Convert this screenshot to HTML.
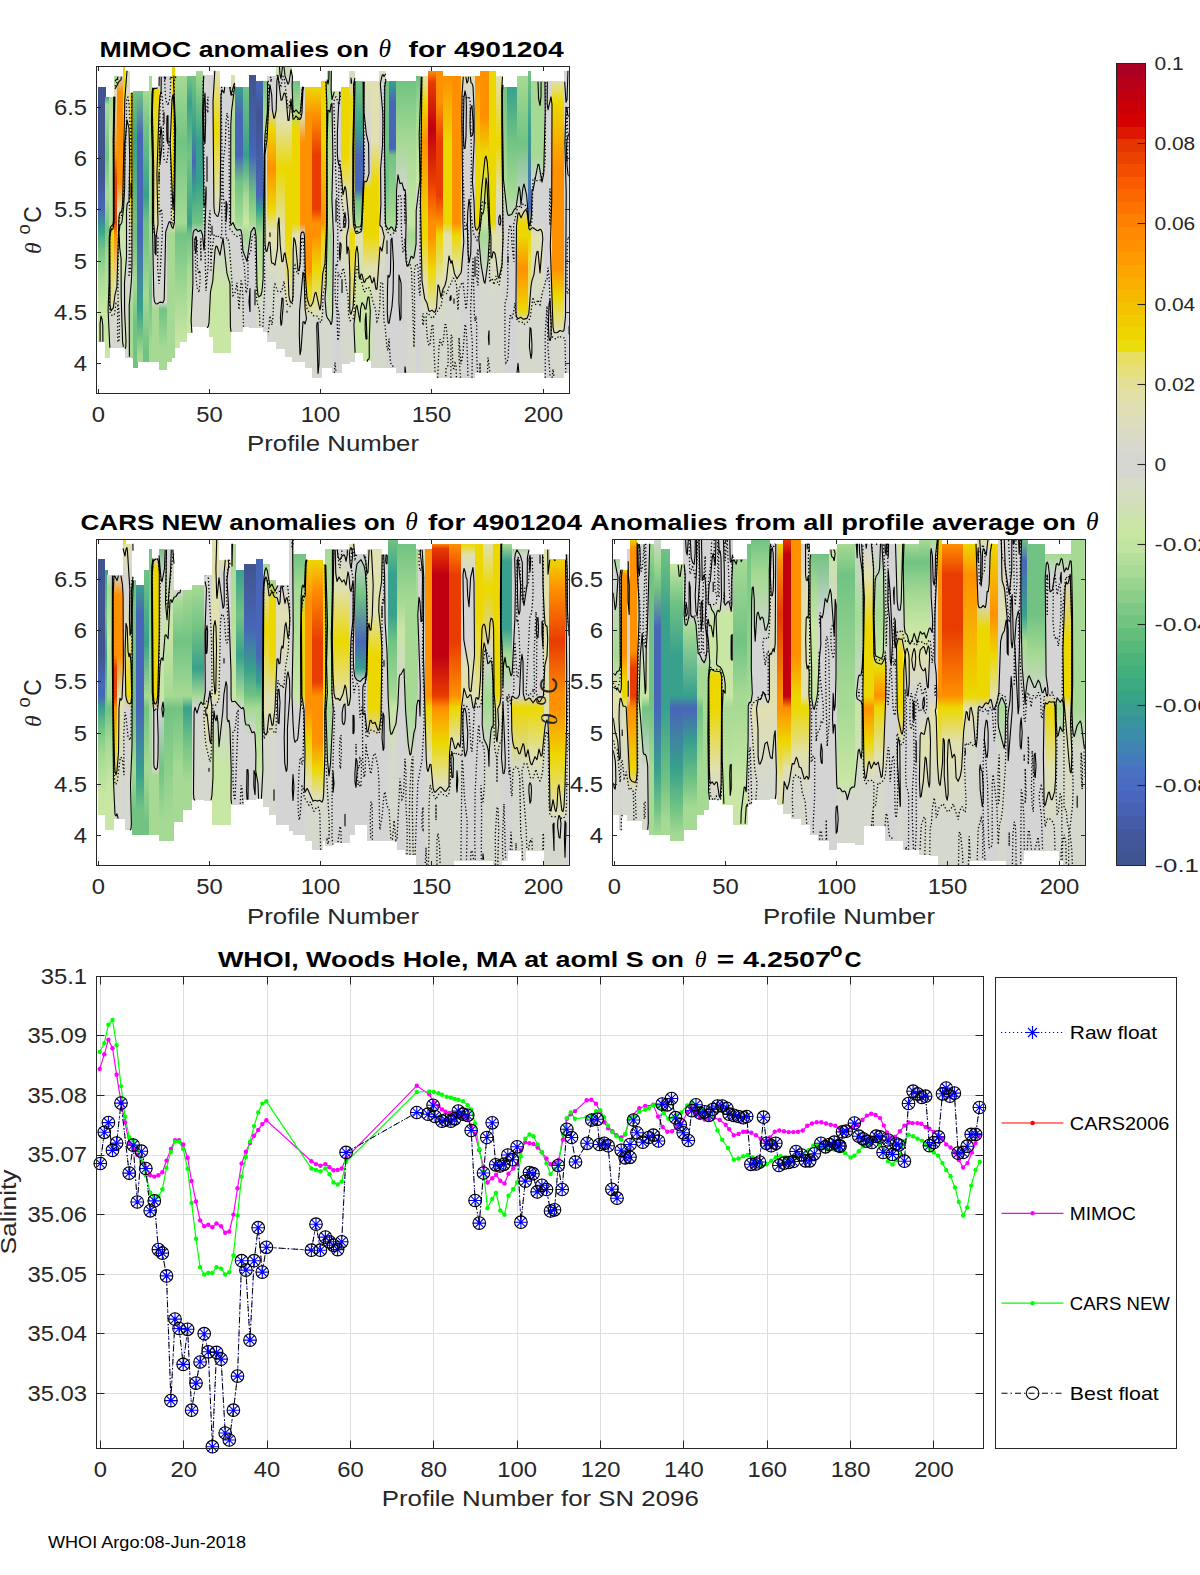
<!DOCTYPE html><html><head><meta charset="utf-8"><style>html,body{margin:0;padding:0;background:#fff;width:1200px;height:1575px;overflow:hidden}svg{display:block}</style></head><body>
<svg width="1200" height="1575" viewBox="0 0 1200 1575">
<rect x="0" y="0" width="1200" height="1575" fill="#fff"/>
<defs><clipPath id="clip0"><rect x="97.00" y="66.80" width="471.80" height="326.20"/></clipPath><linearGradient id="g1" x1="0" y1="0" x2="0" y2="1"><stop offset="0.000" stop-color="#40558f"/><stop offset="0.347" stop-color="#40558f"/><stop offset="0.477" stop-color="#4866b8"/><stop offset="0.557" stop-color="#38a08c"/><stop offset="0.635" stop-color="#72c383"/><stop offset="0.739" stop-color="#a6da94"/><stop offset="0.870" stop-color="#c8e6a4"/></linearGradient><linearGradient id="g2" x1="0" y1="0" x2="0" y2="1"><stop offset="0.000" stop-color="#38a08c"/><stop offset="0.031" stop-color="#a6da94"/><stop offset="0.225" stop-color="#72c383"/><stop offset="0.378" stop-color="#a6da94"/><stop offset="0.507" stop-color="#72c383"/><stop offset="0.609" stop-color="#a6da94"/><stop offset="0.814" stop-color="#c8e6a4"/></linearGradient><linearGradient id="g3" x1="0" y1="0" x2="0" y2="1"><stop offset="0.000" stop-color="#a6da94"/><stop offset="0.181" stop-color="#c8e6a4"/><stop offset="0.502" stop-color="#a6da94"/><stop offset="0.551" stop-color="#ecd800"/><stop offset="0.846" stop-color="#e0e0b0"/><stop offset="0.873" stop-color="#d5d8cd"/></linearGradient><linearGradient id="g4" x1="0" y1="0" x2="0" y2="1"><stop offset="0.000" stop-color="#a6da94"/><stop offset="0.061" stop-color="#e0e0b0"/><stop offset="0.292" stop-color="#ff9000"/><stop offset="0.380" stop-color="#e83c00"/><stop offset="0.540" stop-color="#e83c00"/><stop offset="0.585" stop-color="#ff9000"/><stop offset="0.760" stop-color="#e0e0b0"/><stop offset="0.858" stop-color="#d5d8cd"/></linearGradient><linearGradient id="g5" x1="0" y1="0" x2="0" y2="1"><stop offset="0.000" stop-color="#d4d4d4"/><stop offset="0.061" stop-color="#ff9000"/><stop offset="0.390" stop-color="#ff9000"/><stop offset="0.488" stop-color="#e0e0b0"/><stop offset="0.563" stop-color="#c8e6a4"/><stop offset="0.858" stop-color="#d5d8cd"/></linearGradient><linearGradient id="g6" x1="0" y1="0" x2="0" y2="1"><stop offset="0.000" stop-color="#ecd800"/><stop offset="0.175" stop-color="#ecd800"/><stop offset="0.270" stop-color="#e0e0b0"/><stop offset="0.579" stop-color="#c8e6a4"/><stop offset="0.863" stop-color="#c8e6a4"/></linearGradient><linearGradient id="g7" x1="0" y1="0" x2="0" y2="1"><stop offset="0.000" stop-color="#e0e0b0"/><stop offset="0.109" stop-color="#d4d4d4"/><stop offset="0.530" stop-color="#d4d4d4"/><stop offset="0.573" stop-color="#d4d4d4"/><stop offset="0.830" stop-color="#d5d8cd"/></linearGradient><linearGradient id="g8" x1="0" y1="0" x2="0" y2="1"><stop offset="0.000" stop-color="#ecd800"/><stop offset="0.387" stop-color="#ecd800"/><stop offset="0.513" stop-color="#e0e0b0"/><stop offset="0.665" stop-color="#d5d8cd"/><stop offset="0.816" stop-color="#a6da94"/></linearGradient><linearGradient id="g9" x1="0" y1="0" x2="0" y2="1"><stop offset="0.000" stop-color="#72c383"/><stop offset="0.183" stop-color="#38a08c"/><stop offset="0.475" stop-color="#72c383"/><stop offset="0.520" stop-color="#72c383"/><stop offset="0.691" stop-color="#a6da94"/><stop offset="0.836" stop-color="#72c383"/></linearGradient><linearGradient id="g10" x1="0" y1="0" x2="0" y2="1"><stop offset="0.000" stop-color="#72c383"/><stop offset="0.162" stop-color="#4866b8"/><stop offset="0.485" stop-color="#4866b8"/><stop offset="0.530" stop-color="#4866b8"/><stop offset="0.803" stop-color="#38a08c"/><stop offset="0.902" stop-color="#72c383"/><stop offset="0.975" stop-color="#a6da94"/></linearGradient><linearGradient id="g11" x1="0" y1="0" x2="0" y2="1"><stop offset="0.000" stop-color="#a6da94"/><stop offset="0.138" stop-color="#72c383"/><stop offset="0.384" stop-color="#38a08c"/><stop offset="0.485" stop-color="#72c383"/><stop offset="0.530" stop-color="#72c383"/><stop offset="0.754" stop-color="#a6da94"/><stop offset="0.951" stop-color="#72c383"/></linearGradient><linearGradient id="g12" x1="0" y1="0" x2="0" y2="1"><stop offset="0.000" stop-color="#a6da94"/><stop offset="0.533" stop-color="#a6da94"/><stop offset="0.767" stop-color="#72c383"/><stop offset="0.953" stop-color="#a6da94"/></linearGradient><linearGradient id="g13" x1="0" y1="0" x2="0" y2="1"><stop offset="0.000" stop-color="#d4d4d4"/><stop offset="0.010" stop-color="#ecd800"/><stop offset="0.492" stop-color="#e0e0b0"/><stop offset="0.537" stop-color="#d4d4d4"/><stop offset="0.782" stop-color="#d5d8cd"/><stop offset="0.806" stop-color="#a6da94"/><stop offset="0.952" stop-color="#a6da94"/></linearGradient><linearGradient id="g14" x1="0" y1="0" x2="0" y2="1"><stop offset="0.000" stop-color="#d4d4d4"/><stop offset="0.498" stop-color="#d4d4d4"/><stop offset="0.540" stop-color="#d4d4d4"/><stop offset="0.769" stop-color="#d5d8cd"/><stop offset="0.792" stop-color="#72c383"/><stop offset="0.928" stop-color="#a6da94"/></linearGradient><linearGradient id="g15" x1="0" y1="0" x2="0" y2="1"><stop offset="0.000" stop-color="#d4d4d4"/><stop offset="0.512" stop-color="#d4d4d4"/><stop offset="0.555" stop-color="#a6da94"/><stop offset="0.953" stop-color="#a6da94"/></linearGradient><linearGradient id="g16" x1="0" y1="0" x2="0" y2="1"><stop offset="0.000" stop-color="#ecd800"/><stop offset="0.397" stop-color="#ecd800"/><stop offset="0.536" stop-color="#e0e0b0"/><stop offset="0.578" stop-color="#a6da94"/><stop offset="0.968" stop-color="#a6da94"/></linearGradient><linearGradient id="g17" x1="0" y1="0" x2="0" y2="1"><stop offset="0.000" stop-color="#a6da94"/><stop offset="0.243" stop-color="#72c383"/><stop offset="0.540" stop-color="#a6da94"/><stop offset="0.585" stop-color="#72c383"/><stop offset="0.809" stop-color="#a6da94"/><stop offset="0.980" stop-color="#c8e6a4"/></linearGradient><linearGradient id="g18" x1="0" y1="0" x2="0" y2="1"><stop offset="0.000" stop-color="#a6da94"/><stop offset="0.248" stop-color="#72c383"/><stop offset="0.551" stop-color="#a6da94"/><stop offset="0.597" stop-color="#72c383"/><stop offset="0.825" stop-color="#a6da94"/><stop offset="1.000" stop-color="#c8e6a4"/></linearGradient><linearGradient id="g19" x1="0" y1="0" x2="0" y2="1"><stop offset="0.000" stop-color="#72c383"/><stop offset="0.101" stop-color="#38a08c"/><stop offset="0.309" stop-color="#72c383"/><stop offset="0.571" stop-color="#38a08c"/><stop offset="0.619" stop-color="#72c383"/><stop offset="0.751" stop-color="#a6da94"/><stop offset="0.958" stop-color="#c8e6a4"/></linearGradient><linearGradient id="g20" x1="0" y1="0" x2="0" y2="1"><stop offset="0.000" stop-color="#72c383"/><stop offset="0.210" stop-color="#38a08c"/><stop offset="0.343" stop-color="#4866b8"/><stop offset="0.449" stop-color="#38a08c"/><stop offset="0.584" stop-color="#72c383"/><stop offset="0.633" stop-color="#d4d4d4"/><stop offset="0.981" stop-color="#d5d8cd"/></linearGradient><linearGradient id="g21" x1="0" y1="0" x2="0" y2="1"><stop offset="0.000" stop-color="#a6da94"/><stop offset="0.122" stop-color="#72c383"/><stop offset="0.278" stop-color="#38a08c"/><stop offset="0.434" stop-color="#38a08c"/><stop offset="0.593" stop-color="#72c383"/><stop offset="0.641" stop-color="#d4d4d4"/><stop offset="0.982" stop-color="#d5d8cd"/></linearGradient><linearGradient id="g22" x1="0" y1="0" x2="0" y2="1"><stop offset="0.000" stop-color="#d4d4d4"/><stop offset="0.585" stop-color="#d4d4d4"/><stop offset="0.634" stop-color="#d4d4d4"/><stop offset="0.981" stop-color="#d5d8cd"/></linearGradient><linearGradient id="g23" x1="0" y1="0" x2="0" y2="1"><stop offset="0.000" stop-color="#d4d4d4"/><stop offset="0.563" stop-color="#d4d4d4"/><stop offset="0.610" stop-color="#d4d4d4"/><stop offset="0.791" stop-color="#d5d8cd"/><stop offset="0.817" stop-color="#c8e6a4"/><stop offset="0.995" stop-color="#c8e6a4"/></linearGradient><linearGradient id="g24" x1="0" y1="0" x2="0" y2="1"><stop offset="0.000" stop-color="#e0e0b0"/><stop offset="0.205" stop-color="#ecd800"/><stop offset="0.442" stop-color="#e0e0b0"/><stop offset="0.538" stop-color="#d4d4d4"/><stop offset="0.582" stop-color="#d4d4d4"/><stop offset="0.764" stop-color="#c8e6a4"/><stop offset="0.986" stop-color="#c8e6a4"/></linearGradient><linearGradient id="g25" x1="0" y1="0" x2="0" y2="1"><stop offset="0.000" stop-color="#d4d4d4"/><stop offset="0.511" stop-color="#d4d4d4"/><stop offset="0.557" stop-color="#d4d4d4"/><stop offset="0.785" stop-color="#c8e6a4"/><stop offset="0.985" stop-color="#c8e6a4"/></linearGradient><linearGradient id="g26" x1="0" y1="0" x2="0" y2="1"><stop offset="0.000" stop-color="#e0e0b0"/><stop offset="0.208" stop-color="#a6da94"/><stop offset="0.575" stop-color="#c8e6a4"/><stop offset="0.623" stop-color="#d4d4d4"/><stop offset="1.000" stop-color="#d5d8cd"/></linearGradient><linearGradient id="g27" x1="0" y1="0" x2="0" y2="1"><stop offset="0.000" stop-color="#38a08c"/><stop offset="0.117" stop-color="#4866b8"/><stop offset="0.280" stop-color="#4866b8"/><stop offset="0.389" stop-color="#72c383"/><stop offset="0.555" stop-color="#a6da94"/><stop offset="0.605" stop-color="#d4d4d4"/><stop offset="1.000" stop-color="#d5d8cd"/></linearGradient><linearGradient id="g28" x1="0" y1="0" x2="0" y2="1"><stop offset="0.000" stop-color="#72c383"/><stop offset="0.286" stop-color="#38a08c"/><stop offset="0.452" stop-color="#a6da94"/><stop offset="0.566" stop-color="#c8e6a4"/><stop offset="0.617" stop-color="#a6da94"/><stop offset="0.703" stop-color="#d4d4d4"/></linearGradient><linearGradient id="g29" x1="0" y1="0" x2="0" y2="1"><stop offset="0.000" stop-color="#40558f"/><stop offset="0.317" stop-color="#4866b8"/><stop offset="0.476" stop-color="#72c383"/><stop offset="0.584" stop-color="#a6da94"/><stop offset="0.633" stop-color="#d4d4d4"/></linearGradient><linearGradient id="g30" x1="0" y1="0" x2="0" y2="1"><stop offset="0.000" stop-color="#4866b8"/><stop offset="0.138" stop-color="#40558f"/><stop offset="0.463" stop-color="#4866b8"/><stop offset="0.517" stop-color="#38a08c"/><stop offset="0.575" stop-color="#72c383"/><stop offset="0.624" stop-color="#a6da94"/><stop offset="0.816" stop-color="#c8e6a4"/><stop offset="0.924" stop-color="#d5d8cd"/></linearGradient><linearGradient id="g31" x1="0" y1="0" x2="0" y2="1"><stop offset="0.000" stop-color="#72c383"/><stop offset="0.136" stop-color="#a6da94"/><stop offset="0.296" stop-color="#e0e0b0"/><stop offset="0.590" stop-color="#e0e0b0"/><stop offset="0.696" stop-color="#d4d4d4"/></linearGradient><linearGradient id="g32" x1="0" y1="0" x2="0" y2="1"><stop offset="0.000" stop-color="#d4d4d4"/><stop offset="0.123" stop-color="#d4d4d4"/><stop offset="0.198" stop-color="#ecd800"/><stop offset="0.348" stop-color="#ff9000"/><stop offset="0.498" stop-color="#ecd800"/><stop offset="0.574" stop-color="#e0e0b0"/><stop offset="0.625" stop-color="#e0e0b0"/><stop offset="0.775" stop-color="#d5d8cd"/></linearGradient><linearGradient id="g33" x1="0" y1="0" x2="0" y2="1"><stop offset="0.000" stop-color="#c8e6a4"/><stop offset="0.057" stop-color="#d4d4d4"/><stop offset="0.198" stop-color="#e0e0b0"/><stop offset="0.363" stop-color="#ecd800"/><stop offset="0.576" stop-color="#e0e0b0"/><stop offset="0.623" stop-color="#e0e0b0"/><stop offset="0.812" stop-color="#d5d8cd"/></linearGradient><linearGradient id="g34" x1="0" y1="0" x2="0" y2="1"><stop offset="0.000" stop-color="#c8e6a4"/><stop offset="0.055" stop-color="#d4d4d4"/><stop offset="0.192" stop-color="#e0e0b0"/><stop offset="0.353" stop-color="#ecd800"/><stop offset="0.539" stop-color="#ecd800"/><stop offset="0.581" stop-color="#ecd800"/><stop offset="0.789" stop-color="#e0e0b0"/><stop offset="0.835" stop-color="#d5d8cd"/></linearGradient><linearGradient id="g35" x1="0" y1="0" x2="0" y2="1"><stop offset="0.000" stop-color="#72c383"/><stop offset="0.097" stop-color="#a6da94"/><stop offset="0.168" stop-color="#ecd800"/><stop offset="0.504" stop-color="#ecd800"/><stop offset="0.547" stop-color="#e0e0b0"/><stop offset="0.715" stop-color="#d5d8cd"/></linearGradient><linearGradient id="g36" x1="0" y1="0" x2="0" y2="1"><stop offset="0.000" stop-color="#d4d4d4"/><stop offset="0.104" stop-color="#e0e0b0"/><stop offset="0.201" stop-color="#ff9000"/><stop offset="0.494" stop-color="#ff9000"/><stop offset="0.538" stop-color="#d4d4d4"/><stop offset="0.807" stop-color="#d5d8cd"/></linearGradient><linearGradient id="g37" x1="0" y1="0" x2="0" y2="1"><stop offset="0.000" stop-color="#ecd800"/><stop offset="0.102" stop-color="#ff9000"/><stop offset="0.339" stop-color="#ff9000"/><stop offset="0.485" stop-color="#ff9000"/><stop offset="0.528" stop-color="#ff9000"/><stop offset="0.649" stop-color="#ff9000"/><stop offset="0.720" stop-color="#ecd800"/><stop offset="0.815" stop-color="#d5d8cd"/></linearGradient><linearGradient id="g38" x1="0" y1="0" x2="0" y2="1"><stop offset="0.000" stop-color="#ecd800"/><stop offset="0.098" stop-color="#ff9000"/><stop offset="0.235" stop-color="#e83c00"/><stop offset="0.418" stop-color="#e83c00"/><stop offset="0.467" stop-color="#ff9000"/><stop offset="0.509" stop-color="#ff9000"/><stop offset="0.625" stop-color="#ecd800"/><stop offset="0.762" stop-color="#e0e0b0"/><stop offset="0.808" stop-color="#d5d8cd"/></linearGradient><linearGradient id="g39" x1="0" y1="0" x2="0" y2="1"><stop offset="0.000" stop-color="#ecd800"/><stop offset="0.212" stop-color="#ecd800"/><stop offset="0.495" stop-color="#ff9000"/><stop offset="0.537" stop-color="#ecd800"/><stop offset="0.749" stop-color="#d5d8cd"/></linearGradient><linearGradient id="g40" x1="0" y1="0" x2="0" y2="1"><stop offset="0.000" stop-color="#a6da94"/><stop offset="0.070" stop-color="#a6da94"/><stop offset="0.513" stop-color="#c8e6a4"/><stop offset="0.553" stop-color="#a6da94"/><stop offset="0.802" stop-color="#c8e6a4"/><stop offset="0.847" stop-color="#d5d8cd"/></linearGradient><linearGradient id="g41" x1="0" y1="0" x2="0" y2="1"><stop offset="0.000" stop-color="#c8e6a4"/><stop offset="0.038" stop-color="#d4d4d4"/><stop offset="0.467" stop-color="#d4d4d4"/><stop offset="0.510" stop-color="#d4d4d4"/></linearGradient><linearGradient id="g42" x1="0" y1="0" x2="0" y2="1"><stop offset="0.000" stop-color="#ecd800"/><stop offset="0.248" stop-color="#ecd800"/><stop offset="0.392" stop-color="#e0e0b0"/><stop offset="0.492" stop-color="#d4d4d4"/><stop offset="0.535" stop-color="#e0e0b0"/><stop offset="0.706" stop-color="#d5d8cd"/></linearGradient><linearGradient id="g43" x1="0" y1="0" x2="0" y2="1"><stop offset="0.000" stop-color="#e0e0b0"/><stop offset="0.039" stop-color="#d4d4d4"/><stop offset="0.107" stop-color="#ecd800"/><stop offset="0.522" stop-color="#e0e0b0"/><stop offset="0.563" stop-color="#ecd800"/><stop offset="0.817" stop-color="#e0e0b0"/><stop offset="0.863" stop-color="#d5d8cd"/></linearGradient><linearGradient id="g44" x1="0" y1="0" x2="0" y2="1"><stop offset="0.000" stop-color="#72c383"/><stop offset="0.174" stop-color="#38a08c"/><stop offset="0.272" stop-color="#4866b8"/><stop offset="0.395" stop-color="#4866b8"/><stop offset="0.444" stop-color="#72c383"/><stop offset="0.521" stop-color="#a6da94"/><stop offset="0.566" stop-color="#e0e0b0"/><stop offset="0.838" stop-color="#c8e6a4"/></linearGradient><linearGradient id="g45" x1="0" y1="0" x2="0" y2="1"><stop offset="0.000" stop-color="#e0e0b0"/><stop offset="0.217" stop-color="#d4d4d4"/><stop offset="0.336" stop-color="#d4d4d4"/><stop offset="0.384" stop-color="#ecd800"/><stop offset="0.506" stop-color="#ecd800"/><stop offset="0.549" stop-color="#ecd800"/><stop offset="0.671" stop-color="#e0e0b0"/><stop offset="0.814" stop-color="#c8e6a4"/></linearGradient><linearGradient id="g46" x1="0" y1="0" x2="0" y2="1"><stop offset="0.000" stop-color="#e0e0b0"/><stop offset="0.212" stop-color="#e0e0b0"/><stop offset="0.352" stop-color="#ecd800"/><stop offset="0.495" stop-color="#ecd800"/><stop offset="0.537" stop-color="#ecd800"/><stop offset="0.655" stop-color="#e0e0b0"/><stop offset="0.795" stop-color="#d5d8cd"/></linearGradient><linearGradient id="g47" x1="0" y1="0" x2="0" y2="1"><stop offset="0.000" stop-color="#e0e0b0"/><stop offset="0.038" stop-color="#d4d4d4"/><stop offset="0.513" stop-color="#d4d4d4"/><stop offset="0.553" stop-color="#e0e0b0"/><stop offset="0.713" stop-color="#d5d8cd"/></linearGradient><linearGradient id="g48" x1="0" y1="0" x2="0" y2="1"><stop offset="0.000" stop-color="#72c383"/><stop offset="0.352" stop-color="#72c383"/><stop offset="0.495" stop-color="#a6da94"/><stop offset="0.537" stop-color="#d4d4d4"/></linearGradient><linearGradient id="g49" x1="0" y1="0" x2="0" y2="1"><stop offset="0.000" stop-color="#38a08c"/><stop offset="0.072" stop-color="#4866b8"/><stop offset="0.235" stop-color="#4866b8"/><stop offset="0.258" stop-color="#72c383"/><stop offset="0.495" stop-color="#a6da94"/><stop offset="0.537" stop-color="#d4d4d4"/></linearGradient><linearGradient id="g50" x1="0" y1="0" x2="0" y2="1"><stop offset="0.000" stop-color="#72c383"/><stop offset="0.208" stop-color="#a6da94"/><stop offset="0.391" stop-color="#d4d4d4"/><stop offset="0.485" stop-color="#d4d4d4"/><stop offset="0.527" stop-color="#d4d4d4"/></linearGradient><linearGradient id="g51" x1="0" y1="0" x2="0" y2="1"><stop offset="0.000" stop-color="#72c383"/><stop offset="0.208" stop-color="#a6da94"/><stop offset="0.485" stop-color="#c8e6a4"/><stop offset="0.527" stop-color="#a6da94"/><stop offset="0.643" stop-color="#d5d8cd"/></linearGradient><linearGradient id="g52" x1="0" y1="0" x2="0" y2="1"><stop offset="0.000" stop-color="#72c383"/><stop offset="0.132" stop-color="#a6da94"/><stop offset="0.357" stop-color="#c8e6a4"/><stop offset="0.402" stop-color="#d4d4d4"/><stop offset="0.495" stop-color="#d4d4d4"/><stop offset="0.535" stop-color="#d4d4d4"/></linearGradient><linearGradient id="g53" x1="0" y1="0" x2="0" y2="1"><stop offset="0.000" stop-color="#e0e0b0"/><stop offset="0.088" stop-color="#ecd800"/><stop offset="0.222" stop-color="#ff9000"/><stop offset="0.495" stop-color="#ecd800"/><stop offset="0.535" stop-color="#ecd800"/><stop offset="0.695" stop-color="#e0e0b0"/><stop offset="0.807" stop-color="#d5d8cd"/></linearGradient><linearGradient id="g54" x1="0" y1="0" x2="0" y2="1"><stop offset="0.000" stop-color="#ff9000"/><stop offset="0.037" stop-color="#e83c00"/><stop offset="0.192" stop-color="#c00010"/><stop offset="0.368" stop-color="#e83c00"/><stop offset="0.504" stop-color="#ff9000"/><stop offset="0.544" stop-color="#ff9000"/><stop offset="0.656" stop-color="#ecd800"/><stop offset="0.788" stop-color="#e0e0b0"/><stop offset="0.810" stop-color="#d5d8cd"/></linearGradient><linearGradient id="g55" x1="0" y1="0" x2="0" y2="1"><stop offset="0.000" stop-color="#ff9000"/><stop offset="0.102" stop-color="#ff9000"/><stop offset="0.232" stop-color="#e83c00"/><stop offset="0.405" stop-color="#e83c00"/><stop offset="0.495" stop-color="#ff9000"/><stop offset="0.534" stop-color="#ecd800"/><stop offset="0.688" stop-color="#e0e0b0"/><stop offset="0.796" stop-color="#d5d8cd"/></linearGradient><linearGradient id="g56" x1="0" y1="0" x2="0" y2="1"><stop offset="0.000" stop-color="#ff9000"/><stop offset="0.218" stop-color="#ecd800"/><stop offset="0.486" stop-color="#ecd800"/><stop offset="0.526" stop-color="#e0e0b0"/><stop offset="0.638" stop-color="#e0e0b0"/><stop offset="0.727" stop-color="#d5d8cd"/></linearGradient><linearGradient id="g57" x1="0" y1="0" x2="0" y2="1"><stop offset="0.000" stop-color="#ff9000"/><stop offset="0.130" stop-color="#ff9000"/><stop offset="0.486" stop-color="#ff9000"/><stop offset="0.526" stop-color="#ecd800"/><stop offset="0.638" stop-color="#e0e0b0"/><stop offset="0.682" stop-color="#d5d8cd"/></linearGradient><linearGradient id="g58" x1="0" y1="0" x2="0" y2="1"><stop offset="0.000" stop-color="#e0e0b0"/><stop offset="0.064" stop-color="#d4d4d4"/><stop offset="0.486" stop-color="#d4d4d4"/><stop offset="0.526" stop-color="#d4d4d4"/></linearGradient><linearGradient id="g59" x1="0" y1="0" x2="0" y2="1"><stop offset="0.000" stop-color="#ff9000"/><stop offset="0.267" stop-color="#ecd800"/><stop offset="0.495" stop-color="#ecd800"/><stop offset="0.535" stop-color="#d4d4d4"/></linearGradient><linearGradient id="g60" x1="0" y1="0" x2="0" y2="1"><stop offset="0.000" stop-color="#ff9000"/><stop offset="0.148" stop-color="#ff9000"/><stop offset="0.280" stop-color="#ecd800"/><stop offset="0.504" stop-color="#c8e6a4"/><stop offset="0.544" stop-color="#a6da94"/><stop offset="0.678" stop-color="#d5d8cd"/></linearGradient><linearGradient id="g61" x1="0" y1="0" x2="0" y2="1"><stop offset="0.000" stop-color="#ecd800"/><stop offset="0.504" stop-color="#ecd800"/><stop offset="0.544" stop-color="#e0e0b0"/><stop offset="0.744" stop-color="#d5d8cd"/></linearGradient><linearGradient id="g62" x1="0" y1="0" x2="0" y2="1"><stop offset="0.000" stop-color="#e0e0b0"/><stop offset="0.222" stop-color="#ecd800"/><stop offset="0.402" stop-color="#e0e0b0"/><stop offset="0.495" stop-color="#d4d4d4"/><stop offset="0.535" stop-color="#e0e0b0"/><stop offset="0.740" stop-color="#d5d8cd"/></linearGradient><linearGradient id="g63" x1="0" y1="0" x2="0" y2="1"><stop offset="0.000" stop-color="#72c383"/><stop offset="0.333" stop-color="#a6da94"/><stop offset="0.476" stop-color="#d4d4d4"/><stop offset="0.518" stop-color="#d4d4d4"/></linearGradient><linearGradient id="g64" x1="0" y1="0" x2="0" y2="1"><stop offset="0.000" stop-color="#38a08c"/><stop offset="0.193" stop-color="#72c383"/><stop offset="0.380" stop-color="#a6da94"/><stop offset="0.476" stop-color="#d4d4d4"/><stop offset="0.518" stop-color="#d4d4d4"/></linearGradient><linearGradient id="g65" x1="0" y1="0" x2="0" y2="1"><stop offset="0.000" stop-color="#a6da94"/><stop offset="0.222" stop-color="#72c383"/><stop offset="0.447" stop-color="#d4d4d4"/><stop offset="0.495" stop-color="#ecd800"/><stop offset="0.535" stop-color="#ecd800"/><stop offset="0.650" stop-color="#ff9000"/><stop offset="0.785" stop-color="#ecd800"/><stop offset="0.829" stop-color="#d5d8cd"/></linearGradient><linearGradient id="g66" x1="0" y1="0" x2="0" y2="1"><stop offset="0.000" stop-color="#72c383"/><stop offset="0.192" stop-color="#38a08c"/><stop offset="0.456" stop-color="#4866b8"/><stop offset="0.504" stop-color="#a6da94"/><stop offset="0.544" stop-color="#ecd800"/><stop offset="0.788" stop-color="#e0e0b0"/><stop offset="0.832" stop-color="#d5d8cd"/></linearGradient><linearGradient id="g67" x1="0" y1="0" x2="0" y2="1"><stop offset="0.000" stop-color="#a6da94"/><stop offset="0.254" stop-color="#a6da94"/><stop offset="0.345" stop-color="#d4d4d4"/><stop offset="0.485" stop-color="#d4d4d4"/><stop offset="0.527" stop-color="#e0e0b0"/><stop offset="0.781" stop-color="#d5d8cd"/></linearGradient><linearGradient id="g68" x1="0" y1="0" x2="0" y2="1"><stop offset="0.000" stop-color="#d4d4d4"/><stop offset="0.477" stop-color="#d4d4d4"/><stop offset="0.517" stop-color="#d4d4d4"/></linearGradient><linearGradient id="g69" x1="0" y1="0" x2="0" y2="1"><stop offset="0.000" stop-color="#e0e0b0"/><stop offset="0.070" stop-color="#ecd800"/><stop offset="0.294" stop-color="#ff9000"/><stop offset="0.477" stop-color="#ff9000"/><stop offset="0.517" stop-color="#ff9000"/><stop offset="0.632" stop-color="#ff9000"/><stop offset="0.722" stop-color="#ecd800"/><stop offset="0.834" stop-color="#e0e0b0"/><stop offset="0.856" stop-color="#d5d8cd"/></linearGradient><linearGradient id="g70" x1="0" y1="0" x2="0" y2="1"><stop offset="0.000" stop-color="#d4d4d4"/><stop offset="0.504" stop-color="#d4d4d4"/><stop offset="0.544" stop-color="#d4d4d4"/></linearGradient><clipPath id="clip71"><rect x="97.00" y="539.70" width="471.80" height="325.30"/></clipPath><linearGradient id="g72" x1="0" y1="0" x2="0" y2="1"><stop offset="0.000" stop-color="#40558f"/><stop offset="0.375" stop-color="#40558f"/><stop offset="0.479" stop-color="#4866b8"/><stop offset="0.534" stop-color="#4866b8"/><stop offset="0.581" stop-color="#38a08c"/><stop offset="0.662" stop-color="#72c383"/><stop offset="0.766" stop-color="#a6da94"/><stop offset="0.922" stop-color="#c8e6a4"/></linearGradient><linearGradient id="g73" x1="0" y1="0" x2="0" y2="1"><stop offset="0.000" stop-color="#38a08c"/><stop offset="0.174" stop-color="#72c383"/><stop offset="0.328" stop-color="#38a08c"/><stop offset="0.485" stop-color="#72c383"/><stop offset="0.531" stop-color="#72c383"/><stop offset="0.662" stop-color="#a6da94"/><stop offset="0.867" stop-color="#c8e6a4"/></linearGradient><linearGradient id="g74" x1="0" y1="0" x2="0" y2="1"><stop offset="0.000" stop-color="#d4d4d4"/><stop offset="0.052" stop-color="#a6da94"/><stop offset="0.261" stop-color="#c8e6a4"/><stop offset="0.474" stop-color="#a6da94"/><stop offset="0.522" stop-color="#72c383"/><stop offset="0.655" stop-color="#a6da94"/><stop offset="0.812" stop-color="#c8e6a4"/></linearGradient><linearGradient id="g75" x1="0" y1="0" x2="0" y2="1"><stop offset="0.000" stop-color="#d4d4d4"/><stop offset="0.082" stop-color="#ff9000"/><stop offset="0.327" stop-color="#ff9000"/><stop offset="0.382" stop-color="#e83c00"/><stop offset="0.495" stop-color="#e83c00"/><stop offset="0.544" stop-color="#ff9000"/><stop offset="0.683" stop-color="#ecd800"/><stop offset="0.874" stop-color="#d5d8cd"/></linearGradient><linearGradient id="g76" x1="0" y1="0" x2="0" y2="1"><stop offset="0.000" stop-color="#d4d4d4"/><stop offset="0.082" stop-color="#ff9000"/><stop offset="0.327" stop-color="#ff9000"/><stop offset="0.495" stop-color="#e0e0b0"/><stop offset="0.544" stop-color="#e0e0b0"/><stop offset="0.847" stop-color="#d5d8cd"/></linearGradient><linearGradient id="g77" x1="0" y1="0" x2="0" y2="1"><stop offset="0.000" stop-color="#ecd800"/><stop offset="0.033" stop-color="#e0e0b0"/><stop offset="0.176" stop-color="#d4d4d4"/><stop offset="0.560" stop-color="#d4d4d4"/><stop offset="0.603" stop-color="#d4d4d4"/></linearGradient><linearGradient id="g78" x1="0" y1="0" x2="0" y2="1"><stop offset="0.000" stop-color="#e0e0b0"/><stop offset="0.156" stop-color="#d4d4d4"/><stop offset="0.296" stop-color="#e0e0b0"/><stop offset="0.532" stop-color="#ecd800"/><stop offset="0.574" stop-color="#d4d4d4"/><stop offset="0.786" stop-color="#d5d8cd"/></linearGradient><linearGradient id="g79" x1="0" y1="0" x2="0" y2="1"><stop offset="0.000" stop-color="#72c383"/><stop offset="0.453" stop-color="#72c383"/><stop offset="0.501" stop-color="#72c383"/><stop offset="0.739" stop-color="#a6da94"/><stop offset="0.895" stop-color="#72c383"/></linearGradient><linearGradient id="g80" x1="0" y1="0" x2="0" y2="1"><stop offset="0.000" stop-color="#38a08c"/><stop offset="0.120" stop-color="#4866b8"/><stop offset="0.443" stop-color="#4866b8"/><stop offset="0.491" stop-color="#4866b8"/><stop offset="0.760" stop-color="#38a08c"/><stop offset="0.893" stop-color="#72c383"/></linearGradient><linearGradient id="g81" x1="0" y1="0" x2="0" y2="1"><stop offset="0.000" stop-color="#72c383"/><stop offset="0.271" stop-color="#38a08c"/><stop offset="0.475" stop-color="#a6da94"/><stop offset="0.521" stop-color="#72c383"/><stop offset="0.749" stop-color="#a6da94"/><stop offset="0.950" stop-color="#72c383"/></linearGradient><linearGradient id="g82" x1="0" y1="0" x2="0" y2="1"><stop offset="0.000" stop-color="#72c383"/><stop offset="0.513" stop-color="#a6da94"/><stop offset="0.555" stop-color="#a6da94"/><stop offset="0.953" stop-color="#a6da94"/></linearGradient><linearGradient id="g83" x1="0" y1="0" x2="0" y2="1"><stop offset="0.000" stop-color="#d4d4d4"/><stop offset="0.036" stop-color="#ecd800"/><stop offset="0.497" stop-color="#ecd800"/><stop offset="0.540" stop-color="#d4d4d4"/><stop offset="0.759" stop-color="#d5d8cd"/><stop offset="0.783" stop-color="#a6da94"/></linearGradient><linearGradient id="g84" x1="0" y1="0" x2="0" y2="1"><stop offset="0.000" stop-color="#72c383"/><stop offset="0.089" stop-color="#d4d4d4"/><stop offset="0.504" stop-color="#c8e6a4"/><stop offset="0.545" stop-color="#d4d4d4"/><stop offset="0.753" stop-color="#72c383"/><stop offset="0.936" stop-color="#a6da94"/></linearGradient><linearGradient id="g85" x1="0" y1="0" x2="0" y2="1"><stop offset="0.000" stop-color="#d4d4d4"/><stop offset="0.272" stop-color="#c8e6a4"/><stop offset="0.504" stop-color="#a6da94"/><stop offset="0.545" stop-color="#72c383"/><stop offset="0.936" stop-color="#a6da94"/></linearGradient><linearGradient id="g86" x1="0" y1="0" x2="0" y2="1"><stop offset="0.000" stop-color="#d4d4d4"/><stop offset="0.052" stop-color="#a6da94"/><stop offset="0.224" stop-color="#72c383"/><stop offset="0.457" stop-color="#a6da94"/><stop offset="0.509" stop-color="#72c383"/><stop offset="0.770" stop-color="#a6da94"/></linearGradient><linearGradient id="g87" x1="0" y1="0" x2="0" y2="1"><stop offset="0.000" stop-color="#a6da94"/><stop offset="0.236" stop-color="#72c383"/><stop offset="0.482" stop-color="#a6da94"/><stop offset="0.537" stop-color="#38a08c"/><stop offset="0.691" stop-color="#72c383"/><stop offset="0.873" stop-color="#a6da94"/></linearGradient><linearGradient id="g88" x1="0" y1="0" x2="0" y2="1"><stop offset="0.000" stop-color="#a6da94"/><stop offset="0.202" stop-color="#72c383"/><stop offset="0.388" stop-color="#38a08c"/><stop offset="0.516" stop-color="#a6da94"/><stop offset="0.572" stop-color="#d4d4d4"/><stop offset="0.730" stop-color="#d5d8cd"/></linearGradient><linearGradient id="g89" x1="0" y1="0" x2="0" y2="1"><stop offset="0.000" stop-color="#d4d4d4"/><stop offset="0.536" stop-color="#d4d4d4"/><stop offset="0.589" stop-color="#e0e0b0"/><stop offset="0.858" stop-color="#d5d8cd"/></linearGradient><linearGradient id="g90" x1="0" y1="0" x2="0" y2="1"><stop offset="0.000" stop-color="#e0e0b0"/><stop offset="0.549" stop-color="#e0e0b0"/><stop offset="0.592" stop-color="#d4d4d4"/><stop offset="0.781" stop-color="#c8e6a4"/></linearGradient><linearGradient id="g91" x1="0" y1="0" x2="0" y2="1"><stop offset="0.000" stop-color="#e0e0b0"/><stop offset="0.058" stop-color="#d4d4d4"/><stop offset="0.514" stop-color="#d4d4d4"/><stop offset="0.560" stop-color="#d4d4d4"/><stop offset="0.789" stop-color="#c8e6a4"/></linearGradient><linearGradient id="g92" x1="0" y1="0" x2="0" y2="1"><stop offset="0.000" stop-color="#a6da94"/><stop offset="0.583" stop-color="#c8e6a4"/><stop offset="0.630" stop-color="#d4d4d4"/></linearGradient><linearGradient id="g93" x1="0" y1="0" x2="0" y2="1"><stop offset="0.000" stop-color="#38a08c"/><stop offset="0.193" stop-color="#72c383"/><stop offset="0.363" stop-color="#38a08c"/><stop offset="0.537" stop-color="#a6da94"/><stop offset="0.589" stop-color="#d4d4d4"/></linearGradient><linearGradient id="g94" x1="0" y1="0" x2="0" y2="1"><stop offset="0.000" stop-color="#40558f"/><stop offset="0.272" stop-color="#4866b8"/><stop offset="0.441" stop-color="#38a08c"/><stop offset="0.558" stop-color="#72c383"/><stop offset="0.610" stop-color="#a6da94"/><stop offset="0.726" stop-color="#d4d4d4"/></linearGradient><linearGradient id="g95" x1="0" y1="0" x2="0" y2="1"><stop offset="0.000" stop-color="#4866b8"/><stop offset="0.399" stop-color="#4866b8"/><stop offset="0.510" stop-color="#38a08c"/><stop offset="0.570" stop-color="#72c383"/><stop offset="0.620" stop-color="#a6da94"/><stop offset="0.872" stop-color="#c8e6a4"/><stop offset="0.928" stop-color="#d5d8cd"/></linearGradient><linearGradient id="g96" x1="0" y1="0" x2="0" y2="1"><stop offset="0.000" stop-color="#a6da94"/><stop offset="0.099" stop-color="#e0e0b0"/><stop offset="0.263" stop-color="#ecd800"/><stop offset="0.542" stop-color="#e0e0b0"/><stop offset="0.591" stop-color="#e0e0b0"/><stop offset="0.731" stop-color="#d5d8cd"/></linearGradient><linearGradient id="g97" x1="0" y1="0" x2="0" y2="1"><stop offset="0.000" stop-color="#a6da94"/><stop offset="0.091" stop-color="#ecd800"/><stop offset="0.318" stop-color="#ecd800"/><stop offset="0.492" stop-color="#e0e0b0"/><stop offset="0.543" stop-color="#e0e0b0"/><stop offset="0.688" stop-color="#d5d8cd"/></linearGradient><linearGradient id="g98" x1="0" y1="0" x2="0" y2="1"><stop offset="0.000" stop-color="#d4d4d4"/><stop offset="0.125" stop-color="#e0e0b0"/><stop offset="0.463" stop-color="#d4d4d4"/><stop offset="0.513" stop-color="#d4d4d4"/></linearGradient><linearGradient id="g99" x1="0" y1="0" x2="0" y2="1"><stop offset="0.000" stop-color="#d4d4d4"/><stop offset="0.537" stop-color="#d4d4d4"/><stop offset="0.578" stop-color="#d4d4d4"/></linearGradient><linearGradient id="g100" x1="0" y1="0" x2="0" y2="1"><stop offset="0.000" stop-color="#72c383"/><stop offset="0.121" stop-color="#a6da94"/><stop offset="0.504" stop-color="#c8e6a4"/><stop offset="0.547" stop-color="#d4d4d4"/></linearGradient><linearGradient id="g101" x1="0" y1="0" x2="0" y2="1"><stop offset="0.000" stop-color="#72c383"/><stop offset="0.121" stop-color="#a6da94"/><stop offset="0.216" stop-color="#ecd800"/><stop offset="0.504" stop-color="#ecd800"/><stop offset="0.547" stop-color="#d4d4d4"/></linearGradient><linearGradient id="g102" x1="0" y1="0" x2="0" y2="1"><stop offset="0.000" stop-color="#ecd800"/><stop offset="0.149" stop-color="#ff9000"/><stop offset="0.485" stop-color="#ff9000"/><stop offset="0.528" stop-color="#ff9000"/><stop offset="0.649" stop-color="#ecd800"/><stop offset="0.791" stop-color="#e0e0b0"/><stop offset="0.862" stop-color="#d5d8cd"/></linearGradient><linearGradient id="g103" x1="0" y1="0" x2="0" y2="1"><stop offset="0.000" stop-color="#ecd800"/><stop offset="0.099" stop-color="#ff9000"/><stop offset="0.282" stop-color="#e83c00"/><stop offset="0.420" stop-color="#e83c00"/><stop offset="0.469" stop-color="#ff9000"/><stop offset="0.511" stop-color="#ff9000"/><stop offset="0.628" stop-color="#ff9000"/><stop offset="0.720" stop-color="#ecd800"/><stop offset="0.812" stop-color="#e0e0b0"/><stop offset="0.858" stop-color="#d5d8cd"/></linearGradient><linearGradient id="g104" x1="0" y1="0" x2="0" y2="1"><stop offset="0.000" stop-color="#ecd800"/><stop offset="0.476" stop-color="#ecd800"/><stop offset="0.520" stop-color="#e0e0b0"/><stop offset="0.739" stop-color="#d5d8cd"/></linearGradient><linearGradient id="g105" x1="0" y1="0" x2="0" y2="1"><stop offset="0.000" stop-color="#a6da94"/><stop offset="0.495" stop-color="#c8e6a4"/><stop offset="0.535" stop-color="#a6da94"/><stop offset="0.785" stop-color="#d5d8cd"/></linearGradient><linearGradient id="g106" x1="0" y1="0" x2="0" y2="1"><stop offset="0.000" stop-color="#d4d4d4"/><stop offset="0.134" stop-color="#e0e0b0"/><stop offset="0.315" stop-color="#ecd800"/><stop offset="0.499" stop-color="#e0e0b0"/><stop offset="0.540" stop-color="#d4d4d4"/></linearGradient><linearGradient id="g107" x1="0" y1="0" x2="0" y2="1"><stop offset="0.000" stop-color="#e0e0b0"/><stop offset="0.037" stop-color="#d4d4d4"/><stop offset="0.522" stop-color="#d4d4d4"/><stop offset="0.563" stop-color="#d4d4d4"/></linearGradient><linearGradient id="g108" x1="0" y1="0" x2="0" y2="1"><stop offset="0.000" stop-color="#d4d4d4"/><stop offset="0.150" stop-color="#72c383"/><stop offset="0.322" stop-color="#4866b8"/><stop offset="0.421" stop-color="#38a08c"/><stop offset="0.470" stop-color="#d4d4d4"/><stop offset="0.523" stop-color="#d4d4d4"/><stop offset="0.567" stop-color="#d4d4d4"/></linearGradient><linearGradient id="g109" x1="0" y1="0" x2="0" y2="1"><stop offset="0.000" stop-color="#e0e0b0"/><stop offset="0.226" stop-color="#e0e0b0"/><stop offset="0.363" stop-color="#ecd800"/><stop offset="0.504" stop-color="#ecd800"/><stop offset="0.545" stop-color="#ecd800"/><stop offset="0.639" stop-color="#d4d4d4"/></linearGradient><linearGradient id="g110" x1="0" y1="0" x2="0" y2="1"><stop offset="0.000" stop-color="#d4d4d4"/><stop offset="0.495" stop-color="#d4d4d4"/><stop offset="0.537" stop-color="#d4d4d4"/></linearGradient><linearGradient id="g111" x1="0" y1="0" x2="0" y2="1"><stop offset="0.000" stop-color="#72c383"/><stop offset="0.119" stop-color="#38a08c"/><stop offset="0.252" stop-color="#38a08c"/><stop offset="0.340" stop-color="#72c383"/><stop offset="0.520" stop-color="#a6da94"/><stop offset="0.560" stop-color="#c8e6a4"/><stop offset="0.717" stop-color="#d5d8cd"/></linearGradient><linearGradient id="g112" x1="0" y1="0" x2="0" y2="1"><stop offset="0.000" stop-color="#72c383"/><stop offset="0.189" stop-color="#a6da94"/><stop offset="0.276" stop-color="#c8e6a4"/><stop offset="0.497" stop-color="#d4d4d4"/><stop offset="0.536" stop-color="#d4d4d4"/></linearGradient><linearGradient id="g113" x1="0" y1="0" x2="0" y2="1"><stop offset="0.000" stop-color="#72c383"/><stop offset="0.186" stop-color="#a6da94"/><stop offset="0.489" stop-color="#a6da94"/><stop offset="0.527" stop-color="#a6da94"/><stop offset="0.679" stop-color="#d5d8cd"/></linearGradient><linearGradient id="g114" x1="0" y1="0" x2="0" y2="1"><stop offset="0.000" stop-color="#a6da94"/><stop offset="0.464" stop-color="#a6da94"/><stop offset="0.503" stop-color="#d4d4d4"/></linearGradient><linearGradient id="g115" x1="0" y1="0" x2="0" y2="1"><stop offset="0.000" stop-color="#e0e0b0"/><stop offset="0.082" stop-color="#d4d4d4"/><stop offset="0.464" stop-color="#d4d4d4"/><stop offset="0.503" stop-color="#d4d4d4"/></linearGradient><linearGradient id="g116" x1="0" y1="0" x2="0" y2="1"><stop offset="0.000" stop-color="#ff9000"/><stop offset="0.209" stop-color="#ff9000"/><stop offset="0.464" stop-color="#ff9000"/><stop offset="0.503" stop-color="#ecd800"/><stop offset="0.652" stop-color="#e0e0b0"/><stop offset="0.737" stop-color="#d5d8cd"/></linearGradient><linearGradient id="g117" x1="0" y1="0" x2="0" y2="1"><stop offset="0.000" stop-color="#ff9000"/><stop offset="0.015" stop-color="#e83c00"/><stop offset="0.097" stop-color="#c00010"/><stop offset="0.346" stop-color="#c00010"/><stop offset="0.473" stop-color="#e83c00"/><stop offset="0.511" stop-color="#ff9000"/><stop offset="0.617" stop-color="#ecd800"/><stop offset="0.741" stop-color="#e0e0b0"/><stop offset="0.782" stop-color="#d5d8cd"/></linearGradient><linearGradient id="g118" x1="0" y1="0" x2="0" y2="1"><stop offset="0.000" stop-color="#ff9000"/><stop offset="0.097" stop-color="#e83c00"/><stop offset="0.305" stop-color="#e83c00"/><stop offset="0.473" stop-color="#ff9000"/><stop offset="0.511" stop-color="#ecd800"/><stop offset="0.617" stop-color="#e0e0b0"/><stop offset="0.658" stop-color="#d5d8cd"/></linearGradient><linearGradient id="g119" x1="0" y1="0" x2="0" y2="1"><stop offset="0.000" stop-color="#ff9000"/><stop offset="0.099" stop-color="#e83c00"/><stop offset="0.309" stop-color="#e83c00"/><stop offset="0.480" stop-color="#ff9000"/><stop offset="0.518" stop-color="#ecd800"/><stop offset="0.626" stop-color="#e0e0b0"/><stop offset="0.668" stop-color="#d5d8cd"/></linearGradient><linearGradient id="g120" x1="0" y1="0" x2="0" y2="1"><stop offset="0.000" stop-color="#ecd800"/><stop offset="0.036" stop-color="#e0e0b0"/><stop offset="0.099" stop-color="#d4d4d4"/><stop offset="0.309" stop-color="#d4d4d4"/><stop offset="0.393" stop-color="#e0e0b0"/><stop offset="0.480" stop-color="#e0e0b0"/><stop offset="0.518" stop-color="#d4d4d4"/></linearGradient><linearGradient id="g121" x1="0" y1="0" x2="0" y2="1"><stop offset="0.000" stop-color="#ecd800"/><stop offset="0.225" stop-color="#ecd800"/><stop offset="0.480" stop-color="#e0e0b0"/><stop offset="0.518" stop-color="#d4d4d4"/></linearGradient><linearGradient id="g122" x1="0" y1="0" x2="0" y2="1"><stop offset="0.000" stop-color="#e0e0b0"/><stop offset="0.141" stop-color="#ecd800"/><stop offset="0.351" stop-color="#d4d4d4"/><stop offset="0.480" stop-color="#a6da94"/><stop offset="0.518" stop-color="#a6da94"/><stop offset="0.647" stop-color="#d5d8cd"/></linearGradient><linearGradient id="g123" x1="0" y1="0" x2="0" y2="1"><stop offset="0.000" stop-color="#ecd800"/><stop offset="0.473" stop-color="#ecd800"/><stop offset="0.511" stop-color="#e0e0b0"/><stop offset="0.658" stop-color="#d5d8cd"/></linearGradient><linearGradient id="g124" x1="0" y1="0" x2="0" y2="1"><stop offset="0.000" stop-color="#a6da94"/><stop offset="0.057" stop-color="#38a08c"/><stop offset="0.267" stop-color="#38a08c"/><stop offset="0.351" stop-color="#a6da94"/><stop offset="0.480" stop-color="#d4d4d4"/><stop offset="0.518" stop-color="#d4d4d4"/></linearGradient><linearGradient id="g125" x1="0" y1="0" x2="0" y2="1"><stop offset="0.000" stop-color="#a6da94"/><stop offset="0.059" stop-color="#38a08c"/><stop offset="0.276" stop-color="#38a08c"/><stop offset="0.363" stop-color="#a6da94"/><stop offset="0.496" stop-color="#d4d4d4"/><stop offset="0.535" stop-color="#d4d4d4"/></linearGradient><linearGradient id="g126" x1="0" y1="0" x2="0" y2="1"><stop offset="0.000" stop-color="#a6da94"/><stop offset="0.020" stop-color="#d4d4d4"/><stop offset="0.487" stop-color="#d4d4d4"/><stop offset="0.527" stop-color="#ecd800"/><stop offset="0.728" stop-color="#d5d8cd"/></linearGradient><linearGradient id="g127" x1="0" y1="0" x2="0" y2="1"><stop offset="0.000" stop-color="#a6da94"/><stop offset="0.019" stop-color="#d4d4d4"/><stop offset="0.471" stop-color="#d4d4d4"/><stop offset="0.510" stop-color="#ecd800"/><stop offset="0.705" stop-color="#d5d8cd"/></linearGradient><linearGradient id="g128" x1="0" y1="0" x2="0" y2="1"><stop offset="0.000" stop-color="#a6da94"/><stop offset="0.020" stop-color="#d4d4d4"/><stop offset="0.487" stop-color="#d4d4d4"/><stop offset="0.527" stop-color="#ecd800"/><stop offset="0.728" stop-color="#d5d8cd"/></linearGradient><linearGradient id="g129" x1="0" y1="0" x2="0" y2="1"><stop offset="0.000" stop-color="#d4d4d4"/><stop offset="0.478" stop-color="#d4d4d4"/><stop offset="0.519" stop-color="#ecd800"/><stop offset="0.678" stop-color="#e0e0b0"/><stop offset="0.768" stop-color="#d5d8cd"/></linearGradient><linearGradient id="g130" x1="0" y1="0" x2="0" y2="1"><stop offset="0.000" stop-color="#e0e0b0"/><stop offset="0.464" stop-color="#e0e0b0"/><stop offset="0.503" stop-color="#e0e0b0"/><stop offset="0.610" stop-color="#d5d8cd"/></linearGradient><linearGradient id="g131" x1="0" y1="0" x2="0" y2="1"><stop offset="0.000" stop-color="#ecd800"/><stop offset="0.096" stop-color="#ff9000"/><stop offset="0.270" stop-color="#e83c00"/><stop offset="0.447" stop-color="#ff9000"/><stop offset="0.486" stop-color="#ff9000"/><stop offset="0.641" stop-color="#ecd800"/><stop offset="0.815" stop-color="#e0e0b0"/><stop offset="0.859" stop-color="#d5d8cd"/></linearGradient><linearGradient id="g132" x1="0" y1="0" x2="0" y2="1"><stop offset="0.000" stop-color="#d4d4d4"/><stop offset="0.455" stop-color="#d4d4d4"/><stop offset="0.494" stop-color="#d4d4d4"/></linearGradient><clipPath id="clip133"><rect x="613.20" y="539.70" width="471.70" height="325.30"/></clipPath><linearGradient id="g134" x1="0" y1="0" x2="0" y2="1"><stop offset="0.000" stop-color="#a6da94"/><stop offset="0.062" stop-color="#d4d4d4"/><stop offset="0.375" stop-color="#a6da94"/><stop offset="0.534" stop-color="#e0e0b0"/><stop offset="0.581" stop-color="#e0e0b0"/><stop offset="0.870" stop-color="#d5d8cd"/></linearGradient><linearGradient id="g135" x1="0" y1="0" x2="0" y2="1"><stop offset="0.000" stop-color="#d4d4d4"/><stop offset="0.328" stop-color="#c8e6a4"/><stop offset="0.485" stop-color="#e0e0b0"/><stop offset="0.531" stop-color="#d4d4d4"/></linearGradient><linearGradient id="g136" x1="0" y1="0" x2="0" y2="1"><stop offset="0.000" stop-color="#ecd800"/><stop offset="0.022" stop-color="#ff9000"/><stop offset="0.347" stop-color="#ff9000"/><stop offset="0.456" stop-color="#ecd800"/><stop offset="0.514" stop-color="#ecd800"/><stop offset="0.563" stop-color="#e0e0b0"/><stop offset="0.864" stop-color="#d5d8cd"/></linearGradient><linearGradient id="g137" x1="0" y1="0" x2="0" y2="1"><stop offset="0.000" stop-color="#d4d4d4"/><stop offset="0.541" stop-color="#d4d4d4"/><stop offset="0.585" stop-color="#ff9000"/><stop offset="0.882" stop-color="#d5d8cd"/></linearGradient><linearGradient id="g138" x1="0" y1="0" x2="0" y2="1"><stop offset="0.000" stop-color="#ecd800"/><stop offset="0.033" stop-color="#ff9000"/><stop offset="0.398" stop-color="#ff9000"/><stop offset="0.459" stop-color="#e83c00"/><stop offset="0.557" stop-color="#e83c00"/><stop offset="0.600" stop-color="#ff9000"/><stop offset="0.815" stop-color="#ecd800"/><stop offset="0.886" stop-color="#d5d8cd"/></linearGradient><linearGradient id="g139" x1="0" y1="0" x2="0" y2="1"><stop offset="0.000" stop-color="#d4d4d4"/><stop offset="0.306" stop-color="#d4d4d4"/><stop offset="0.550" stop-color="#c8e6a4"/><stop offset="0.593" stop-color="#c8e6a4"/><stop offset="0.812" stop-color="#d5d8cd"/></linearGradient><linearGradient id="g140" x1="0" y1="0" x2="0" y2="1"><stop offset="0.000" stop-color="#d4d4d4"/><stop offset="0.296" stop-color="#d4d4d4"/><stop offset="0.532" stop-color="#c8e6a4"/><stop offset="0.574" stop-color="#72c383"/><stop offset="0.786" stop-color="#d5d8cd"/></linearGradient><linearGradient id="g141" x1="0" y1="0" x2="0" y2="1"><stop offset="0.000" stop-color="#a6da94"/><stop offset="0.107" stop-color="#72c383"/><stop offset="0.522" stop-color="#72c383"/><stop offset="0.563" stop-color="#72c383"/><stop offset="0.771" stop-color="#a6da94"/></linearGradient><linearGradient id="g142" x1="0" y1="0" x2="0" y2="1"><stop offset="0.000" stop-color="#d4d4d4"/><stop offset="0.076" stop-color="#a6da94"/><stop offset="0.166" stop-color="#72c383"/><stop offset="0.301" stop-color="#4866b8"/><stop offset="0.530" stop-color="#4866b8"/><stop offset="0.570" stop-color="#4866b8"/><stop offset="0.775" stop-color="#38a08c"/><stop offset="0.910" stop-color="#72c383"/><stop offset="1.000" stop-color="#a6da94"/></linearGradient><linearGradient id="g143" x1="0" y1="0" x2="0" y2="1"><stop offset="0.000" stop-color="#72c383"/><stop offset="0.231" stop-color="#38a08c"/><stop offset="0.513" stop-color="#38a08c"/><stop offset="0.555" stop-color="#38a08c"/><stop offset="0.814" stop-color="#72c383"/><stop offset="0.953" stop-color="#a6da94"/></linearGradient><linearGradient id="g144" x1="0" y1="0" x2="0" y2="1"><stop offset="0.000" stop-color="#c8e6a4"/><stop offset="0.135" stop-color="#72c383"/><stop offset="0.328" stop-color="#38a08c"/><stop offset="0.476" stop-color="#38a08c"/><stop offset="0.520" stop-color="#4866b8"/><stop offset="0.739" stop-color="#38a08c"/><stop offset="0.884" stop-color="#72c383"/><stop offset="0.981" stop-color="#a6da94"/></linearGradient><linearGradient id="g145" x1="0" y1="0" x2="0" y2="1"><stop offset="0.000" stop-color="#d4d4d4"/><stop offset="0.261" stop-color="#d4d4d4"/><stop offset="0.307" stop-color="#a6da94"/><stop offset="0.539" stop-color="#38a08c"/><stop offset="0.581" stop-color="#4866b8"/><stop offset="0.698" stop-color="#38a08c"/><stop offset="0.835" stop-color="#72c383"/><stop offset="0.927" stop-color="#a6da94"/></linearGradient><linearGradient id="g146" x1="0" y1="0" x2="0" y2="1"><stop offset="0.000" stop-color="#d4d4d4"/><stop offset="0.227" stop-color="#d4d4d4"/><stop offset="0.420" stop-color="#d4d4d4"/><stop offset="0.468" stop-color="#a6da94"/><stop offset="0.568" stop-color="#a6da94"/><stop offset="0.612" stop-color="#72c383"/><stop offset="0.831" stop-color="#a6da94"/></linearGradient><linearGradient id="g147" x1="0" y1="0" x2="0" y2="1"><stop offset="0.000" stop-color="#d4d4d4"/><stop offset="0.428" stop-color="#d4d4d4"/><stop offset="0.477" stop-color="#a6da94"/><stop offset="0.579" stop-color="#a6da94"/><stop offset="0.624" stop-color="#a6da94"/></linearGradient><linearGradient id="g148" x1="0" y1="0" x2="0" y2="1"><stop offset="0.000" stop-color="#d4d4d4"/><stop offset="0.240" stop-color="#d4d4d4"/><stop offset="0.291" stop-color="#c8e6a4"/><stop offset="0.496" stop-color="#c8e6a4"/><stop offset="0.521" stop-color="#ecd800"/><stop offset="0.601" stop-color="#ecd800"/><stop offset="0.648" stop-color="#ecd800"/><stop offset="0.880" stop-color="#e0e0b0"/><stop offset="0.982" stop-color="#d5d8cd"/></linearGradient><linearGradient id="g149" x1="0" y1="0" x2="0" y2="1"><stop offset="0.000" stop-color="#d4d4d4"/><stop offset="0.236" stop-color="#d4d4d4"/><stop offset="0.286" stop-color="#c8e6a4"/><stop offset="0.591" stop-color="#c8e6a4"/><stop offset="0.636" stop-color="#a6da94"/><stop offset="0.965" stop-color="#c8e6a4"/></linearGradient><linearGradient id="g150" x1="0" y1="0" x2="0" y2="1"><stop offset="0.000" stop-color="#a6da94"/><stop offset="0.311" stop-color="#72c383"/><stop offset="0.515" stop-color="#a6da94"/><stop offset="0.561" stop-color="#a6da94"/><stop offset="0.839" stop-color="#c8e6a4"/></linearGradient><linearGradient id="g151" x1="0" y1="0" x2="0" y2="1"><stop offset="0.000" stop-color="#72c383"/><stop offset="0.583" stop-color="#a6da94"/><stop offset="0.630" stop-color="#d4d4d4"/></linearGradient><linearGradient id="g152" x1="0" y1="0" x2="0" y2="1"><stop offset="0.000" stop-color="#72c383"/><stop offset="0.138" stop-color="#a6da94"/><stop offset="0.393" stop-color="#d4d4d4"/><stop offset="0.601" stop-color="#d4d4d4"/><stop offset="0.648" stop-color="#e0e0b0"/><stop offset="0.931" stop-color="#d5d8cd"/></linearGradient><linearGradient id="g153" x1="0" y1="0" x2="0" y2="1"><stop offset="0.000" stop-color="#d4d4d4"/><stop offset="0.596" stop-color="#e0e0b0"/><stop offset="0.643" stop-color="#e0e0b0"/><stop offset="0.880" stop-color="#d5d8cd"/></linearGradient><linearGradient id="g154" x1="0" y1="0" x2="0" y2="1"><stop offset="0.000" stop-color="#ecd800"/><stop offset="0.069" stop-color="#ff9000"/><stop offset="0.273" stop-color="#e83c00"/><stop offset="0.583" stop-color="#ff9000"/><stop offset="0.630" stop-color="#ff9000"/><stop offset="0.760" stop-color="#ecd800"/><stop offset="0.913" stop-color="#e0e0b0"/></linearGradient><linearGradient id="g155" x1="0" y1="0" x2="0" y2="1"><stop offset="0.000" stop-color="#e83c00"/><stop offset="0.058" stop-color="#c00010"/><stop offset="0.571" stop-color="#c00010"/><stop offset="0.615" stop-color="#ff9000"/><stop offset="0.738" stop-color="#ecd800"/><stop offset="0.835" stop-color="#e0e0b0"/><stop offset="0.932" stop-color="#d5d8cd"/></linearGradient><linearGradient id="g156" x1="0" y1="0" x2="0" y2="1"><stop offset="0.000" stop-color="#ff9000"/><stop offset="0.176" stop-color="#ff9000"/><stop offset="0.414" stop-color="#ff9000"/><stop offset="0.560" stop-color="#ecd800"/><stop offset="0.603" stop-color="#ecd800"/><stop offset="0.772" stop-color="#e0e0b0"/><stop offset="0.867" stop-color="#d5d8cd"/></linearGradient><linearGradient id="g157" x1="0" y1="0" x2="0" y2="1"><stop offset="0.000" stop-color="#d4d4d4"/><stop offset="0.206" stop-color="#e0e0b0"/><stop offset="0.542" stop-color="#e0e0b0"/><stop offset="0.585" stop-color="#ecd800"/><stop offset="0.753" stop-color="#e0e0b0"/><stop offset="0.896" stop-color="#d5d8cd"/></linearGradient><linearGradient id="g158" x1="0" y1="0" x2="0" y2="1"><stop offset="0.000" stop-color="#72c383"/><stop offset="0.121" stop-color="#a6da94"/><stop offset="0.263" stop-color="#c8e6a4"/><stop offset="0.504" stop-color="#c8e6a4"/><stop offset="0.547" stop-color="#d4d4d4"/></linearGradient><linearGradient id="g159" x1="0" y1="0" x2="0" y2="1"><stop offset="0.000" stop-color="#72c383"/><stop offset="0.212" stop-color="#d4d4d4"/><stop offset="0.495" stop-color="#d4d4d4"/><stop offset="0.537" stop-color="#d4d4d4"/></linearGradient><linearGradient id="g160" x1="0" y1="0" x2="0" y2="1"><stop offset="0.000" stop-color="#c8e6a4"/><stop offset="0.264" stop-color="#d4d4d4"/><stop offset="0.488" stop-color="#d4d4d4"/><stop offset="0.528" stop-color="#d4d4d4"/></linearGradient><linearGradient id="g161" x1="0" y1="0" x2="0" y2="1"><stop offset="0.000" stop-color="#a6da94"/><stop offset="0.105" stop-color="#72c383"/><stop offset="0.508" stop-color="#a6da94"/><stop offset="0.548" stop-color="#a6da94"/><stop offset="0.795" stop-color="#c8e6a4"/><stop offset="0.840" stop-color="#d5d8cd"/></linearGradient><linearGradient id="g162" x1="0" y1="0" x2="0" y2="1"><stop offset="0.000" stop-color="#d4d4d4"/><stop offset="0.236" stop-color="#a6da94"/><stop offset="0.505" stop-color="#d4d4d4"/><stop offset="0.545" stop-color="#c8e6a4"/><stop offset="0.790" stop-color="#d5d8cd"/></linearGradient><linearGradient id="g163" x1="0" y1="0" x2="0" y2="1"><stop offset="0.000" stop-color="#d4d4d4"/><stop offset="0.111" stop-color="#e0e0b0"/><stop offset="0.300" stop-color="#ecd800"/><stop offset="0.539" stop-color="#ecd800"/><stop offset="0.582" stop-color="#ff9000"/><stop offset="0.702" stop-color="#ecd800"/><stop offset="0.797" stop-color="#e0e0b0"/><stop offset="0.844" stop-color="#d5d8cd"/></linearGradient><linearGradient id="g164" x1="0" y1="0" x2="0" y2="1"><stop offset="0.000" stop-color="#d4d4d4"/><stop offset="0.253" stop-color="#a6da94"/><stop offset="0.394" stop-color="#c8e6a4"/><stop offset="0.442" stop-color="#ecd800"/><stop offset="0.539" stop-color="#ff9000"/><stop offset="0.582" stop-color="#ecd800"/><stop offset="0.750" stop-color="#e0e0b0"/><stop offset="0.844" stop-color="#d5d8cd"/></linearGradient><linearGradient id="g165" x1="0" y1="0" x2="0" y2="1"><stop offset="0.000" stop-color="#d4d4d4"/><stop offset="0.513" stop-color="#d4d4d4"/><stop offset="0.553" stop-color="#d4d4d4"/></linearGradient><linearGradient id="g166" x1="0" y1="0" x2="0" y2="1"><stop offset="0.000" stop-color="#c8e6a4"/><stop offset="0.285" stop-color="#d4d4d4"/><stop offset="0.375" stop-color="#ecd800"/><stop offset="0.513" stop-color="#ecd800"/><stop offset="0.553" stop-color="#ecd800"/><stop offset="0.668" stop-color="#d5d8cd"/></linearGradient><linearGradient id="g167" x1="0" y1="0" x2="0" y2="1"><stop offset="0.000" stop-color="#a6da94"/><stop offset="0.059" stop-color="#72c383"/><stop offset="0.168" stop-color="#a6da94"/><stop offset="0.276" stop-color="#c8e6a4"/><stop offset="0.363" stop-color="#e0e0b0"/><stop offset="0.497" stop-color="#d4d4d4"/><stop offset="0.536" stop-color="#d4d4d4"/></linearGradient><linearGradient id="g168" x1="0" y1="0" x2="0" y2="1"><stop offset="0.000" stop-color="#a6da94"/><stop offset="0.072" stop-color="#72c383"/><stop offset="0.177" stop-color="#a6da94"/><stop offset="0.282" stop-color="#c8e6a4"/><stop offset="0.367" stop-color="#e0e0b0"/><stop offset="0.496" stop-color="#d4d4d4"/><stop offset="0.534" stop-color="#d4d4d4"/><stop offset="0.642" stop-color="#e0e0b0"/><stop offset="0.895" stop-color="#d5d8cd"/></linearGradient><linearGradient id="g169" x1="0" y1="0" x2="0" y2="1"><stop offset="0.000" stop-color="#a6da94"/><stop offset="0.050" stop-color="#d4d4d4"/><stop offset="0.495" stop-color="#d4d4d4"/><stop offset="0.533" stop-color="#e0e0b0"/><stop offset="0.851" stop-color="#d5d8cd"/></linearGradient><linearGradient id="g170" x1="0" y1="0" x2="0" y2="1"><stop offset="0.000" stop-color="#ecd800"/><stop offset="0.110" stop-color="#ff9000"/><stop offset="0.481" stop-color="#ff9000"/><stop offset="0.518" stop-color="#ecd800"/><stop offset="0.704" stop-color="#e0e0b0"/><stop offset="0.847" stop-color="#d5d8cd"/></linearGradient><linearGradient id="g171" x1="0" y1="0" x2="0" y2="1"><stop offset="0.000" stop-color="#ff9000"/><stop offset="0.097" stop-color="#e83c00"/><stop offset="0.263" stop-color="#e83c00"/><stop offset="0.473" stop-color="#ff9000"/><stop offset="0.511" stop-color="#ecd800"/><stop offset="0.617" stop-color="#e0e0b0"/><stop offset="0.845" stop-color="#d5d8cd"/></linearGradient><linearGradient id="g172" x1="0" y1="0" x2="0" y2="1"><stop offset="0.000" stop-color="#ecd800"/><stop offset="0.097" stop-color="#ff9000"/><stop offset="0.473" stop-color="#ecd800"/><stop offset="0.511" stop-color="#e0e0b0"/><stop offset="0.658" stop-color="#d5d8cd"/></linearGradient><linearGradient id="g173" x1="0" y1="0" x2="0" y2="1"><stop offset="0.000" stop-color="#ecd800"/><stop offset="0.099" stop-color="#ff9000"/><stop offset="0.480" stop-color="#ecd800"/><stop offset="0.518" stop-color="#e0e0b0"/><stop offset="0.668" stop-color="#d5d8cd"/></linearGradient><linearGradient id="g174" x1="0" y1="0" x2="0" y2="1"><stop offset="0.000" stop-color="#e0e0b0"/><stop offset="0.050" stop-color="#d4d4d4"/><stop offset="0.195" stop-color="#d4d4d4"/><stop offset="0.278" stop-color="#ecd800"/><stop offset="0.488" stop-color="#ecd800"/><stop offset="0.525" stop-color="#d4d4d4"/></linearGradient><linearGradient id="g175" x1="0" y1="0" x2="0" y2="1"><stop offset="0.000" stop-color="#ecd800"/><stop offset="0.225" stop-color="#ff9000"/><stop offset="0.351" stop-color="#ecd800"/><stop offset="0.480" stop-color="#e0e0b0"/><stop offset="0.518" stop-color="#d4d4d4"/></linearGradient><linearGradient id="g176" x1="0" y1="0" x2="0" y2="1"><stop offset="0.000" stop-color="#d4d4d4"/><stop offset="0.236" stop-color="#e0e0b0"/><stop offset="0.319" stop-color="#d4d4d4"/><stop offset="0.488" stop-color="#d4d4d4"/><stop offset="0.525" stop-color="#a6da94"/><stop offset="0.652" stop-color="#d5d8cd"/></linearGradient><linearGradient id="g177" x1="0" y1="0" x2="0" y2="1"><stop offset="0.000" stop-color="#d4d4d4"/><stop offset="0.481" stop-color="#d4d4d4"/><stop offset="0.518" stop-color="#d4d4d4"/></linearGradient><linearGradient id="g178" x1="0" y1="0" x2="0" y2="1"><stop offset="0.000" stop-color="#72c383"/><stop offset="0.070" stop-color="#4866b8"/><stop offset="0.236" stop-color="#38a08c"/><stop offset="0.319" stop-color="#a6da94"/><stop offset="0.488" stop-color="#d4d4d4"/><stop offset="0.525" stop-color="#d4d4d4"/></linearGradient><linearGradient id="g179" x1="0" y1="0" x2="0" y2="1"><stop offset="0.000" stop-color="#72c383"/><stop offset="0.073" stop-color="#4866b8"/><stop offset="0.244" stop-color="#38a08c"/><stop offset="0.329" stop-color="#a6da94"/><stop offset="0.504" stop-color="#d4d4d4"/><stop offset="0.542" stop-color="#d4d4d4"/></linearGradient><linearGradient id="g180" x1="0" y1="0" x2="0" y2="1"><stop offset="0.000" stop-color="#72c383"/><stop offset="0.232" stop-color="#72c383"/><stop offset="0.363" stop-color="#a6da94"/><stop offset="0.496" stop-color="#d4d4d4"/><stop offset="0.535" stop-color="#d4d4d4"/></linearGradient><linearGradient id="g181" x1="0" y1="0" x2="0" y2="1"><stop offset="0.000" stop-color="#a6da94"/><stop offset="0.070" stop-color="#d4d4d4"/><stop offset="0.478" stop-color="#d4d4d4"/><stop offset="0.519" stop-color="#ecd800"/><stop offset="0.723" stop-color="#e0e0b0"/><stop offset="0.926" stop-color="#d5d8cd"/></linearGradient><linearGradient id="g182" x1="0" y1="0" x2="0" y2="1"><stop offset="0.000" stop-color="#a6da94"/><stop offset="0.070" stop-color="#d4d4d4"/><stop offset="0.478" stop-color="#d4d4d4"/><stop offset="0.519" stop-color="#a6da94"/><stop offset="0.633" stop-color="#d5d8cd"/></linearGradient><linearGradient id="g183" x1="0" y1="0" x2="0" y2="1"><stop offset="0.000" stop-color="#a6da94"/><stop offset="0.067" stop-color="#d4d4d4"/><stop offset="0.462" stop-color="#d4d4d4"/><stop offset="0.502" stop-color="#a6da94"/><stop offset="0.613" stop-color="#d5d8cd"/></linearGradient><linearGradient id="g184" x1="0" y1="0" x2="0" y2="1"><stop offset="0.000" stop-color="#a6da94"/><stop offset="0.066" stop-color="#d4d4d4"/><stop offset="0.281" stop-color="#ecd800"/><stop offset="0.455" stop-color="#ecd800"/><stop offset="0.494" stop-color="#e0e0b0"/><stop offset="0.882" stop-color="#d5d8cd"/></linearGradient><linearGradient id="g185" x1="0" y1="0" x2="0" y2="1"><stop offset="0.000" stop-color="#a6da94"/><stop offset="0.481" stop-color="#a6da94"/><stop offset="0.518" stop-color="#a6da94"/><stop offset="0.642" stop-color="#d5d8cd"/></linearGradient></defs>
<g clip-path="url(#clip0)"><g shape-rendering="crispEdges"><rect x="98.00" y="86.67" width="7.63" height="255.67" fill="url(#g1)"/><rect x="105.33" y="96.67" width="4.30" height="261.00" fill="url(#g2)"/><rect x="109.33" y="96.67" width="4.97" height="251.00" fill="url(#g3)"/><rect x="114.00" y="76.00" width="3.63" height="271.67" fill="url(#g4)"/><rect x="117.33" y="76.00" width="5.63" height="271.67" fill="url(#g5)"/><rect x="122.67" y="66.00" width="2.30" height="281.67" fill="url(#g6)"/><rect x="124.67" y="70.67" width="5.63" height="287.00" fill="url(#g7)"/><rect x="130.00" y="92.67" width="2.97" height="265.00" fill="url(#g8)"/><rect x="132.67" y="91.33" width="4.97" height="276.33" fill="url(#g9)"/><rect x="137.33" y="91.33" width="6.30" height="271.00" fill="url(#g10)"/><rect x="143.33" y="91.33" width="6.30" height="271.00" fill="url(#g11)"/><rect x="149.33" y="76.00" width="2.97" height="286.33" fill="url(#g12)"/><rect x="152.00" y="87.33" width="6.97" height="275.00" fill="url(#g13)"/><rect x="158.67" y="76.00" width="8.30" height="294.33" fill="url(#g14)"/><rect x="166.67" y="76.00" width="5.63" height="286.33" fill="url(#g15)"/><rect x="172.00" y="66.00" width="2.97" height="292.33" fill="url(#g16)"/><rect x="174.67" y="76.00" width="5.63" height="271.67" fill="url(#g17)"/><rect x="180.00" y="76.00" width="6.97" height="266.33" fill="url(#g18)"/><rect x="186.67" y="76.00" width="5.63" height="257.00" fill="url(#g19)"/><rect x="192.00" y="76.00" width="4.30" height="251.00" fill="url(#g20)"/><rect x="196.00" y="70.67" width="6.97" height="256.33" fill="url(#g21)"/><rect x="202.67" y="75.33" width="6.97" height="251.67" fill="url(#g22)"/><rect x="209.33" y="75.33" width="4.30" height="261.67" fill="url(#g23)"/><rect x="213.33" y="70.67" width="6.97" height="282.33" fill="url(#g24)"/><rect x="220.00" y="86.67" width="10.97" height="266.33" fill="url(#g25)"/><rect x="230.67" y="75.33" width="4.30" height="256.33" fill="url(#g26)"/><rect x="234.67" y="86.67" width="8.30" height="245.00" fill="url(#g27)"/><rect x="242.67" y="86.67" width="6.97" height="240.33" fill="url(#g28)"/><rect x="249.33" y="75.33" width="6.97" height="252.33" fill="url(#g29)"/><rect x="256.00" y="81.33" width="7.63" height="246.33" fill="url(#g30)"/><rect x="263.33" y="81.33" width="4.30" height="250.33" fill="url(#g31)"/><rect x="267.33" y="76.00" width="8.97" height="266.33" fill="url(#g32)"/><rect x="276.00" y="66.00" width="9.63" height="283.00" fill="url(#g33)"/><rect x="285.33" y="66.00" width="6.97" height="291.00" fill="url(#g34)"/><rect x="292.00" y="81.33" width="8.30" height="281.00" fill="url(#g35)"/><rect x="300.00" y="86.67" width="5.63" height="275.67" fill="url(#g36)"/><rect x="305.33" y="86.67" width="6.97" height="281.00" fill="url(#g37)"/><rect x="312.00" y="86.67" width="9.63" height="291.67" fill="url(#g38)"/><rect x="321.33" y="81.33" width="5.63" height="286.33" fill="url(#g39)"/><rect x="326.67" y="70.67" width="5.63" height="297.00" fill="url(#g40)"/><rect x="332.00" y="91.33" width="9.63" height="281.67" fill="url(#g41)"/><rect x="341.33" y="86.67" width="8.30" height="277.00" fill="url(#g42)"/><rect x="349.33" y="70.67" width="5.63" height="291.67" fill="url(#g43)"/><rect x="354.67" y="81.33" width="8.30" height="271.67" fill="url(#g44)"/><rect x="362.67" y="81.33" width="8.30" height="279.67" fill="url(#g45)"/><rect x="370.67" y="81.33" width="8.30" height="286.33" fill="url(#g46)"/><rect x="378.67" y="70.67" width="6.97" height="297.00" fill="url(#g47)"/><rect x="385.33" y="81.33" width="4.30" height="286.33" fill="url(#g48)"/><rect x="389.33" y="81.33" width="6.97" height="286.33" fill="url(#g49)"/><rect x="396.00" y="81.33" width="10.97" height="291.67" fill="url(#g50)"/><rect x="406.67" y="81.33" width="9.63" height="291.67" fill="url(#g51)"/><rect x="416.00" y="76.00" width="5.63" height="297.00" fill="url(#g52)"/><rect x="421.33" y="76.00" width="6.97" height="297.00" fill="url(#g53)"/><rect x="428.00" y="70.67" width="8.30" height="302.33" fill="url(#g54)"/><rect x="436.00" y="70.67" width="6.97" height="307.67" fill="url(#g55)"/><rect x="442.67" y="76.00" width="9.63" height="302.33" fill="url(#g56)"/><rect x="452.00" y="76.00" width="9.63" height="302.33" fill="url(#g57)"/><rect x="461.33" y="76.00" width="13.63" height="302.33" fill="url(#g58)"/><rect x="474.67" y="76.00" width="5.63" height="297.00" fill="url(#g59)"/><rect x="480.00" y="70.67" width="9.63" height="302.33" fill="url(#g60)"/><rect x="489.33" y="70.67" width="6.97" height="302.33" fill="url(#g61)"/><rect x="496.00" y="76.00" width="6.97" height="297.00" fill="url(#g62)"/><rect x="502.67" y="86.67" width="4.30" height="286.33" fill="url(#g63)"/><rect x="506.67" y="86.67" width="10.97" height="286.33" fill="url(#g64)"/><rect x="517.33" y="76.00" width="10.97" height="297.00" fill="url(#g65)"/><rect x="528.00" y="70.67" width="2.97" height="302.33" fill="url(#g66)"/><rect x="530.67" y="81.33" width="13.63" height="291.67" fill="url(#g67)"/><rect x="544.00" y="81.33" width="8.30" height="297.00" fill="url(#g68)"/><rect x="552.00" y="81.33" width="12.30" height="297.00" fill="url(#g69)"/><rect x="564.00" y="70.67" width="6.97" height="302.33" fill="url(#g70)"/></g><path d="M127.0 70.8l-2.2 29 -2.1 102 -0.7 7.7 -1 3.1 -1 -0.3 -1 4 -2.1 70.5 -1.9 8 -1.7 13 -2.3 3.1 -1 -6.1 -0.2 -66 0.8 -7 0.4 -1.5 2 -1.4 1 -6.7 0 -81.4 0.9 -44M115.0 89.0l4 -7.6 2 -1.5 0.3 -3.1M161.2 76.8l-0.1 15 -1.1 3.8 -0.9 14.2 -2.2 65 1.1 49 -1.9 13 -0.1 18.1 -1 -1.8 -0.2 -16.3 -1.2 -15 0.1 -53 -1.3 -56 0.6 -22 1 -2.4 2 0.1 1.5 -0.7M159.0 86.2l0.2 -9.4M172.2 76.8l-0.2 0.9 -1 0 -0.4 -0.9M224.8 86.8l-0.8 6.2 -2 -3.1 -1 5.5 -0.7 100.4 -0.9 15 -1.4 5.6 -1 -0.1 -2.5 -3.5 -0.6 -7 -0.9 -104 1.8 -31M234.5 82.8l-3.5 12.1 -1.3 -8.1M385.7 73.8l-1.7 2.7 -1 -2 -1 1.4 -1.7 7.9 2.4 28 0.2 12 -0.4 22 -1.9 23 0.3 36 -1 19 0.1 1.7 2 1.9 2.3 9.4 -2.3 14.3 -2 -4.1 -3 42.1 -1 0.2 -2 -11.7 -1 4 -1 1.3 -2 -7.2 -2 2.4 -2 0.9 -1 2.7 -1 0.8 -2 -8.1 -1 -0.4 -1 5 -0.8 -1.2 -1.1 -24 -1.1 -7.6 -1.2 5.6 -2.7 55 -2.1 7.5 -1 -2 -0.3 -4.5 0.2 -30 -0.9 -27.2 -1 -3.8 -1 7 -0.4 -11 0.1 -7 1.9 -9 0.2 -6 -2.8 -31.2 -1 -3.1 -2 8.1 -2 -23.3 -1 -5.6 -1 -0.7 -1 -3.8 -0.7 -7.4 0.1 -22 1.2 -26 1.2 -10 -0.3 -4M354.9 77.8l-1.4 7 0.4 17 -1.1 46 -0.1 61 0.8 16 1.5 6.1 1 2.3 1 0.4 4 -1.9 0.8 -2.9 2.2 -46.3 1 -1.2 1 0.6 1 -1.2 2 -7 -0.4 -29.9 -2.3 -10 -2.3 -21.9 0.2 -30.1M463.3 76.8l-1.3 18.3 -0.2 24.7 1.2 104.5 0.8 17.5 -2.3 28 -0.5 3 -4 6 -2.5 -5 -2.5 -13.2 -1 2.7 -2 -7.3 -2.4 22.8 -1.6 6.6 -2 3.7 -2 8.2 -2 -10.8 -1 -1.6 -1.5 22.9 -1.5 4.3 -1 0 -2 -2 -2 1.3 -1.1 -0.6 -1.9 -7.7 -2.3 -4.3 -2.7 -18 -1.5 -78 1.4 -126M468.5 76.8l-0.5 4.1 -1 2.2 -1.2 -6.3M502.5 76.8l-0.8 13 0.1 36 1.2 111 -1 27.9 -3 13.4 -1 -1.5 -2 -17.9 -1 -5.1 -1 -1.5 -1 -0.3 -1 6.1 -1 -0.3 -0.1 -20.8 -1.1 -14 -1.6 -48 -1 -13 -1.2 -5.8 -1 2.2 -3.4 31.6 -2.1 34 -0.5 3.1 -2 3.3 -1 -0.6 -1.2 -3.8 -0.8 -24.6 -1.6 -19.4 1.8 -42 -0.2 -32 -1 -21.3 -1 -3.1 -1 -0.8 -0.7 -5.8M569.0 116.7l-1.2 -1.9 -0.8 -6.1 -1 -1.6 -1.1 35.7 1.3 50 -0.7 124 -1.5 13.4 -1 1.3 -3 -1 -3 2.3 -2 0 -1 -0.6 -1 -5.4 -2.7 -81 1.4 -44 0.3 -97.4 -1 -7.6 -3 13 -0.8 -6 0.1 -22M564.7 81.8l1.3 20.4 1 -2.4 1 -29M320.0 310.1l-4 -17.7 -1 0.6 -2.2 9.8 -1.8 3.2 -1 0.3 -1 -1.6 -2 -6.7 -1.7 -24.2 -0.8 -37 -0.5 -3.8 -1 -1.2 -1.6 1 -0.8 3 -0.5 28 -1.1 6.5 -1 0.4 -2 -24.3 -1 -6.2 -1.1 -2.4 -0.7 12 -0.2 45 -0.6 6 -0.4 1.4 -1 0.4 -1 -1.7 -1.1 -5.1 -0.9 -25.5 -3 -17.4 -1 1.5 -1 6.9 -1 0.5 -0.2 -1 -1.6 -16 -1.2 -27.1 -1 6.6 -0.5 24.5 -2.5 16.3 -2 -1.9 -1 0.1 -0.7 -2.5 -1.3 -18.4 -1 -0.4 -2 9.3 -1 0.1 -1 -7.4 -0.1 -89.2 2.1 -15.3 2.7 -53.7 0.3 -0.9 1.7 9.9 0.6 15 1.7 8.7 1 -1.9 1.2 -6.8 0.7 -29 1.1 -5.3 3 24.7 1 -0.3 2 -6.8 1 0.5 1 3.3 2 23.6 1 0 2 -21.4 2 20.1 1 -0.2 2 -3 3 3.1 1 0.4 1 -1.7 1 -5 0.9 -22 0.8 -4M326.0 81.8l0.8 20 -0.2 122 -1.6 39.6 -2.3 10.4 -1.8 31 -0.9 5.3M351.2 83.8l0.4 -2 -0.6 -3.8 0.2 5.8M205.0 143.8l-1 -5.4 -0.3 -19.6 0.3 -16.4 1 -9.3 0.7 26.7 -0.7 24M173.0 210.1l-2.8 -66.3 1.8 -44.6 1 -4.6 1.2 17.2 0.5 24 -0.5 54 -1.2 20.3M164.0 123.9l0 -11.3 0 11.3M131.0 197.9l0 -14.8 0 14.8M226.0 222.1l0 -20.8 1 2.9 0 3.6 -1 14.3M524.0 319.1l-1 0 -2 -1.8 -3 1.4 -1.5 -1.9 -0.6 -4 0.6 -87 1.5 -12.5 1 -0.5 2 5 3 -6.2 2 -2.2 1 2.6 2 16.8 1 1.1 2 -2.1 1 0 4 2.7 1 0.2 2 -1.5 1 0.5 1.3 3.1 0.5 6 -2.8 34.1 -2 -21.7 -1 0.6 -1 4.7 -2 17.8 -2 6.1 -1 5.8 -2.2 27.6 -1.8 4.6 -3 0.7M500.2 224.8l0.7 -4 -0.9 -5.8 -1 2.1 -0.3 4.7 0.3 2.5 1 0.9 0.2 -0.4M212.0 235.3l0 -9.2 0 9.2M270.0 235.8l0 -3 0 3.7 0 -0.7M196.0 253.7l-1 -4.8 -0.2 -6.1 0.2 -3.9 1 -2.4 0.6 4.3 -0.6 12.9M389.0 323.6l-1 -1.2 -0.7 -10.6 0.2 -25 0.5 -11.5 1 2 1 -2.2 0.5 -4.3 0.5 -31 1 -1.9 1.5 25.9 -0.4 28 -1.1 14.7 -3 17.1M387.0 253.9l0 -13.1 0 13.1M340.0 260.4l-0.6 -8.6 0.6 -9.2 1 1.5 0.1 2.7 -1.1 13.6M400.0 320.6l-1.1 -18.8 0.1 -26.7 2 7.5 0.2 4.2 -0.2 31.3 -1 2.5M250.0 311.9l-1 -10.1 1 -13.2 0 23.3M255.0 305.2l0 -15.5 0 15.5M569.0 334.5l0 -8.7M404.9 372.8l0.1 -6 0.7 6M132.0 92.8l0 172 -0.6 16 -2.2 25 0.2 51M109.8 347.8l-1.7 -38 1 -28 0.1 -43 0.8 -10 1 -2.5 2 -1.9 0.4 -4.6 -0.2 -80 0.6 -43M115.0 81.4l1 -1.7 1 -0.3 1.1 -2.6M174.0 75.6l-0.4 7.2 2 46 -1.2 94 -1.4 5.6 -1 -1.2 -2 -5.8 -1 0.5 -3.3 9.9 -1.5 68 -1.2 2.8 -3 -0.5 -3 1.9 -1.1 -0.2 -1.4 -2 -0.7 -6 -1.4 -74 0 -63 -1 -38 0.7 -28 0.7 -5M231.0 331.8l-0.6 -5 -0.4 -43 -3 -10.1 -4 -35.9 -3 17.3 -3 -8.9 -1 -0.2 -1 4.4 -2.2 30.4 -2.3 11 -1.5 31 -0.9 4 -1.1 0.9M191.9 332.8l-0.8 -12 1.8 -38 -0.2 -45 0.5 -5 0.8 -2.4 1 -0.7 1 -0.5 2 2.2 1 0.1 1 -1.3 1 0.4 1.5 4.2 1.5 15.4 0.4 -4.4 1.8 -53 -0.2 -5.9 -0.6 15.9 -1.4 3.2 -1.4 -93.2 1.1 -37M234.8 85.8l-3.2 25 -0.8 14 -0.2 98 0.4 2.5 2 -2.8 2.1 5.3 1.9 2.3 3 -0.6 1 0.9 0.9 4.4 1 16 4.1 10.6 4 -29.5 3 -4.5 1 1.7 1.1 7.7 0.9 49 1 9.5 1 1.6 2 -1.9 1 -3.8 1.1 -12.4 1 -123 0.9 -20.4 2.4 -23.6 0.2 -30M279.5 66.8l0.5 7.8 1 4.1 1.5 -11.9M284.0 66.8l1 9.2 3 8.2 1 -1.7 2 -12.9 1.5 7.2 -0.4 9 0.9 23.8 1 2.6 2 -2.4 3 3.6 1 -0.4 0.6 -3.2 1.9 -23M327.0 79.7l1 4.4 0.8 -4.3 0.2 -9M331.3 70.8l-0.2 19 0.9 9.7 2.3 -7.7M385.9 79.8l-1.2 7 -0.2 54 0.9 82 0.6 3.1 2 3.1 1 0.3 2 -2.4 1 0.3 2 3.5 1 0.4 1.4 -7.3 0.1 -33 1.5 -16 2 8.8 2 -0.7 2 7.4 1 -0.8 0.6 4.3 0.6 25 -0.7 30 0.5 11.8 1 5.6 1 -0.2 1 -2.4 2 -7.2 1 0.2 1 1.7 1 -1.1 2.1 -13.4 0.1 -33 3.8 -31 -0.8 -45 2.1 -58M502.9 85.8l-0.5 6 0.2 33 0.8 54 3.6 32.9 1 3.4 1 0.5 3 -1.6 2 -4.1 2 -1.9 3 -21.2 1 4.2 1 14 1.9 -17.2 1.1 -3.8 2.6 10.8 2.1 26 0.3 2.5 1 1.5 1.5 -10 0.5 -25.3 1 0.8 5 -26.1 1 0.6 3 17.4 1.7 -8.4 1.5 -62 -0.3 -30M540.0 105.7l-1.4 -6.9 -0.6 -17M541.1 81.8l-0.1 14.8 -1 9.1M165.2 78.8l0.5 -2M164.8 76.8l0.2 2.6 0.2 -0.6M360.1 226.8l0.9 -0.9 0.5 -4.1 2.3 -49 -0.7 -91M355.0 81.8l-1.1 61 -0.2 46 0.8 29 0.5 6.5 1 2.9 4.1 -0.4M465.0 148.8l1 -12.7 0.4 -28.3 -0.3 -12 -1.1 -4.9 -1.1 6.9 -0.6 32 0.5 16 0.2 1.7 1 1.3M331.0 324.8l1 -3.1 0.6 -8.9 0.9 -76 -1.6 -38 1 -40 -0.9 -55.5 -1 1.3 -1 7.6 -1 -1.6 -1 -0.2 -0.9 34.4 0.2 77 -1.2 63 -1.1 14 1.3 16 1 3 2.8 4 0.9 3M472.1 135.8l0.9 -3.4 0.1 -9.6 -1.1 -17.2 -1 1.6 -0.6 3.6 -0.4 13 0.5 10 0.5 2.2 1.1 -0.2M168.0 142.8l0 -27.3 -1 0.7 -0.3 12.6 0.3 11.7 1 3 0 -0.7M125.1 348.8l0.7 -2 0.2 -6 -1.4 -29 -0.1 -29 2 -26 0 -45 0.5 -7.1 1 -2.4 1 -0.3 0.8 -39.2 -0.8 -34.3 -2 -8.6 -2 23.7 -0.3 44.2 -1.1 20 -1.6 14 -1 2.3 -1 0.6 -0.9 8.1 0.6 15 1.4 11 0.1 39 1.4 44 0.8 5M125.0 348.8l0.1 0M160.0 163.8l2 -19 0 -9 -1 -9.2 -1.1 14.2 0.1 23.7 0 -0.7M569.0 133.1l-2 6.4 -0.5 10.3 0.6 16 0.9 8.6 1 1.8M207.0 181.8l0 -25 0 25M159.0 182.8l0 -11 0 11M485.1 282.8l2.9 -21.3 1.4 -24.7 -2.4 -52.8 -1 -6 -2 31.2 -1 4.8 -1 -1.2 -3.2 26 2.2 25.4 3 17.6 1 1.5 0.1 -0.5M336.1 220.8l-0.1 -21.3 0 22.2 0.1 -0.9M469.3 261.8l1.4 -8 0.4 -15 -1.1 -33.8 -1 -5.8 -1.3 13.6 -0.3 15 0.6 24.6 1 10.3 0.3 -0.9M345.2 226.8l0.8 -6 -1 -8.2 -1.5 9.2 0.5 4.3 1 1.3 0.2 -0.6M508.0 261.8l0 -5.6 0 6.4 0 -0.8M475.0 276.8l0 -19.7 0 19.7M300.2 353.8l0.8 -3.8 2 -28.3 1 0 1 2.2 1.5 -5.1 -1.4 -10 -1.1 -34.3 -1 -2.3 -3.4 38.6 -0.3 24 0.7 19.8 0.2 -0.8M342.1 291.8l-0.1 -12.2 0 13 0.1 -0.8M451.1 299.8l-0.1 -4.2 -1 1.6 0 3.2 1.1 -0.6M367.0 361.7l1 -2.4 1 -0.1 0.3 -2.4 -0.1 -15 1.1 -31 -1.3 -13.7 -1 -0.1 -0.5 1.8 -1.5 10.1 -1 0.2 -1 -3.8 -2 -2.7 -1.4 6.2 -0.6 13.2 -3 -16.6 -1 1.5 -2.1 17.9 1.2 28M281.6 324.8l1.6 -19 -0.2 -7.4 -1 -0.5 -1.6 19.9 0.6 7.5 0.6 -0.5M454.0 303.8l0 -5.1 0 5.1M550.1 340.8l1 -4 0.1 -13 -1.2 -24.2 -1 4.7 -0.6 20.5 0.6 13.2 1.1 2.8M287.0 311.8l0 -0.8 0 1.2 0 -0.4M367.0 339.3l-1 -0.3 -0.8 -9.2 0 -10 0.8 -6.7 1 26.2M100.1 341.8l0 -18 0.9 -7.7 1 2.8 0.8 6.9 0.1 16M318.0 373.8l1 -10.1 0.2 -12.9 -1.2 -28.7 -1 1 -0.3 2.7 1.3 48M531.0 358.8l0.9 -6 0 -9 -0.9 -14.7 -1 -1.5 -0.6 19.2 1.6 12M489.1 343.8l-0.1 -13.1 -0.6 7.1 0.6 6.8 0.1 -0.8M518.9 372.8l-0.9 -9.5 -1 9.5" fill="none" stroke="#000" stroke-width="1.10" stroke-linejoin="round"/><path d="M131.8 92.8l-0.5 48 0.7 59 -1 61.4 -1 12.2 -0.8 1.4 -0.2 2.2 0.7 -55.2 -0.5 -43 1.2 -42 -1.4 -33.5 -1 -6.1 -1 0.2 -0.5 5.4 -0.1 24 -3.1 73 -1.3 14.2 -1 2.9 -1 0.1 -1 2.6 -0.6 10.2 -0.5 59 0.3 17 0.8 4.6 0.5 15.4 -0.5 16.2 -1 -0.8 -0.4 -5.4 0.1 -31 -1.7 -1.3 -1.5 10.3 -1.5 2.1 -2 -1.1 -0.8 -2 -0.7 -7 0.3 -70 1.2 -6.6 2 -1.3 0.9 -7.1 -0.4 -80 0.8 -44M115.0 86.4l2 -4 1.1 -5.6M176.1 76.8l-1.2 1 -0.6 4 -0.3 128.5 -1 14.4 -1 -1.3 -0.6 -4.6 -0.4 -49.1 -1 -31.3 -1 2.8 -2 20.9 -1 -0.1 -2 -2.5 -0.3 -3.7 -0.7 -48 -1 -12.7 -1 -3.8 -1 14.8 -1.1 95.7 0.1 7.5 1 5.4 1 -5.7 1 2.6 0.4 20.2 -2.4 43.8 -1 8.1 -1.4 -15.9 0.4 -31 -1 -1 -1 1.5 -1 -0.6 -1 -3.9 -1 -11 -0.7 -124 0.9 -10M234.7 83.8l-2.7 12.6 -1 -2.7 -0.8 -6.9M221.7 86.8l-0.5 8 0.7 53 -0.1 85 -0.8 4.8 -1 -1.5 -1 -0.3 -2 1.9 -2 -3.3 -1 0.8 -2.7 21.6 -0.3 15 -1 -61.5 -1.4 14.5 -0.2 38 -2.4 28 -2.1 -89 -0.1 -84 -0.8 -36 0.7 -6M243.5 326.8l-0.5 -28 -1 -15.5 -1 -2.7 -2 29.1 -2 -27 -2 10.6 -2 2.3 -3.8 -51.8 -1.2 -4 -1 0.1 -1.1 -5.1 -0.8 -25 -1.8 -13 -0.3 -20 0.6 -19 1.8 -14 0.6 -20.7 1 -10.1 1 5.1 1 18 0.6 91.7 0.6 2 2.8 2.5 2 3.3 2 0.8 2 -1.4 1 0.5 0.8 2.3 0.9 16 2.6 11 1.7 28.3 1 -2.3 1 -9.7 -0.1 -23.3 2.9 -7 1.2 -13.6 2 -2.8 1 0.8 1.4 59.6 0.6 7.4 2.4 8.6 0.5 16M262.9 326.8l1.9 -41 -0.9 -51 0.6 -80 0.5 -11.6 1.8 -10.4 1.9 -25 -0.1 -23 -0.6 -5.4M270.6 76.8l0.4 5.2 0.3 -5.2M277.0 74.9l3 9.7 1 1.3 2 -9.5 1 0.9 4 30.4 1 0 1 -5.6 1 1.2 2 13 3 0.4 2 2.8 1 0.4 1 -1.6 0.8 -4.5 1.1 -23 1 -4M325.9 81.8l0.7 27 0.4 114 -1.6 57 -0.4 6.6 -2 8 -0.4 18.4 -1.1 8 -0.5 1.8 -1 -0.7 -2 -5 -1 -0.8 -3 -0.1 -3 -4.1 -2 -0.2 -1 -1 -2 -4.9 -1.3 -19 -0.7 -34 -1 -15.4 -1 0.3 -0.2 1.1 -1.5 25 -1.3 8.2 -1 2.2 -1 -1.2 -2 -7.8 -1 2.4 -0.8 29.2 -1 7 -2.2 2.6 -3 -2.4 -0.4 -1.2 -2.6 -21.7 -2 9.5 -1 1 -3 0.2 -3 -7.6 -1 3.6 -1 28.6 -1 8.5 -2 -9.1 -2 18.8M393.0 366.8l-1 -2.8 -1 -0.5 -0.7 -2.7 -1.3 -22.3 -1 12.4 -1 -3 -2 -22.5 -1 -3.6 -1.3 -38 -0.7 -1.8 -1 0.8 -0.5 2 -0.8 22 -1.6 12 -1.1 2.5 -1.6 -12.5 -2.4 -6.6 -3 -13.2 -1 -1.2 -2 -0.7 -2 4.2 -1 0.7 -3 -13.3 -2 -3.3 -2 -9.3 -1 4.5 -2 44.1 -1 4.1 -3 2 -1.5 -7 -0.5 -19.3 -1 -2.5 -3 -22.1 -1 -1.8 -2 8.3 -1 1 -2 -5.2 -0.6 34.6 1.6 9.4 0.2 9.6 -0.2 9.1 -1 5.7 -0.2 -0.8 -0.9 -29 -1.4 -10 -0.5 -13 1 -24 1 1.2 0.8 -5.2 -0.1 -43 -2 -45 -1.8 -67 0.4 -5 0.7 -2.2 1 -0.7 3 7.9 1.4 -8 -0.3 -5M385.7 78.8l-1.2 7 -0.5 36 1.1 102 0.9 5 3 5.6 2 0.5 4.7 -3.1 1.7 -8 0.6 -25.8 1 -3.4 2 1.9 0.2 1.3 0.2 33 1.6 21.1 1 0.2 1 -13.7 1.8 24.4 1.2 2.3 2 -1.2 1.5 5.9 2.5 77.6 0.6 -17.6 -0.2 -58 0.6 -5.3 2 -2.7 1 4 1 23.5 1 4.2 0.2 -5.7 0 -92 0.8 -17 0.7 -104M502.9 84.8l-0.8 7 0.9 149 -1 27 -2.9 17 -1.1 -0.7 -2 -8.3 -2 8.9 -2 -6.4 -1 0.9 -1 2.9 -0.5 -2.3 0.3 -45 -1.5 -28 -0.3 -3.2 -1 -0.6 -1 0.5 -3 -2 -1 2.4 -1.8 24.9 -3.2 11.4 -3.8 -7.4 -2.5 -23 0.8 -51 -1.4 -58 -1.1 -4.6 -2 3.1 -2 -4 -1 -0.8 -1 0.2 0 76 1.8 55.1 0.2 4.7 1 -0.8 1 -7 1 7.1 0.3 11 0 33 -1.3 28.8 -1 6.8 -3 -26.9 -1 -0.1 -2.9 6.4 -1.1 21.3 -1.5 -25.3 -1.5 -4.6 -1 -1.7 -1 -0.3 -2 5.7 -1 0.6 -1 2.2 -2 6.4 -1 0.9 -2 -2.1 -1 2.1 -2 12.8 -2 1.8 -6 9.5 -1 0.2 -4 -5.1 -1 -0.3 -0.8 3.9 0.1 7 1.2 16 1.5 5.9 1 -1.1 2 -20.3 1 1.4 2.1 47.1M565.7 372.8l-0.7 -34 -0.9 -1 -2.1 0 -3 -2 -2 2.5 -1 0.6 -2 -0.3 -1.7 -1.8 -0.9 -3 -2.4 -58.2 -1 -7.9 -1 11.2 -1 -0.1 -1.6 8 -1.4 3 -3 14.8 -2 -4.9 -2 4.4 -1 0.8 -2 -7.7 -2.8 20.6 -2.2 4.2 -2 0.7 -2 1.9 -2.3 -2.8 -3.7 -0.2 -0.6 -0.8 -1.2 -4 -1.2 -13.9 -2 12.4 -1 2.6 -1 -2.3 -1 0 -1.9 42.2 -0.7 3 -1.4 2.1 -1 -7.7 -0.1 -48.4 0.1 -3.2 2 -7.5 0.8 -11.3 0.1 -37 1.1 -19 1 -3.9 1.2 2.9 0.8 16.3 2 17.7 -0.4 -37 4.4 -19.3 1 -0.3 2 3.3 2 -4.4 1 -0.5 2 2.5 1 2.4 2 16.4 1 2.2 1.3 -2.3 0.6 -4 1.1 -41 1 -2 1 0.6 1 2.2 4 -0.1 4.5 -11.7 0.8 -12 0.3 -75M168.3 103.8l1.4 -5 0.6 -8 0.4 -9 -0.9 -5M164.4 76.8l1.2 21 1.4 6.6 1 0 0.3 -0.6M357.2 231.8l3.8 -3 1.3 -8 2.1 -58 -0.9 -81M354.8 80.8l-0.7 5 -0.7 105 0.9 33 1.2 6 0.5 1.3 1.2 0.7M208.0 111.8l0 -15.1 -1 8.5 0 7.4 1 -0.8M567.1 160.8l1 -19 -1.1 -33.9 -1 29.9 1 23.5 0.1 -0.5M341.4 230.8l2.6 -4.7 0.7 -5.3 -2.9 -20 -1.8 -41.1 -1 0 -0.4 40.1 1.1 25 0.7 5 0.6 1.5 0.4 -0.5M550.0 224.8l0.9 -24 -0.9 -12.2 -0.5 20.2 0.5 16M405.0 223.7l-0.7 -25.9 0.7 -4 0 29.9M569.0 238.1l-1 -1.4 -0.8 14.1 -0.2 43.1 1 -0.9 1 -5.2M199.0 292.1l-2 -4.8 -1 -10.8 -1.3 -35.7 0.3 -3.1 1 -0.6 1.2 2.7 0.2 25 0.6 6.6 1 2.2 1 -3.2 0 11.8 -1 9.9M201.0 260.6l-0.5 -17.8 0.5 -4.4 0 22.2M478.0 285.4l-0.9 -3.6 -0.2 -13 0.2 -15 0.9 -5.1 0.7 20.1 -0.7 16.6M472.0 377.8l0.4 -34 -1.5 -20 -0.3 -16 2.4 -49.4 1.4 58.4 0.6 4.1 1 -4.7 0.6 6.6 0.1 33 0.9 17M545.3 377.8l-0.1 -44 1.8 -27.7 1 40.5 2.2 31.2M423.1 324.8l0.9 -7 -1 -4.5 -0.7 4.5 0.7 7.4 0.1 -0.4M437.7 377.8l1.3 -30.9 0.9 -7.1 0.1 -0.7 2 6.4 1.1 -2.7 1.9 -18.2 1 0 1.9 19.2 0.3 13 -0.2 8.7 -2 2.5 -0.3 9.8M460.5 377.8l-1.6 -23 0.1 -17.2 2 26.6 1.9 -9.4 2.1 -30.5 1 2.6 1 16.8 1 34.1M450.9 377.8l-0.1 -37 0.2 -5.2 1 -0.9 0.8 32.1 0.2 1.4 1 0.6 1 -6 1 0.8 0.4 14.2M487.5 372.8l0.5 -15.3 2 15.9M334.4 372.8l0.6 -10.4 1.1 10.4M479.9 372.8l0.1 -10 0.2 10M552.1 377.8l0.9 -8.6 1.1 8.6" fill="none" stroke="#000" stroke-width="1.30" stroke-dasharray="1.3 2.2"/></g><g clip-path="url(#clip71)"><g shape-rendering="crispEdges"><rect x="98.00" y="559.00" width="6.97" height="256.33" fill="url(#g72)"/><rect x="104.67" y="569.67" width="2.97" height="260.33" fill="url(#g73)"/><rect x="107.33" y="575.00" width="6.30" height="255.00" fill="url(#g74)"/><rect x="113.33" y="575.00" width="4.30" height="244.33" fill="url(#g75)"/><rect x="117.33" y="575.00" width="5.63" height="244.33" fill="url(#g76)"/><rect x="122.67" y="539.00" width="2.97" height="280.33" fill="url(#g77)"/><rect x="125.33" y="543.67" width="6.97" height="286.33" fill="url(#g78)"/><rect x="132.00" y="580.33" width="4.30" height="255.00" fill="url(#g79)"/><rect x="136.00" y="585.00" width="8.30" height="250.33" fill="url(#g80)"/><rect x="144.00" y="569.67" width="5.63" height="265.67" fill="url(#g81)"/><rect x="149.33" y="549.00" width="2.97" height="286.33" fill="url(#g82)"/><rect x="152.00" y="558.33" width="6.97" height="277.00" fill="url(#g83)"/><rect x="158.67" y="549.00" width="5.63" height="291.67" fill="url(#g84)"/><rect x="164.00" y="549.00" width="9.63" height="291.67" fill="url(#g85)"/><rect x="173.33" y="589.67" width="9.63" height="232.33" fill="url(#g86)"/><rect x="182.67" y="589.67" width="9.63" height="220.33" fill="url(#g87)"/><rect x="192.00" y="585.00" width="12.30" height="215.00" fill="url(#g88)"/><rect x="204.00" y="575.00" width="8.30" height="225.67" fill="url(#g89)"/><rect x="212.00" y="539.00" width="6.97" height="285.67" fill="url(#g90)"/><rect x="218.67" y="559.67" width="12.30" height="265.00" fill="url(#g91)"/><rect x="230.67" y="543.67" width="5.63" height="261.00" fill="url(#g92)"/><rect x="236.00" y="569.67" width="8.30" height="235.00" fill="url(#g93)"/><rect x="244.00" y="564.33" width="12.30" height="235.67" fill="url(#g94)"/><rect x="256.00" y="559.00" width="6.97" height="240.33" fill="url(#g95)"/><rect x="262.67" y="564.33" width="6.97" height="243.00" fill="url(#g96)"/><rect x="269.33" y="580.33" width="6.97" height="235.00" fill="url(#g97)"/><rect x="276.00" y="585.00" width="13.63" height="239.67" fill="url(#g98)"/><rect x="289.33" y="539.00" width="4.30" height="292.33" fill="url(#g99)"/><rect x="293.33" y="554.33" width="8.30" height="281.00" fill="url(#g100)"/><rect x="301.33" y="554.33" width="4.30" height="281.00" fill="url(#g101)"/><rect x="305.33" y="559.67" width="6.97" height="281.00" fill="url(#g102)"/><rect x="312.00" y="559.67" width="10.97" height="290.33" fill="url(#g103)"/><rect x="322.67" y="564.33" width="2.97" height="276.33" fill="url(#g104)"/><rect x="325.33" y="549.00" width="6.97" height="297.00" fill="url(#g105)"/><rect x="332.00" y="549.00" width="17.63" height="294.33" fill="url(#g106)"/><rect x="349.33" y="543.67" width="5.63" height="291.67" fill="url(#g107)"/><rect x="354.67" y="554.33" width="12.30" height="271.00" fill="url(#g108)"/><rect x="366.67" y="549.00" width="14.97" height="291.67" fill="url(#g109)"/><rect x="381.33" y="554.33" width="6.97" height="286.33" fill="url(#g110)"/><rect x="388.00" y="539.00" width="9.63" height="301.67" fill="url(#g111)"/><rect x="397.33" y="543.67" width="8.30" height="306.33" fill="url(#g112)"/><rect x="405.33" y="543.67" width="10.97" height="311.67" fill="url(#g113)"/><rect x="416.00" y="549.00" width="2.30" height="316.33" fill="url(#g114)"/><rect x="418.00" y="549.00" width="7.63" height="316.33" fill="url(#g115)"/><rect x="425.33" y="549.00" width="6.97" height="316.33" fill="url(#g116)"/><rect x="432.00" y="543.67" width="17.63" height="321.67" fill="url(#g117)"/><rect x="449.33" y="543.67" width="4.97" height="321.67" fill="url(#g118)"/><rect x="454.00" y="543.67" width="7.63" height="317.00" fill="url(#g119)"/><rect x="461.33" y="543.67" width="13.63" height="317.00" fill="url(#g120)"/><rect x="474.67" y="543.67" width="8.30" height="317.00" fill="url(#g121)"/><rect x="482.67" y="543.67" width="10.97" height="317.00" fill="url(#g122)"/><rect x="493.33" y="543.67" width="8.30" height="321.67" fill="url(#g123)"/><rect x="501.33" y="543.67" width="6.97" height="317.00" fill="url(#g124)"/><rect x="508.00" y="543.67" width="4.30" height="307.00" fill="url(#g125)"/><rect x="512.00" y="549.00" width="9.63" height="301.67" fill="url(#g126)"/><rect x="521.33" y="549.00" width="4.30" height="311.67" fill="url(#g127)"/><rect x="525.33" y="549.00" width="2.97" height="301.67" fill="url(#g128)"/><rect x="528.00" y="554.33" width="16.30" height="296.33" fill="url(#g129)"/><rect x="544.00" y="549.00" width="5.63" height="316.33" fill="url(#g130)"/><rect x="549.33" y="559.00" width="16.30" height="306.33" fill="url(#g131)"/><rect x="565.33" y="554.33" width="4.57" height="311.00" fill="url(#g132)"/></g><path d="M132.9 543.7l0.1 7M132.9 577.7l-1.5 14 -0.4 40.6 -1 3 -0.6 -16.6 0.4 -30 -2.3 -37 -0.5 -4.1 -1 1.5 -1 6.9 -2 -7.6M120.9 575.7l1.6 9 0.6 11 0.3 72 -1.4 30.8 -1 1.7 -1 -2 -1 9.5 -0.5 45 -1.5 17.9 -1 4.3 -1 -3.6 -0.5 -9.6 -1.3 -66 0 -101 0.8 -18.7 1 0.3 2 4.3 1.5 -4.9M171.3 549.7l-0.7 20 -3.6 50.1 -1.5 -17.1 1 -53M225.3 559.7l-1.3 14 0.3 28 -0.3 4.6 -1 2 -4 -30.6 -2 20.8 -0.3 -2.8 -0.8 -27 0.8 -29M335.2 549.7l0.6 24 1.2 7.8 2 -4.5 3 5 2 -2.2 2 5.3 2 -13.2 1 4.6 1 12.3 1 2.8 2 -10.4 0.3 2.5 -0.3 35.4 -2 20 -0.6 16.6 0.1 41 -1.1 7 -0.4 1.3 -1 0.5 -2 -17.5 -1 -2.9 -2 8.8 -3 6.6 -2 -2.1 -2 0.6 -1 -1.3 -1 -4.6 -1.1 -20.4 -0.6 -35 1.6 -88M369.1 549.7l-1.1 22.7 -1 1 -1.2 -11.7 -2.1 -7M355.4 554.7l-0.4 1.1 -1.4 -12.1M382.2 554.7l-0.6 27 -2.5 17 -0.4 12 2.4 23 0.8 15 -0.9 68.2 -2 13.3 -1 0 -3 -7.9 -2 1.1 -1 -0.5 -1 -2.7 -1 0.4 -2 11.2 -1 0.2 -2 -18.7 -1 0 -1 1.3 -0.3 -22.9 0.3 -5.5 1 -2.2 1 -0.4 1.8 -8.9 1.2 -46.6 1 -4.7 1 6.5 1 0.2 1.3 -15.4 0.9 -30 -1.8 -35M500.9 543.7l-0.5 55 0.6 97 -1 8.1 -2.2 4.9 0.9 16 -1.7 17.1 -1 -5 -0.4 -26.1 -1.5 -18 -0.5 -64 -0.6 -7.1 -1 -2.8 -1 -0.7 -1 4.5 -1 15.7 -1 5.6 -3 -18.1 -1 -1.8 -1 1.2 -1 3.7 -1.6 50.8 -1.4 18.2 -1 1.5 -1 -1.9 -1 0.3 -2 10.7 -1 -1.2 -2 -12.2 -1 -0.4 -2 2.6 -1 0.3 -3 -9.3 -2.5 19.4 -0.8 33 -0.7 6.4 -2 -4.2 -2 5.4 -1 0.3 -3 -10.7 -1 0.3 -1.5 15.5 -0.5 32.5 -3 4.8 -1 0.4 -4 -4.2 -1 -0.1 -5 5.2 -1 -0.9 -1 -4 -2 -22.6 -1 -0.5 -2 7.2 -1 -2.8 -0.7 -9 -2.9 -105 0.3 -78 -1.5 -27M565.5 559.7l1.2 111 -0.2 58 -1.5 57.7 -1 20.3 -1 4.9 -1 -0.9 -0.5 -3 -2.5 -22.9 -1 3.1 -1 18.4 -1 5.3 -1 -1.9 -2 -10 -2 11.5 -1 -2.2 -1 -66.3 -1 -18.7 -1 -4.1 -1 1.8 -1 5.2 -3 28.8 -1 0.4 -2 -7 -2 10.5 -2 -2.9 -3 8 -1 -0.5 -1 -3.1 -2 -11.4 -2 7.1 -0.6 -1.1 -1.4 -10.5 -1 -1.6 -3 10 -1 0.2 -2 -6.3 -2 1.2 -1 -1.7 -1.3 -5.3 -0.9 -11 -0.4 -32 0.6 -2.4 1 0 2 1.8 2 0.2 1 -0.7 1.4 -2.9 1.6 -32.8 1 -7.7 1 7.4 0.3 32.1 1.7 6.3 1 0.1 3 -2.2 1 0.5 3 4.4 3 -4 1 -0.4 2 3.5 1 -0.4 3.4 -5.8 1.4 -30 2.2 -9.3 0.7 -17.7 -0.7 -12.7 -1 0.1 -1 -2.8 -0.8 -11.6 -1.2 -26.8 -0.4 -30.2M547.7 549.7l0.3 24.6 1.8 -14.6M553.8 559.7l1.2 1 0.2 -1M322.0 802.3l-2 -2 -3 0.8 -2 -0.9 -2 1.1 -5 -11.4 -1 -1.5 -2 3.9 -0.7 -4.6 0.7 -35 -1 -43 -2.1 -14 -0.5 -81 0.8 -16 0.8 -3.2 1 1.2 1 -0.5 0.2 -1.5 0.9 -30 0.9 -5M325.0 564.7l1 64 -0.5 66 -0.8 17 0.2 42 -1.3 41 -0.6 5.3 -1 2.3M530.0 572.2l-1 -12.5 1 -4.3 0.6 5.3 -0.6 11.5M155.0 704.3l-1 -2.6 -0.8 -9 -0.9 -117 0.7 -13.3 1 -2.1 2.5 -1.6M157.3 558.7l1.3 3 0.7 11 -0.1 66 -1.5 57 -0.7 5.2 -1 2.8 -1 0.6M519.0 614.7l-1 -5.8 -0.4 -11.2 -0.4 -37 0.8 -2.1 2.6 26.1 -0.6 26.1 -1 3.9M471.0 691.7l3.5 -36 -0.5 -73.5 -1 -14.7 -2.4 10.2 -1.6 29.1 -1.3 -11.1 -0.7 -16.6 -1 -1.6 -0.8 -5.8 -1.2 -3.3 -1 6.3 0.8 65 4.7 27 0.5 20.7 1 3.9 1 0.4M266.0 734.8l-1 -0.6 -1 -2.7 -0.7 -20.8 0.4 -114 0.3 -10.8 1 -7.1 1 -1.9 1.2 3.8 1.8 15 1 -0.1 2 -4.5 2 5.1 1 1.1 2.1 0.4 1.9 6.8 1 -2.1 1 -16.7M282.1 585.7l2.9 17.6 1.1 -4.6 0.9 -1.2 2 9.6 0.8 11.6 -0.7 15 -1.1 4.5 -2 -15.6 -1 3.1 -1.9 22 -0.1 0.5 -1 -2.2 -1 4.2 -1 13 -1 0.6 -1 -5.1 -1 0.6 -2 49.4 -2 16.6 -1 0 -2 -11.4 -1 1.1 -2 18 -1 1.8M215.0 694.4l-1.1 -13.7 -0.6 -41 0.4 -13 1.3 -6.1 1 6.4 0.5 20.7 -0.7 43 -0.8 3.7M130.0 704.0l-2 -1.1 -1 -1.8 -1.2 -5.4 -0.7 -45 0.9 -27.4 1.2 4.4 0.8 23.6 1 5.4 1 -3.5 1 10.2 0.7 32.3 -0.7 7.1 -1 1.2M206.0 653.9l0 -23.2 1 -5.1 0.6 5.1 -0.2 14 -0.4 8 -1 1.2M224.0 663.4l0 -4.8 0 4.8M211.0 743.7l-1 -2.3 -3 -27.4 -1 1.7 -0.3 -4 0.3 -3.9 1 0.8 1 -4.3 2 -13.3 1.8 15.7 -0.8 37M507.0 701.1l0 -4.7 0 4.7M353.0 734.1l0 -18.9 1 0.5 0.2 9 -0.2 7.8 -1 1.6M333.0 792.8l0 -21.6 1 12.5 -1 9.1M345.0 826.2l0 -11.9 0 11.9M133.3 580.7l-1 27 -0.3 138 -1.5 39 0.9 39 -0.4 5 -1 1.6M118.2 818.7l-1.2 -4.9 -1 2.2 -1 -1.3 -1.5 -33 -1.3 -134 0.2 -72M180.6 589.7l-0.6 2.9 -2 0.5 -2 3.3 -2 0.9 -2 5.2 -1 -2.9 -1 1 -1.9 38.1 -2.1 -3.9 -1 0.5 -2 25.2 -1 -2.6 -1 1.3 -1 6.6 -1.5 34.9 -1.1 11 0.8 26 -0.2 19.8 -0.7 10.2 -1.3 1.9 -1.7 -1.9 -0.5 -3 0 -52 -1.5 -20 -0.8 -109 0.3 -17 1.2 -8M159.0 555.4l2 23.3 1 3.1 2.5 -13.1 0.6 -19M172.8 549.7l1.2 14M231.6 803.7l-0.6 -5 0.2 -29 -1.2 -40.8 -1 -8.6 -1 1.4 -1 -3.5 0 -32.2 -1 -4.5 -2.1 13.2 -1.1 17 -3.8 35.1 -1 -23.7 -0.9 -7.4 -0.1 -0.5 -1 5.6 -1 -2.5 -1 -7.6 -0.8 13 -0.2 53.7 -1.1 18.3 -0.9 4.5M195.0 800.5l-1.1 -1.8 -0.4 -5 0.6 -82 0.9 -4.4 2 5.8 2.5 -8.4 1.5 -2.7 2 2.6 0.6 -0.9 1.7 -12 -0.4 -58 1.6 -45 -1.5 -7.3M228.1 559.7l0.7 4 -1.8 16 2 35 2 57 0.1 27 0.9 3.1 3 -0.5 6 6.9 1 0.5 1 -1.3 1 2.6 1 11.3 1 3.5 3 0.3 3 7.7 2 -1.1 1 2.4 0.9 19.6 -0.2 17 2.3 12.9 0.6 15.1M261.4 798.7l1.5 -29 -0.6 -47 0.9 -131 0.8 -15.2 1 -6.6 1 -2.1 1.3 2.9 2.7 15.9 2 -2.4 3 7.1 2.8 -5.6M232.5 543.7l-0.5 22.3 -0.1 -22.3M292.6 539.7l0.6 90 -1.2 66 1 26.8 1 15.5 1 4.3 1 -1.5 1 -0.1 1 -3.6 2.8 -33.4 -0.3 -64 0.6 -42 0.9 -11 1 -1.8 1 2.9 0.6 -3.1 0.8 -21 0.7 -4M325.8 564.7l1.7 59 -0.9 40 0.8 29 -1.5 19 1.6 49 1.5 15.2 1.5 -12.2 2.7 -54 -1.2 -16 -0.7 -59 1.1 -46 0 -39M337.3 549.7l0.7 7.3 1 1.8 1 1 2 -3.5 2 -1.5 1 1.7 1 4.8 1.3 -6.6 0.1 -5M383.7 554.7l0.9 21 0.5 47 1.9 29 1.2 47 1.8 31.1 1 4.6 1 -0.6 4 -10.2 1.9 -18.9 1.2 -27 0.9 -3.1 1 -0.4 3 -5.4 1.6 41.9 2.7 34 1.7 10.3 1 -1 3 -21.6 1.5 -4.7 1.2 -22 1.3 -5.5 1 0.4 0.5 2.1 0.5 13.2 0.3 -30.2 -2.5 -71 1.2 -17.5 1 5.1 1 19.2 1 -0.1 0.5 -43.7 -0.5 -10.5 -1.8 -14.5 0.5 -3M501.6 543.7l-0.5 83 1.7 35 0.2 25.5 0.5 -21.5 1.5 -8.3 1.3 8.3 0.7 1.5 1 -0.8 1 0.7 2 8.7 1 -1.4 0.3 -2.7 2.6 -53 0.5 -34 -0.7 -26 0.7 -5 1.6 -4M517.0 549.7l3.4 6 1.9 7 0.6 37 1.1 5.8 3.1 -20.8 0.3 -27 1.6 -8M566.5 554.7l0.7 15 0.2 39 1.6 27.2M351.1 568.7l1.6 -13 -0.7 -6.7 -1 -1.5 -1.1 2.2 -0.5 4 0.6 9.7 1.1 5.3M387.0 564.3l-1 -1.4 -0.3 -2.2 0.3 -5.6 1 0.2 0.3 1.4 -0.3 7.6M540.1 562.7l-0.1 -7.6 0 8.2 0.1 -0.6M361.1 680.7l1.9 -2.3 2 -1 1.3 -5.7 0.8 -52 -0.5 -28 -1.3 -20 -1.3 -6 -3 -6 -4 4.2 -1.5 9.8 -2.3 74 0.4 20 1.1 9 2.3 3.4 3 1.4 1.1 -0.8M382.0 617.7l0 -10.5 0 10.5M538.1 636.7l0.4 -9 -0.5 -10.2 -1 1.3 -0.8 10.9 0.8 7.6 1 0.1 0.1 -0.7M543.0 647.7l0 -23.1 -1 -3.3 0 12.9 1 13.5M489.0 765.7l0.3 -16 1.7 -19.1 1 -3.9 1 0.4 0.3 -4.4 -0.3 -39.1 -1 -19.4 -1 -3.4 -1 0.2 -1 2.1 -1.2 0.6 -2.8 -18.1 -1 -2.7 -1 7.8 -0.8 74 1.6 14 3.3 7 1.2 5 0.7 15.6 0 -0.6M384.0 666.7l0 -6.1 0 6.1M286.2 771.7l0.8 -2.1 0.4 -6.9 0 -34 2.4 -33 -0.3 -16 -1.5 -7.8 -1 3.7 -1.6 18.1 -1.2 44 0.5 25 1.5 9M279.1 722.7l0.9 -20 -1 -13.5 -1 0.1 -0.5 12.4 0.5 21.4 1 0.5 0.1 -0.9M533.0 690.7l0 -1.4 0 2.1 0 -0.7M163.0 717.3l-1.2 -8.6 1.2 -6.7 0.9 7.7 -0.9 7.6M504.3 772.7l0.8 -5 0.2 -8 -2.3 -57.2 -1.5 55.2 1.5 15.5 1 0.4 0.3 -0.9M344.0 724.7l1 -3.6 0.4 -7.4 -0.4 -9.8 -1 0.7 -1 3.1 -0.9 6 0.2 8 0.7 2.3 1 0.7M465.7 755.7l1.5 -6 0.6 -17 -1.6 -19 -1.2 -5.4 -1 0.5 -1 4.7 -0.1 16.2 1.3 21 0.8 5.6 0.7 -0.6M383.2 750.7l0.8 -2.5 0.1 -23.5 -0.1 -8.9 -1 -3 -1 24.9 1.2 13M453.1 776.7l0.3 -18 -1.4 -6.3 -1 3.7 0 6.5 1 15 1 -0.1 0.1 -0.8M356.0 787.7l1.3 -20 -0.3 -6.8 -1 -2.6 -1.1 15.4 0.1 8.2 1 5.8M209.0 771.7l0 -3.4 0 3.4M248.0 798.7l0.3 -23 -0.3 -6 -1 -0.1 -0.4 22.1 0.4 7.4 1 0.1 0 -0.5M255.1 793.7l0.3 -19 -1.4 -4.1 -0.2 15.1 1.2 8.9 0.1 -0.9M457.1 791.7l0.7 -12 -0.8 -9 -0.5 15 0.5 6.5 0.1 -0.5M293.1 799.7l0.8 -13 -0.9 -12.2 -0.7 14.2 0.7 11.8 0.1 -0.8M530.2 802.7l0.8 -2.1 0.5 -10.9 -0.4 -5 -1.1 -2 -1 2.5 -0.1 6.5 1.1 11.6 0.2 -0.6M274.0 800.7l0 -10.8 0 10.8M560.1 837.7l0.9 -14 -1 -6.8 -1 -1.3 -1.2 5.1 -0.2 6 1.4 10.6 1 0.9 0.1 -0.5M565.0 856.7l1 -30 -0.1 -4 -0.9 -1.6 -0.6 16.6 0.6 19.6 0 -0.6M554.0 849.7l0 -26.6 -1 1.2 0 2.4 1 23.7 0 -0.7M483.6 859.7l-0.6 -5.8 -0.2 5.8" fill="none" stroke="#000" stroke-width="1.10" stroke-linejoin="round"/><path d="M133.0 576.7l-1.4 5 -0.3 5 1 106 -1.1 18 -0.2 24.3 -1 5.3 -2 -3.9 -2 -20 -1 -4.3 -1.2 21.6 0.2 41.4 -1.5 -14.4 -1.5 -3.7 -1 2.7 -2.6 21 -1.4 4 -1 -1.5 -0.7 -6.5 -0.7 -22 -0.9 -84 0.1 -95M173.8 553.7l-0.8 1.1 -3.1 27.9 -1.9 24 -1 -1.5 -0.9 -16.5 0.3 -39M228.9 559.7l1 2 0.1 2.7 -1 3.7 -1 0.2 -0.3 1.4 -1.2 10 0.2 20 1.6 27 -0.3 15 -1 1.2 -1 -1.6 -1.7 -22.6 -0.3 -1.9 -2 -2.9 -1 2.6 -0.5 6.2 -1.6 75 -0.6 3 -2.3 4.1 -1 0.8 -1 -1 -1 0.4 -1.9 51.7 -1.1 5.2 -4 -16.2 -1.4 -14 -0.7 -18 1.1 -10.1 1 -2.3 1 -0.1 2 -3.6 1 -1.1 1.4 0.2 0.7 -2 -0.6 -56 -3.2 -63M206.0 575.7l-0.3 0M287.6 585.7l2 19 0.1 19 -1.6 28 -2.4 14 -1.7 20.2 -1 2.6 -1 -4 -2 1.8 -2 -6.1 -1 10.5 -1 41.1 -1 1.6 -4 -5.9 -5 6.9 -2 4.3 -1.1 -25 0.4 -86 0.4 -39 0.3 -6.1 1 -4 1 0.3 2 3.2 2.3 7.6 4.7 4 3 -1.5 1 0.2 2.7 -6.7M283.1 585.7l0.9 1.6 0.6 -1.6M293.1 539.7l-0.1 6.6 -1 2.2 -0.1 -8.8M341.1 842.7l-0.1 -13.8 -1 -2.7 -2.1 16.5M332.9 844.7l-0.9 -7 0.1 -51 2.6 -74 -1.7 -8.6 -1 -13.4 0.6 -112 0.9 -29M337.3 549.7l1.7 15.5 1 2.9 2 -18.4M383.2 554.7l-0.5 7 1.5 36 -0.2 6 -1 -5.8 -1.1 9.8 0.5 65 -1.2 52 -1 6 -1.2 2.3 -1 0.7 -3 -2.6 -2 0.2 -2 -1.2 -1 0.9 -2 5.2 -2 0.9 -1.5 -31.4 0.5 -20 1.9 -17 0.4 -54 -0.9 -44 -1.2 -16M356.5 554.7l-1.5 4.3 -2 -11 -1 0.5 -1.1 10.2 0.8 12 1.3 6.9 0.4 19.1 -0.4 29.7 -1.2 22.3 0.3 24 1.9 20.3 1.8 -8.3 1.2 -1.3 1 0.8 0.8 2.5 1.2 31 2 -11 0.4 3 0.3 50 1.3 17.6 1.1 -3.6 0.9 -29.7 1 9.9 1 1.7 2 15.3 1 3 2 -16.3 1 -3.9 1 -0.3 3 13.5 1 15.8 0.6 44 0.4 1.2 2 -10.6 2 -22.6 1 -3 2 13.9 2.1 4.1 1.8 30M392.5 839.7l1.5 -19.4 2 20.2 1 -1.3 3 -60.7 2 21.1 1 -1.4 0.7 -6.5 1.3 -33 1 14.2 -0.1 30.8 1.3 26 -0.2 25M410.0 854.7l-0.7 -36 0.4 -24 1.3 -24.2 1 -11.1 1 -3 -0.7 52.3 0.9 46M415.1 854.7l2.7 -72 4.2 -22.8 2 -34.2 0 -31.6 -1.6 -35.4 1.1 -82 -0.5 -7.2 -1 -2.1 -2 3.5 -1 -8.2 0.2 -13M501.5 543.7l-0.4 86 1.9 70 -1.3 39 -0.7 3.9 -1 0.3 -1 3.6 -1.9 11.2 -0.1 24.9 -0.1 -23.9 -1.9 -8.6 -0.6 -7.4 -1.4 -64.5 -1 -18.1 -1 -2.8 -3 -1.7 -2 -6.5 -1 1.3 -1.6 11.3 -1.4 34.5 -1 8.3 -2 3.6 -1 -0.1 -2 -4.3 -1.6 5 -2.4 42.9 -1 -3.6 -2 -37.7 -1 -3 -3 -2.1 -1 0.1 -1 1.7 -0.3 3.7 -0.1 35 -0.6 10.7 -1 -1 -1 0.7 -2 -2.9 -1 -0.4 -2 2.1 -2 -3 -1 -0.4 -1 1.3 -0.8 31.9 -1.2 8.6 -2 2.7 -3 -0.8 -3 -3.2 -1 0.4 -2.4 3.3 -1.6 3.9 -3.7 -6.9 -1.3 -5.9 -1 -1.7 -1.2 26.6 0.3 25 -0.7 28M522.5 859.7l-0.5 -19.8 -1 -2.6 -0.3 -5.6 -0.9 -54 -1.3 -8 -1.5 -3.2 -3 1.3 -1 2.9 -1 25.6 -1 -5.6 -1 -23.4 -1 7.3 -1.1 -76.9 1.1 -3.5 2 11.1 0.5 -4.6 2.3 -9 0.2 -34.8 1 -14.6 2 35.1 1 -0.6 1.5 -12.1 0.3 -13 -0.8 -19.4 -1 -13.1 -1 3.1 -0.2 -2.6 0.3 -59 0.9 -3.3 1 0.5 0.3 1.8 2.7 38.4 1 4.1 2 -15.4 2 -0.8 1.6 -4.3 1.4 -24.4 2 0.6 0.3 2.8 0.8 23 -0.3 15 -0.8 9.8 -1 5.9 -1 0.9 -3.9 77.4 0.6 2 1.3 1.2 2 -2.8 3 3.3 1.5 -3.7 -0.5 -37.2 2 -43.8 1 15 -0.7 65 0.7 3.4 2 2.3 4 -0.3 0.6 -1.4 0.5 -5 -0.9 -39 0.1 -92 -0.5 -5M566.4 554.7l0.7 51 0.9 18.4 1 2.6M320.6 849.7l-0.7 -35 -0.6 -5 -1.3 -2.8 -1 -0.1 -3 4.4 -1 -1 -2 -8.2 -1 0.4 -1 2.7 -1 -0.9 -1 -2.7 -2.8 -3.8 -1.2 -10.9 -1 -0.6 -1.9 30.5 -1.1 3.5 -0.7 -9.5 -0.2 -17 0.9 -23 1 -11.1 1 -2.1 1 7.3 1 -3.9 0.7 -31.2 0 -18 -2.1 -7 -0.3 -6 0.1 -85 0.6 -9 2 -6.5 1 -6.5 0.6 -27 0.9 -5M325.3 564.7l0.6 126 -0.7 38 1 38 3.1 58 -0.3 14.5 -1 5 -1 -4.6 -1 2.7M155.0 710.8l-1 -1.4 -1 -6.1 -0.5 -11.6 -0.1 -121 0.6 -8.7 1.5 -3.3M157.5 558.7l1.2 5 1.6 16 -1.7 116 -0.6 8.8 -3 6.3M569.0 680.8l-1.1 13.9 -1.4 111 -0.8 9 -0.7 2 -3 2.1 -3 -2.7 -4 0.7 -4 -0.4 -1.3 -2.7 -0.9 -17 -0.5 -54 -0.3 -6.9 -1 -4.3 -1 1.6 -1 6 -2.3 31.6 -1.7 8.3 -1 1.8 -2 -3.7 -2 -7.8 -3 8.7 -1 0.7 -1.6 -1 -3.4 -13.7 -2 -1 -1 0.9 -2.2 7.8 4.3 56 0.8 22M528.6 849.7l1.4 -9.9 1 1.4 1 -2.8 0.3 11.3M235.0 799.2l-1 -1.2 -1 -16.5 -0.1 -47.8 0.1 -3 2 -0.4 0.1 -0.6 1.9 -18 1 -1 0.3 7 -3.3 81.5M475.3 859.7l-0.6 -21 0.4 -45 2.9 -62.9 1 -6 1 16.7 2 0.3 2.1 7.9 0.5 7 -0.1 28 -1.5 17.5 -1.4 -4.5 -0.6 -12.5 -0.1 1.5 0.7 25 -0.3 48M569.0 750.2l0 -17.3M340.5 767.7l1 -16 -0.5 -16.6 -1 3.3 -0.6 13.3 0.6 16.9 0.5 -0.9M356.1 754.7l-0.1 -10.6 0.1 10.6M361.0 785.7l0.5 -20 -0.5 -6.4 -1 -1.3 -1 10.3 -1 -1 -0.4 1.4 0 9 0.4 8.2 1 -4.3 1 5 1 -0.9M460.9 859.7l1.1 -100.1 1 6.3 1.2 28.8 3 27 -0.7 38M240.3 803.7l0.7 -18.2 1 2.1 0.9 16.1M372.4 839.7l-0.1 -27 -0.3 -7.8 -1 -3.5 -0.8 14.3 0.5 24M436.0 820.1l0 -15.8 0 15.8M503.3 859.7l-0.8 -5 0 -18 1.5 -32.8 1.6 55.8M423.1 829.7l-0.1 -22.7 -1 7.6 -0.1 8.1 0.1 5.6 1 1.9 0.1 -0.5M495.5 864.7l-0.2 -30 1.7 -27.5 1 0 0.7 22.5 -0.9 35M510.3 849.7l0.7 -17.9 1.1 17.9M436.9 864.7l0.1 -26 1 -5.2 1.5 12.2 0.6 19M542.9 849.7l0.1 -16.6 0.7 2.6 -0.3 14M516.0 849.7l0 -6.7 0.2 6.7M426.8 864.7l-0.8 -17.2 -0.8 17.2M470.7 859.7l0.3 -9.1 1 0.1 1.6 9" fill="none" stroke="#000" stroke-width="1.30" stroke-dasharray="1.3 2.2"/></g><g clip-path="url(#clip133)"><g shape-rendering="crispEdges"><rect x="612.40" y="559.00" width="7.23" height="256.33" fill="url(#g134)"/><rect x="619.33" y="569.67" width="2.97" height="260.33" fill="url(#g135)"/><rect x="622.00" y="569.67" width="5.63" height="245.67" fill="url(#g136)"/><rect x="627.33" y="549.00" width="2.97" height="271.67" fill="url(#g137)"/><rect x="630.00" y="539.00" width="6.97" height="281.67" fill="url(#g138)"/><rect x="636.67" y="543.67" width="5.63" height="277.00" fill="url(#g139)"/><rect x="642.00" y="543.67" width="6.97" height="286.33" fill="url(#g140)"/><rect x="648.67" y="543.67" width="5.63" height="291.67" fill="url(#g141)"/><rect x="654.00" y="539.00" width="6.97" height="296.33" fill="url(#g142)"/><rect x="660.67" y="549.00" width="9.63" height="286.33" fill="url(#g143)"/><rect x="670.00" y="564.33" width="13.63" height="276.33" fill="url(#g144)"/><rect x="683.33" y="539.00" width="13.63" height="291.00" fill="url(#g145)"/><rect x="696.67" y="539.00" width="6.97" height="276.33" fill="url(#g146)"/><rect x="703.33" y="539.00" width="5.63" height="271.00" fill="url(#g147)"/><rect x="708.67" y="539.00" width="13.63" height="261.00" fill="url(#g148)"/><rect x="722.00" y="539.00" width="10.97" height="265.67" fill="url(#g149)"/><rect x="732.67" y="559.00" width="14.97" height="265.67" fill="url(#g150)"/><rect x="747.33" y="543.67" width="4.30" height="261.00" fill="url(#g151)"/><rect x="751.33" y="539.00" width="18.97" height="261.00" fill="url(#g152)"/><rect x="770.00" y="543.67" width="6.97" height="255.67" fill="url(#g153)"/><rect x="776.67" y="543.67" width="6.97" height="261.00" fill="url(#g154)"/><rect x="783.33" y="539.00" width="8.30" height="275.00" fill="url(#g155)"/><rect x="791.33" y="539.00" width="9.63" height="280.33" fill="url(#g156)"/><rect x="800.67" y="543.67" width="9.63" height="281.00" fill="url(#g157)"/><rect x="810.00" y="554.33" width="8.30" height="281.00" fill="url(#g158)"/><rect x="818.00" y="554.33" width="10.97" height="286.33" fill="url(#g159)"/><rect x="828.67" y="549.00" width="8.30" height="301.00" fill="url(#g160)"/><rect x="836.67" y="543.67" width="18.97" height="299.67" fill="url(#g161)"/><rect x="855.33" y="543.67" width="8.30" height="301.67" fill="url(#g162)"/><rect x="863.33" y="543.67" width="10.97" height="282.33" fill="url(#g163)"/><rect x="874.00" y="543.67" width="10.97" height="282.33" fill="url(#g164)"/><rect x="884.67" y="543.67" width="13.63" height="297.00" fill="url(#g165)"/><rect x="898.00" y="543.67" width="5.63" height="297.00" fill="url(#g166)"/><rect x="903.33" y="543.67" width="16.30" height="306.33" fill="url(#g167)"/><rect x="919.33" y="539.00" width="10.97" height="316.33" fill="url(#g168)"/><rect x="930.00" y="539.00" width="8.30" height="317.00" fill="url(#g169)"/><rect x="938.00" y="539.00" width="4.30" height="326.33" fill="url(#g170)"/><rect x="942.00" y="543.67" width="21.63" height="321.67" fill="url(#g171)"/><rect x="963.33" y="543.67" width="6.97" height="321.67" fill="url(#g172)"/><rect x="970.00" y="543.67" width="6.97" height="317.00" fill="url(#g173)"/><rect x="976.67" y="539.00" width="13.63" height="321.67" fill="url(#g174)"/><rect x="990.00" y="543.67" width="8.30" height="317.00" fill="url(#g175)"/><rect x="998.00" y="539.00" width="8.30" height="321.67" fill="url(#g176)"/><rect x="1006.00" y="539.00" width="15.63" height="326.33" fill="url(#g177)"/><rect x="1021.33" y="539.00" width="2.97" height="321.67" fill="url(#g178)"/><rect x="1024.00" y="539.00" width="3.63" height="311.67" fill="url(#g179)"/><rect x="1027.33" y="543.67" width="17.63" height="307.00" fill="url(#g180)"/><rect x="1044.67" y="554.33" width="10.97" height="296.33" fill="url(#g181)"/><rect x="1055.33" y="554.33" width="4.30" height="296.33" fill="url(#g182)"/><rect x="1059.33" y="554.33" width="4.30" height="306.33" fill="url(#g183)"/><rect x="1063.33" y="554.33" width="8.30" height="311.00" fill="url(#g184)"/><rect x="1071.33" y="539.00" width="14.97" height="326.33" fill="url(#g185)"/></g><path d="M637.1 542.7l0.1 24.9 1.7 34.1 0.2 17 -1.3 32 -0.8 58 0.2 62 -0.7 9 -1.3 2.9 -3 -1 -2 -2.4 -0.6 -2.5 -3.4 -69.4 -1 -1 -2 0 -2 -7.5 -1 -0.4 -0.9 7.3 -0.3 13 1.3 34 -0.1 5.5 -1 1.7 -1.5 -19.2 -2.5 -8.7 -2 -14.1M688.3 539.7l-1.1 15.2 -1 -3.2 -0.6 -12M698.9 539.7l1.1 36 -2.8 40.3 -1.2 -4.3 -0.8 -16 1.3 -27 0.1 -29M732.7 554.7l-1.5 7.8 -1 -1.8 -0.4 -21M805.5 543.7l0.1 31 0.6 5.3 1 0.6 1 -4.6 0.5 9.7 -0.4 31 -0.1 1.6 -1 -1.7 -1 1.5 -0.5 20.6 0.5 23.3 1 6.8 1 -3.3 1 6.6 -0.3 21.6 1.1 16 -0.8 67.4 -1 2.2 -1 -2.7 -1 -0.2 -1 2 -1 0.5 -3 -10.9 -2 -1 -2 -8.2 -1 -1.5 -2 6.6 -2 -0.3 -3 18.9 -2 6.8 -3 -7.7 -1.3 22.1M775.2 799.1l0.8 -5.4 0.4 -22 -1.2 -41 -1 4.6 -2 23.1 -1 -0.3 -1 -1.6 -3 -14.6 -2.2 1.8 -2.8 15.1 -2 5.2 -1 0 -1.1 -7.3 -0.1 -28 -1.5 -20 1.7 -9.3 2 0.1 1 -1.2 2 -6.1 1 1 3 8.6 1 0.9 1.3 -4 -0.2 -43 0.9 -2.4 1 1.1 2 -5.8 1 3.3 1 -8.2 0.6 -100M810.0 550.7l-0.8 0.5 0 -7.5M871.4 543.7l2.1 24 -0.3 45 0.7 43 0.8 4 1.5 2.7 5 1.8 1 -0.8 3 -6.2 0.7 8.5 -0.2 32 -2.5 67.4 -1 11.1 -1 1.2 -3 -15.4 -2 2.7 -1 -0.4 -1 -2.3 -3 6.4 -2 -7 -1 2.4 -2 13.8 -1 1.2 -1.2 -11.1 -1.1 -76 1.5 -94 -2.8 -54M865.9 543.7l0.3 4.4 0.6 -4.4M886.5 543.7l-0.3 11.3 -1 -4.2 -0.2 -7.1M888.6 543.7l-0.4 13.6 -0.3 -13.6M1001.3 539.7l0.6 37 0.3 4.3 2 6.4 0.6 4.3 3.4 37.9 0 25.5 -1 -2.4 -0.3 -30 -0.7 -2.6 -1.8 10.6 -2.2 3.9 -1.6 7.1 -1.7 50 -1.7 9.4 -3 8.7 -1 -0.9 -2 -9 -1 -0.3 -2 4.3 -2 -1.1 -1 0.6 -3 4.6 -3 -1.8 -0.9 1.5 -1.1 30.4 -1 8.9 -1 -5 -2 -24.8 -2 -9.9 -1.1 1.4 -0.9 11.8 -1 -1.7 -1 -6.4 -1 -0.9 -2.5 19.2 -2.1 38 -1.2 7 -2.2 5.5 -2.1 -3.5 -1 -21 -0.9 -2.4 -2 3.5 -3 -18.8 -1 2 -0.8 19.7 0.8 33 -1 6.5 -1 -3.2 -2 -21.3 0.3 -31 -0.3 -4.4 -1 -1.9 -0.7 24.3 -2.3 22.8 -1 -1.8 -0.6 -4 -1.1 -16 -1.3 -46.5 -0.9 -6.5 0.9 -3.1 0.6 -12.9 -0.6 -21.1 -1.4 -11.9 0.2 -49 3.2 -73M976.0 543.7l1.9 57 0.3 4.3 1 2.8 2 -0.2 2 -2.1 2 2.1 0.9 -3.9 1.1 -12.3 1 0.4 1 -8.1 1 -31 1.6 -9M987.9 539.7l-1.7 15.7 -2 -6.2 -1 -0.4 -0.7 3.9 -0.5 25 -0.8 8.2 -0.6 -8.2 0.3 -21 -1.2 -17M1014.2 539.7l0 3.8 -1 0.5 0 -4.3M1020.0 539.7l-0.8 14.4 -0.6 -14.4M613.2 687.2l2 1.2 2 -0.2 3 4.5 1 -3.8 0.2 -6.2 0 -105 0.8 -8M627.8 569.7l0.2 32 1.2 12.8 0.1 -29.8 -0.9 -10 -0.2 -13.4M772.2 596.2l-1 -1.8 -0.9 -19.7 0.9 -24.7 1 -2.4 1 5.9 0.4 21.2 -0.4 16 -1 5.5M891.2 665.8l-1 -6.1 -0.4 -38 -2 -20 0.4 -31.7 1.9 21.7 2.4 51 -1.3 23.1M1061.2 583.5l-1 -4.8 1 -6.5 0 11.3M1071.2 773.2l-1 -1.7 -1.3 -11.8 -5.3 -64 -0.7 -46 2.3 -63.1 1 -4.8 1 2.1 1 -0.8 2 -8.9 1.5 48.5 0 68 -1.2 32 1.4 31 -0.7 19.5M1047.2 579.7l0 -4.8 0 4.8M713.2 592.0l0 -9.7 0 9.7M894.2 604.5l-0.7 -12.8 0.7 -4.7 0 17.5M1012.2 648.1l-1 -6.3 -0.5 -23.1 0.5 -18 1 -6.2 1.1 43.2 -1.1 10.4M686.2 616.4l-0.8 -4.7 0.8 -9.1 1.1 8.1 -0.1 3.3 -1 2.4M1018.2 714.3l-3.6 -71.6 1.6 -22.9 2 -8.4 1 2.3 0.6 22 -1.1 35 0.3 35 -0.8 8.6M895.2 648.2l-1 -10.5 1 -17.8 0.8 20.8 -0.8 7.5M902.2 734.4l-1 -2 -3 -13.9 -0.9 -8.8 -0.8 -64 1.7 -7.3 2 0.9 2 -0.3 2.8 15.7 -1.2 16 -0.1 49 -0.5 10.1 -1 4.6M928.2 688.3l-1 -2.1 -1.8 -17.5 -0.2 -0.6 -1 2.3 -1 0.4 -1.5 -2.1 -1.5 -4 -0.9 -8 0.9 -6.5 3 -3.7 1 0.7 2 6.9 2 -8.2 1 1.8 0.4 9 -1.4 31.6M908.2 696.4l-1 -2.2 -2 -38.5 0.8 -6 1.2 -1.4 1.6 6.4 0.4 5 0 24 -1 12.7M914.2 670.8l-1.4 -3.1 -1 -8 0.8 -6 1.6 -5.2 1 3.2 0.5 6 -0.5 8.3 -1 4.8M720.2 798.1l-1 -1.9 -2 -13.8 -1 -0.5 -2 2.8 -2 -2.8 -2 2 -0.4 -5.2 -0.6 -13 -0.4 -85 0.4 -7 1 -3.6 1 -1.1 3 2 6 0.7 1.5 5 -0.6 107 -0.9 14.4M1008.2 761.0l-0.5 -40.3 0.5 -8.4 1.8 -11.6 1.2 -24.1 1.1 14.1 0 18 -4.1 52.3M628.2 696.7l0 -15.6 0 15.6M1045.2 805.6l-0.9 -0.9 -0.2 -3 -0.7 -45 0.6 -46 1.2 -8 2 1.3 2 -2.5 2 0.8 2 -0.5 1 0.4 0.8 4.5 0.9 41 -0.3 31 -1 13 -2.4 8 -1 -0.1 -2 -7.6 -1 1 -3 12.6M920.2 797.5l-0.8 -17.8 0.8 -44.6 1 -2.6 2 1.6 1 0.2 0.3 -0.6 2.7 -14.6 1 -1.6 1.5 7.2 0.8 16 -0.7 42 -0.6 4.4 -1 -5.1 -2 -23.5 -1 -1.4 -1.9 24.6 -2.1 14.5 -1 1.3M1021.2 749.3l-1 -3.5 -0.3 -10.1 0.4 -11 0.9 -7 1 15 -1 16.6M622.2 735.9l0 -5.9 0 5.9M1035.2 778.0l-1 -5 -0.2 -9.3 0.2 -9 1 -1.6 0.8 12.6 -0.8 12.3M649.7 543.7l-2.3 85 -1.2 20.8 -0.3 40.2 -0.7 4.1 -3 -60.6 -1.9 22.5 -1.3 43 4.2 53.8 1 2 1 -0.1 1 1.6 1.5 9.7 0.6 57 -0.6 7M701.5 539.7l0.7 40.8 2 -5.9 1.1 6.1 0.8 15 -1 28 1.7 14 0.1 13 -1.1 8 -1.6 4.1 -2.3 -3.1 -1.7 -4.3 -1 -1.5 -1 -0.1 -2.2 -29.1 -1.8 -6.7 -1 -1.3 -1 0.5 -0.5 -0.5 -0.9 -2 -0.6 -27.7 -1 -5.2 -0.2 33.9 -1.8 8.4 -1 1.3 -1.1 -0.7 -1 -10 1.1 -39 -1 -11.2M681.8 564.7l-1.6 11.8 -1 -0.5 -1.1 -11.3M690.3 539.7l0.9 18 1.4 5 1.6 1.6 0.9 -10.6 0.2 -14M709.6 799.7l-1 -8 -0.7 -58 0.4 -56 1.5 -15 -1.4 -22 -1.2 -8 0 -9 1 -4.5 1 6.7 1 -0.7 1 0.9 2 10.8 1.6 -21.2 -0.9 -3 -2.2 -3 -1.5 -5.2 -2 -0.2 0 -4.6 1 -16.3 1 -1.9 2 -23.9 1 -4.2 2 11.8 0.2 -1.5 0.5 -24M718.6 539.7l0.6 13 1 -1.7 0.8 6.7 0.5 40 -1.3 12.5 -1 1.6 -1 -1.6 -1 0.9 -1.2 5.6 1.2 31 -0.7 16 0.7 1.9 3 1.5 1.8 2.6 2.2 7.2 1 7.1 0 9.3 -2 -3.3 -1.1 22.7 0.1 46.5 1.7 44.5M742.2 559.7l-1 1.9 -0.4 -1.9M737.2 559.7l-1 4.4 -2 -4.1 -1 0.1 -0.5 2.6 -0.9 18 0.1 23 -0.7 7.6 -2 -8.9 -1 -1.1 -3 3.8 -1 -2.4 0.1 -31 -0.8 -32M728.2 539.7l0 0M747.9 806.7l-0.7 -2.6 -1 2.5 -1.1 17.1M740.9 823.7l0.3 -11.7 3 -24.9 1 0.2 1 4.5 0.1 -2.1 1.8 -49 0.1 -34.7 1 -3.6 1 0.3 1 -1.3 1.1 -7.7 -1 -25 0.3 -67 0.6 -13.5 1 -1.3 1.1 12.8 0.1 27 0.8 14.4 1.5 -24.4 0.5 -3.3 1 -1.2 2 7.6 1 -2.3 1 -0.4 1 1.4 2 11.7 1 0 2.5 -8.5 0.6 -11 0 -41 0.8 -22 0.7 -4M807.1 543.7l0.1 5 0.2 -5M810.6 554.7l-0.6 5 0 52 1.6 56 0.1 31 1.5 9.2 1 1.5 2.6 -10.7 0.9 -7 1.5 -30.9 1.6 -16.1 -0.2 -27 0.6 -1.7 1 1.8 1 -4.1 2 -15.2 2 3.8 3 -13.2 1 4.8 3 42.1 1 -36.6 1 6 -0.2 71.3 -0.8 29.1 -1 4.6 -1 -17.1 -0.7 25.4 0.7 14.5 1 -8.7 1 0.5 1.5 58.7 0.5 4.3 1 0.8 1 -0.9 1 0.6 2 3.1 1 0.2 1 -0.9 1 0.5 1.5 4.3 0.5 4.1 3 -10.8 2 -2 2 0.2 0.5 -1.5 3.5 -34.8 1 -1.7 2 9.2 1 -10.2 0 -42.7 -1 -4 -4 -2.6 -0.8 -4.2 1.8 -16.6 1 -3.1 1 0.6 1 -1.4 1 -7 1 -21.5 0 -53.6 -1 -20.9 -2.5 -17.5 -0.4 -10M857.4 543.7l-0.2 14.1 -1 -14.1M880.5 543.7l-0.9 25 -1 4 -2.4 3.5 -1 3.9 -1.2 35.6 1.2 38.6 1 1.9 5 2.3 1.3 -1.8 0.8 -4 0.8 -38 -0.6 -44 -1.6 -27M895.5 543.7l1.7 57.5 1 8.4 1 0.6 1 0 1 -8.5 1.5 -58M904.0 543.7l-0.8 23 1.1 60 0.9 6.2 2 2.2 2 7.9 1 0.9 2 -3.6 2 -6.9 3 9.4 3 -11.2 2 2.6 2 -1.4 2 5.4 3 -9.8 1 -0.3 2 4.3 0.5 -11.7 -1.5 -23 -0.6 -44 0.6 -5.2 1.2 7.2 0.8 25.6 1 4 1 -9.6 0.3 -20 1.8 -16M1004.3 539.7l0.9 28.1 4 26.8 2.5 -23.9 0.1 -31M1021.6 539.7l-0.7 23 0 44 1.2 59 3.1 38.7 0.3 -8.7 1.6 -13 1.1 -5.6 1 -1.3 5 11.7 1 -0.1 3 -7.3 1.6 2.6 2.4 10.1 1 -0.4 2 -4.9 1 6.6 1 1.9 0.7 -2.3 0 -5 -1.8 -13 -0.9 -97 1 -14.5 1 -2.1 1 2.4 1.2 9.2 0.2 15 0.6 3.1 2 -1.6 0.4 -1.5 3.6 -24.1 1 -1.2 1 1.6 1 0 2 -6.6 1 1 2 12.6 2 -4.2 1 1.8 1 -0.3 2 -8.6 1 0.8 0.4 6.2 0.9 44 0.2 71 -0.7 28 0.6 17 0.6 6.4 1 2.4 3 -11 3 -4.5 1 2.4 3 24 1 -0.9M639.4 574.7l0.8 -15 -0.3 -12 -0.7 -3.4 -1 0.7 -0.3 4.7 0.3 16.6 1 9.3 0.2 -0.9M834.2 561.0l-1 -3.5 -1 -0.3 -1 -2.7 -0.2 -4.8M833.5 549.7l1 1 0.6 3 -0.9 7.3M613.2 673.3l2 1.9 2 -3.6 2 -0.9 1 -4.7 -0.5 -88.3 1.1 -8M614.5 559.7l3.5 18 -1.8 27.7 -1 4.2 -2 -16.9M978.2 561.7l0 -14 -0.5 6 0.5 8.5 0 -0.5M701.3 629.7l1.3 -10 -0.4 -19 -1 1.9 -0.3 7.1 0.3 20.6 0.1 -0.6M732.2 660.5l-1 -1.3 -0.1 -10.5 0.1 -13.1 1 -1.1 0 26M923.6 708.7l0.9 -4 -0.3 -7.6 -1 2.2 -0.5 4.4 0.5 5.5 0.4 -0.5M1004.3 747.7l0.9 -8 0.5 -31 -0.5 -4.2 -3 -6.7 -1 0.1 -3 8.6 -0.2 15.2 0.6 6 5.6 20.6 0.1 -0.6M1058.2 735.7l2 -9 2 4.3 1 0.4 0.5 -21.7 -0.5 -6.7 -1 -3.7 -2 3 -3 -4.5 -1.1 4.9 0.1 18 1 15.3 1 -0.3M914.2 719.7l0 -15.5 -1 -2.8 -0.1 15.3 1.1 3.7 0 -0.7M987.2 757.7l0.9 -10 0.1 -15 -1 -11.6 -1 -0.9 -1.5 9.5 -0.4 10 1.7 15 1.2 3M900.4 805.7l-0.6 -59 -0.6 -6.7 -1 -1.4 -0.8 7.1 0.1 17 2.7 43.7 0.2 -0.7M916.2 761.7l0 -20.3 0 20.8 0 -0.5M822.2 762.7l0 -12.5 -1 -6.3 -0.8 10.8 0.8 7.8 1 1 0 -0.8M965.3 753.7l-0.1 -4.1 0 4.8 0.1 -0.7M613.2 782.9l1 5.1 1 1 0.7 -8.3 -0.3 -14 -0.4 -6.3 -2 -10.1M730.2 795.8l-0.5 -22.1 0.5 -8.8 1 -0.5 0 24.1 -1 7.3M982.3 806.7l0.9 -5.2 0 -15.1 -1 -15.2 -1 -1.1 -1 -5.4 -0.6 5 0.6 19.9 2.1 17.1M1077.2 807.7l0 -11.6 0 11.6M836.5 832.7l0.7 -1.2 1 -12.8 -1 -12.9 -1 1.3 -0.5 8.6 0.5 17.6 0.3 -0.6" fill="none" stroke="#000" stroke-width="1.10" stroke-linejoin="round"/><path d="M645.6 543.7l1.1 60 -0.4 26 -1.1 16.4 -1 -2.1 -1.2 -17.3 1.9 -54 -0.7 -28.4 -1.7 22.4 -1.3 4.8 -2 -26.5 -1 -0.1 -0.4 3.8 0.4 35.2 1.5 17.8 0.7 24 -2.2 28.9 -0.9 57.1 0.5 60 -0.9 12 -1.6 10 0.9 26.4M633.9 819.7l-0.5 -28 -2.2 -3.2 -2 1.5 -3 -18.3 -1 5.1 -1 1.6 -2 -18.4 -1 2.5 -1 19.8 -3 -32.6 -2 -0.7 -2 -9.8M699.2 539.7l0 53.9 2.7 54.1 -0.3 4 -1.4 2.3 -1 -3.4 -0.4 -24.9 -1.1 -8 -1.5 -1.5 -3 -0.7 -4 1.9 -2 2.5 -1 -0.7 -1 -3.4 -0.3 -42.1 -0.7 -9.7M689.1 539.7l0.6 32 0.5 2.4 2 -7.3 1 0.5 2 11.6 1.8 -15.2 0.5 -24M714.2 539.7l0.5 42 0.5 7.8 1.8 8.2 -0.7 5 -1.1 2.1 -4 -0.6 -2 0.5 -0.9 -5 0.1 -18 2.4 -17 0.9 -25M718.4 539.7l0.8 57.7 -1 -1.9 -0.3 -2.8 -0.3 -53M727.1 539.7l-1.9 21.2 -0.8 -21.2M733.1 556.7l-1.1 7 -0.8 39.7 -1 -1.5 -0.5 -4.2 -2.5 -58M755.9 799.7l1.1 -17 -2.3 -14 -4 -58 1.5 -6.9 1 -1.3 2 -0.2 3 -4.9 2 1.8 3 -8.4 1 3.9 1 0.4 1 -1.4 2 0.7 0 -42.8 -1 0.6 -2 13.1 -2.6 -21.6 1.6 -6.2 4 1.4 1 -6 1.2 -26.2 0.1 -57 0.7 -4.1 2 0.9 1 -0.3 0.4 -2.5M808.0 543.7l0.8 5 -0.5 10 1.3 46 0.2 89 1.9 19 -0.5 49.5 1 -1.4 1 -4.6 1.3 0.5 0.3 3 -0.2 38 -1.3 25 0 12M905.8 849.7l0.4 -3.1 0.4 3.1M908.5 849.7l0.2 -52 -0.5 -6 -1.9 -5 -0.7 -14 0.9 -57 -0.3 -19 -1 -7.4 -0.6 43.4 -1.4 10.9 -2 0.9 -4 -11.1 -0.4 3.3 1 54 -0.6 18.1 -1 9.1 -1.1 -6.2 -0.9 -51.8 -1 -4.5 -1.2 6.3 -1.8 20.3 -1 -30.8 -1 -4 -3 29.5 -2 3.9 -3 2.7 -2 -0.7 -0.4 1.1 -1.8 19 -0.8 3.6 -1 1.1 -0.6 -0.7 0.4 -20 -0.5 -5 -1.3 -1.6 -2 1 -2 -0.5 -2 2.9 -2 -3.9 -0.6 -2.9 -1.5 -83 1.4 -57 -0.6 -93M871.9 543.7l1.7 26 0.9 85 0.7 3.5 1 1.3 5 1.1 3.5 -4.9 0.5 -3.1 0.4 1.1 1.6 48.5 1 2.5 2 -37 1 1 1.8 38 1.2 8.1 1 0.5 1 -17.6 -0.2 -29 -0.8 -9.8 -1 6.9 -1 -2.4 -0.6 -11.7 0.3 -19 1.3 -15.5 1 5 1 18.6 0.4 -6.1 1 -3 0.6 -0.8 2 0.5 1 -1.2 1 0.1 2 9.4 1 1.4 1 -1.1 1 0.3 2 3.2 1 0.1 2 -2.6 3 4 1 0.3 3 -4.2 2 0.9 2 -0.2 2 2.9 1 0.2 3 -5.1 1 1 0.5 2.9 1.5 19.3 1.2 -10.3 3.2 -94 1.2 -19M877.0 543.7l-0.8 1.1 -0.1 -1.1M887.3 543.7l1.5 52 -2 30 -0.6 20.5 -0.6 -64.5 -2.3 -38M1001.0 539.7l1.2 17.8 2 2.9 1.7 9.3 2.1 44 1.2 8.6 1 -11.6 0.3 -28 -2 -43M1013.6 539.7l0.6 48.4 1 17.2 1.9 -23.6 -1.2 -42M1020.4 539.7l-0.2 48.2 -1.3 28.8 -0.1 20 2.5 46 2 16 0.9 22.5 1 0.1 1.7 -24.6 1.3 -4.2 1.4 4.2 1.6 10.4 1.2 -10.4 0.8 -1.1 1 0.1 2 2.6 2 -5.6 1 0 1.4 5 0.6 18 1 2.9 2 -21.6 1 -2.1 2 0.6 2 -0.8 1 0.7 2 -3 2.5 7.3 0.7 6 1.6 40 -0.9 48 1.1 20.5 1 -0.6 2 -19.5 1 0.2 0.5 7.4 0.3 38 -1.2 20M613.2 682.8l4 7.7 2.5 -8.8 0.9 -11 0.4 -93 0.6 -8M980.3 584.7l1.9 -10 2 -3.3 0.6 -3.7 0.2 -12 -1.8 -11 -2 3.9 -2 1 -0.7 5.1 0.7 26.5 1 4 0.1 -0.5M706.2 655.4l-1 0.2 -0.6 -0.9 -1.1 -4 -0.8 -41 0.3 -20 2.2 -33.7 0.9 52.7 2 40 -0.3 4 -1.6 2.7M1047.2 615.0l-0.6 -35.3 0.6 -5.3 0.6 6.3 -0.6 34.3M1058.2 646.0l-1 -7.5 -1 -1.9 -1 1.4 -1 -2.4 -1.2 -14.9 0.4 -36 0.7 -8 1.1 -1.1 2 19.2 2 -11.1 1 3 0.9 12 -0.3 19 -1.6 23.3 -1 5M1068.6 864.7l0.2 -35 -1.6 -8.1 -1 -12.5 -1 0.4 -1 -1.1 -0.2 -3.7 -0.1 -94 -1.7 -19 0.6 -83 2.4 -28 1 -3.9 1 1.6 1 -0.3 1 -3 1 1.2 0.1 1.4 1.6 53 -0.4 84 1.6 72 -0.5 18 -2.9 26 2 18 0.7 16M724.2 602.7l-0.5 -4 0.5 -6.4 0.6 5.4 -0.6 5M820.2 626.6l-1 -6.9 1 -7.2 0 14.1M833.2 657.5l-1.6 -6.8 -0.7 -8 0.2 -14 1.1 -2.9 1.4 1.9 0.7 5 -0.1 20.8 -1 4M827.2 745.9l-1.7 -70.2 0.5 -35 0.2 -2.8 1 -1.6 1.6 15.4 0.7 52 -0.3 18.6 -2 23.6M1014.2 684.7l1.1 -16 -0.1 -23.2 -1 11.2 0 28.6 0 -0.6M816.2 740.9l-0.3 -28.2 2.7 -17 0.6 -44.7 0.6 22.7 3.4 31.3 0.1 13.7 -0.1 2.4 -1 2.3 -1 -1.4 -2 9 -1 0.4 -1.3 4.3 -0.7 5.2M718.2 800.2l-2 -4.1 -2 3.9 -1 0 -2 -2.7 -1 -3 -0.9 -12.6 -0.8 -103 0.4 -7 1.3 -4.3 1 0.1 2 2.2 3 -0.4 4 0.7 1.3 1.7 0.5 3 -0.3 106 -0.5 16 -1 3.7M915.3 849.7l1.1 -22 -0.8 -113 0.6 -14.7 1 -0.2 2 11.6 1 0.1 2 -3.9 1 0.2 2 5.7 1 -1.9 0.7 -6.9 -0.3 -10 -1.4 -7.3 -2 7 -1 -0.1 -2 -10.8 -1 -0.7 -1 1.9 -2 10.3 -1 -0.1 -1.8 19.8 0.8 49 -1.7 24 -0.3 28 1.3 34M935.2 695.7l0.6 -4 -0.6 -6.7 -0.5 6.7 0.5 4M859.2 696.5l-0.9 -2.8 0.9 -4.6 0 7.4M911.3 728.7l1.6 -7 0.2 -6 -0.5 -17 -1.4 -5.6 -1 6.6 -0.3 16 0.3 9.2 1.1 3.8M984.9 859.7l-1.7 -38 0 -60 1 -23.6 3.4 46.6 1 55 0.6 7.9 1 0.5 1 -0.2 1 -5.7 0 -58.5 1 -9.2 3.7 32.2 1.3 37.8 1.4 -20.8 1.6 -4.7 1.2 -8.3 2.9 -42 1.4 -62 -1.5 -9.8 -1 -1.6 -3 0.1 -2 -2.3 -3.6 16.6 -0.3 23 -1.1 8.4 -1.8 -29.4 -0.7 -3 -1.5 -1.3 -1.5 3.3 -0.5 3.5 -2 -5.7 -3 3 -3 -1.6 -2 2.8 -1.5 25 -2.5 8.3 -1 0 -3 -4.1 -2 3.1 -1 0.4 -1 -2.3 -1 0.5 -0.7 21.1 1.6 39 -0.9 8.1 -1 0.1 -2 -5.1 -1 0.2 -2 5.9 -1 6.7 -5 -15.8 -2 4.9 -3 3.3 -1 -0.6 -4 -7.6 -4 3.5 -1.4 4.4 -0.6 5.5 -1 0 -0.7 -11.5 -1.3 -7.9 -1.7 9.9 -1.3 18.4 -1 1.2 -0.5 27.4M1028.3 763.7l0.6 -13 -0.7 -14.5 0 28.1 0.1 -0.6M1085.2 777.2l-1.2 -23.5 1.2 -11.9M750.2 804.1l-1 -1.1 -0.6 -3.3 -0.2 -16 0.8 -33.1 1 -3.2 1.6 54.3 -0.6 1.7 -1 0.7M1033.3 811.7l0.6 -27 -1.7 -34.1 -0.8 37.1 0.8 18.5 1.1 5.5M1082.2 789.1l-1.3 -19.4 0.3 -17.3 1.2 13.3 -0.2 23.4M998.2 804.0l-0.2 -30.3 1.2 -19.1 0.5 32.1 -0.5 15.1 -1 2.2M1024.2 760.7l0 -6.5 0 6.5M1025.2 802.7l1 -9 -1 -25.3 0 34.3M806.7 823.7l-1.5 -22.3 -3 -9.4 -2 -15.1 -1 -0.6 -1 0.9 -3 -2.2 -1 0.9 -1 3.7 -0.5 6.1 -0.4 13 0.7 20M1055.0 849.7l-0.7 -23 -1.1 -4.4 -4 -4.1 -1 -0.2 -1 1.3 -2 7.4 -3 -38.2 -1 -2.8 -1.7 7 -0.3 5.9 2.2 17.1 1.2 34M1024.3 849.7l-0.4 -33 -1.7 -25.1 -1 -2 -0.5 75.1M644.2 818.7l-0.1 -15 0.1 -1.2 1 -0.8 0 14 -1 3M871.5 825.7l1.7 -18.1 0.2 18.1M885.1 825.7l1.1 -12.5 1 2.6 2 19.3 1 2.5 3 1 0.2 1.1M621.2 830.2l0.2 -11.5 0.9 -4M924.8 854.7l0.8 -31 -0.4 -5.3 -1 -1.6 -3 8.5 -1.2 24.4M977.2 859.7l1 -30.8 3 -10.8 1.6 6.6 -0.1 35M826.1 839.7l0.1 -20.1 0.5 20.1M1016.1 864.7l-0.3 -31 -0.6 -8.5 -1 -3.4 -1.3 12.9 -0.5 30M1031.5 849.7l-2.3 -19.7 -1.1 1.7 -0.8 18M819.7 839.7l0.5 -8.9 1 0.3 1.3 8.6M958.5 864.7l0.5 -29 0.2 -2.6 1 -1.2 2.3 20.8 0.5 12M1009.2 845.7l0 -13.6 0 13.6M1062.3 859.7l0.3 -17 1.6 -7.9 1.7 8.9 0.4 21M968.4 864.7l0.8 -28.4 1 23.4M1039.3 849.7l-1.1 -12.7 -3.4 12.7" fill="none" stroke="#000" stroke-width="1.30" stroke-dasharray="1.3 2.2"/></g><rect x="96.50" y="66.50" width="473.00" height="327.00" fill="none" stroke="#262626" stroke-width="1"/><path d="M98.50 393.50v-4.5M98.50 66.50v4.5" stroke="#262626" stroke-width="1"/><text x="98.50" y="421.90" font-family="Liberation Sans" font-size="21.50" font-weight="normal" font-style="normal" text-anchor="middle" fill="#262626" textLength="13.23" lengthAdjust="spacingAndGlyphs">0</text><path d="M209.50 393.50v-4.5M209.50 66.50v4.5" stroke="#262626" stroke-width="1"/><text x="209.50" y="421.90" font-family="Liberation Sans" font-size="21.50" font-weight="normal" font-style="normal" text-anchor="middle" fill="#262626" textLength="26.46" lengthAdjust="spacingAndGlyphs">50</text><path d="M320.50 393.50v-4.5M320.50 66.50v4.5" stroke="#262626" stroke-width="1"/><text x="320.50" y="421.90" font-family="Liberation Sans" font-size="21.50" font-weight="normal" font-style="normal" text-anchor="middle" fill="#262626" textLength="39.69" lengthAdjust="spacingAndGlyphs">100</text><path d="M431.50 393.50v-4.5M431.50 66.50v4.5" stroke="#262626" stroke-width="1"/><text x="431.50" y="421.90" font-family="Liberation Sans" font-size="21.50" font-weight="normal" font-style="normal" text-anchor="middle" fill="#262626" textLength="39.69" lengthAdjust="spacingAndGlyphs">150</text><path d="M543.50 393.50v-4.5M543.50 66.50v4.5" stroke="#262626" stroke-width="1"/><text x="543.50" y="421.90" font-family="Liberation Sans" font-size="21.50" font-weight="normal" font-style="normal" text-anchor="middle" fill="#262626" textLength="39.69" lengthAdjust="spacingAndGlyphs">200</text><path d="M96.50 363.50h4.5M569.50 363.50h-4.5" stroke="#262626" stroke-width="1"/><text x="87.00" y="370.90" font-family="Liberation Sans" font-size="21.50" font-weight="normal" font-style="normal" text-anchor="end" fill="#262626" textLength="13.23" lengthAdjust="spacingAndGlyphs">4</text><path d="M96.50 312.50h4.5M569.50 312.50h-4.5" stroke="#262626" stroke-width="1"/><text x="87.00" y="319.90" font-family="Liberation Sans" font-size="21.50" font-weight="normal" font-style="normal" text-anchor="end" fill="#262626" textLength="33.07" lengthAdjust="spacingAndGlyphs">4.5</text><path d="M96.50 261.50h4.5M569.50 261.50h-4.5" stroke="#262626" stroke-width="1"/><text x="87.00" y="268.90" font-family="Liberation Sans" font-size="21.50" font-weight="normal" font-style="normal" text-anchor="end" fill="#262626" textLength="13.23" lengthAdjust="spacingAndGlyphs">5</text><path d="M96.50 209.50h4.5M569.50 209.50h-4.5" stroke="#262626" stroke-width="1"/><text x="87.00" y="216.90" font-family="Liberation Sans" font-size="21.50" font-weight="normal" font-style="normal" text-anchor="end" fill="#262626" textLength="33.07" lengthAdjust="spacingAndGlyphs">5.5</text><path d="M96.50 158.50h4.5M569.50 158.50h-4.5" stroke="#262626" stroke-width="1"/><text x="87.00" y="165.90" font-family="Liberation Sans" font-size="21.50" font-weight="normal" font-style="normal" text-anchor="end" fill="#262626" textLength="13.23" lengthAdjust="spacingAndGlyphs">6</text><path d="M96.50 107.50h4.5M569.50 107.50h-4.5" stroke="#262626" stroke-width="1"/><text x="87.00" y="114.90" font-family="Liberation Sans" font-size="21.50" font-weight="normal" font-style="normal" text-anchor="end" fill="#262626" textLength="33.07" lengthAdjust="spacingAndGlyphs">6.5</text><rect x="96.50" y="539.50" width="473.00" height="326.00" fill="none" stroke="#262626" stroke-width="1"/><path d="M98.50 865.50v-4.5M98.50 539.50v4.5" stroke="#262626" stroke-width="1"/><text x="98.50" y="893.90" font-family="Liberation Sans" font-size="21.50" font-weight="normal" font-style="normal" text-anchor="middle" fill="#262626" textLength="13.23" lengthAdjust="spacingAndGlyphs">0</text><path d="M209.50 865.50v-4.5M209.50 539.50v4.5" stroke="#262626" stroke-width="1"/><text x="209.50" y="893.90" font-family="Liberation Sans" font-size="21.50" font-weight="normal" font-style="normal" text-anchor="middle" fill="#262626" textLength="26.46" lengthAdjust="spacingAndGlyphs">50</text><path d="M320.50 865.50v-4.5M320.50 539.50v4.5" stroke="#262626" stroke-width="1"/><text x="320.50" y="893.90" font-family="Liberation Sans" font-size="21.50" font-weight="normal" font-style="normal" text-anchor="middle" fill="#262626" textLength="39.69" lengthAdjust="spacingAndGlyphs">100</text><path d="M431.50 865.50v-4.5M431.50 539.50v4.5" stroke="#262626" stroke-width="1"/><text x="431.50" y="893.90" font-family="Liberation Sans" font-size="21.50" font-weight="normal" font-style="normal" text-anchor="middle" fill="#262626" textLength="39.69" lengthAdjust="spacingAndGlyphs">150</text><path d="M543.50 865.50v-4.5M543.50 539.50v4.5" stroke="#262626" stroke-width="1"/><text x="543.50" y="893.90" font-family="Liberation Sans" font-size="21.50" font-weight="normal" font-style="normal" text-anchor="middle" fill="#262626" textLength="39.69" lengthAdjust="spacingAndGlyphs">200</text><path d="M96.50 835.50h4.5M569.50 835.50h-4.5" stroke="#262626" stroke-width="1"/><text x="87.00" y="842.90" font-family="Liberation Sans" font-size="21.50" font-weight="normal" font-style="normal" text-anchor="end" fill="#262626" textLength="13.23" lengthAdjust="spacingAndGlyphs">4</text><path d="M96.50 784.50h4.5M569.50 784.50h-4.5" stroke="#262626" stroke-width="1"/><text x="87.00" y="791.90" font-family="Liberation Sans" font-size="21.50" font-weight="normal" font-style="normal" text-anchor="end" fill="#262626" textLength="33.07" lengthAdjust="spacingAndGlyphs">4.5</text><path d="M96.50 733.50h4.5M569.50 733.50h-4.5" stroke="#262626" stroke-width="1"/><text x="87.00" y="740.90" font-family="Liberation Sans" font-size="21.50" font-weight="normal" font-style="normal" text-anchor="end" fill="#262626" textLength="13.23" lengthAdjust="spacingAndGlyphs">5</text><path d="M96.50 681.50h4.5M569.50 681.50h-4.5" stroke="#262626" stroke-width="1"/><text x="87.00" y="688.90" font-family="Liberation Sans" font-size="21.50" font-weight="normal" font-style="normal" text-anchor="end" fill="#262626" textLength="33.07" lengthAdjust="spacingAndGlyphs">5.5</text><path d="M96.50 630.50h4.5M569.50 630.50h-4.5" stroke="#262626" stroke-width="1"/><text x="87.00" y="637.90" font-family="Liberation Sans" font-size="21.50" font-weight="normal" font-style="normal" text-anchor="end" fill="#262626" textLength="13.23" lengthAdjust="spacingAndGlyphs">6</text><path d="M96.50 579.50h4.5M569.50 579.50h-4.5" stroke="#262626" stroke-width="1"/><text x="87.00" y="586.90" font-family="Liberation Sans" font-size="21.50" font-weight="normal" font-style="normal" text-anchor="end" fill="#262626" textLength="33.07" lengthAdjust="spacingAndGlyphs">6.5</text><rect x="612.50" y="539.50" width="473.00" height="326.00" fill="none" stroke="#262626" stroke-width="1"/><path d="M614.50 865.50v-4.5M614.50 539.50v4.5" stroke="#262626" stroke-width="1"/><text x="614.50" y="893.90" font-family="Liberation Sans" font-size="21.50" font-weight="normal" font-style="normal" text-anchor="middle" fill="#262626" textLength="13.23" lengthAdjust="spacingAndGlyphs">0</text><path d="M725.50 865.50v-4.5M725.50 539.50v4.5" stroke="#262626" stroke-width="1"/><text x="725.50" y="893.90" font-family="Liberation Sans" font-size="21.50" font-weight="normal" font-style="normal" text-anchor="middle" fill="#262626" textLength="26.46" lengthAdjust="spacingAndGlyphs">50</text><path d="M836.50 865.50v-4.5M836.50 539.50v4.5" stroke="#262626" stroke-width="1"/><text x="836.50" y="893.90" font-family="Liberation Sans" font-size="21.50" font-weight="normal" font-style="normal" text-anchor="middle" fill="#262626" textLength="39.69" lengthAdjust="spacingAndGlyphs">100</text><path d="M947.50 865.50v-4.5M947.50 539.50v4.5" stroke="#262626" stroke-width="1"/><text x="947.50" y="893.90" font-family="Liberation Sans" font-size="21.50" font-weight="normal" font-style="normal" text-anchor="middle" fill="#262626" textLength="39.69" lengthAdjust="spacingAndGlyphs">150</text><path d="M1059.50 865.50v-4.5M1059.50 539.50v4.5" stroke="#262626" stroke-width="1"/><text x="1059.50" y="893.90" font-family="Liberation Sans" font-size="21.50" font-weight="normal" font-style="normal" text-anchor="middle" fill="#262626" textLength="39.69" lengthAdjust="spacingAndGlyphs">200</text><path d="M612.50 835.50h4.5M1085.50 835.50h-4.5" stroke="#262626" stroke-width="1"/><text x="603.00" y="842.90" font-family="Liberation Sans" font-size="21.50" font-weight="normal" font-style="normal" text-anchor="end" fill="#262626" textLength="13.23" lengthAdjust="spacingAndGlyphs">4</text><path d="M612.50 784.50h4.5M1085.50 784.50h-4.5" stroke="#262626" stroke-width="1"/><text x="603.00" y="791.90" font-family="Liberation Sans" font-size="21.50" font-weight="normal" font-style="normal" text-anchor="end" fill="#262626" textLength="33.07" lengthAdjust="spacingAndGlyphs">4.5</text><path d="M612.50 733.50h4.5M1085.50 733.50h-4.5" stroke="#262626" stroke-width="1"/><text x="603.00" y="740.90" font-family="Liberation Sans" font-size="21.50" font-weight="normal" font-style="normal" text-anchor="end" fill="#262626" textLength="13.23" lengthAdjust="spacingAndGlyphs">5</text><path d="M612.50 681.50h4.5M1085.50 681.50h-4.5" stroke="#262626" stroke-width="1"/><text x="603.00" y="688.90" font-family="Liberation Sans" font-size="21.50" font-weight="normal" font-style="normal" text-anchor="end" fill="#262626" textLength="33.07" lengthAdjust="spacingAndGlyphs">5.5</text><path d="M612.50 630.50h4.5M1085.50 630.50h-4.5" stroke="#262626" stroke-width="1"/><text x="603.00" y="637.90" font-family="Liberation Sans" font-size="21.50" font-weight="normal" font-style="normal" text-anchor="end" fill="#262626" textLength="13.23" lengthAdjust="spacingAndGlyphs">6</text><path d="M612.50 579.50h4.5M1085.50 579.50h-4.5" stroke="#262626" stroke-width="1"/><text x="603.00" y="586.90" font-family="Liberation Sans" font-size="21.50" font-weight="normal" font-style="normal" text-anchor="end" fill="#262626" textLength="33.07" lengthAdjust="spacingAndGlyphs">6.5</text><g shape-rendering="crispEdges"><rect x="1116.50" y="852.97" width="29.00" height="13.13" fill="#3f5592"/><rect x="1116.50" y="840.44" width="29.00" height="13.13" fill="#415697"/><rect x="1116.50" y="827.91" width="29.00" height="13.13" fill="#43589c"/><rect x="1116.50" y="815.38" width="29.00" height="13.13" fill="#455ca8"/><rect x="1116.50" y="802.84" width="29.00" height="13.13" fill="#4761b4"/><rect x="1116.50" y="790.31" width="29.00" height="13.13" fill="#4966bc"/><rect x="1116.50" y="777.78" width="29.00" height="13.13" fill="#4a6bc1"/><rect x="1116.50" y="765.25" width="29.00" height="13.13" fill="#4872c1"/><rect x="1116.50" y="752.72" width="29.00" height="13.13" fill="#447cbb"/><rect x="1116.50" y="740.19" width="29.00" height="13.13" fill="#4084b3"/><rect x="1116.50" y="727.66" width="29.00" height="13.13" fill="#3c8da9"/><rect x="1116.50" y="715.12" width="29.00" height="13.13" fill="#39959d"/><rect x="1116.50" y="702.59" width="29.00" height="13.13" fill="#369d90"/><rect x="1116.50" y="690.06" width="29.00" height="13.13" fill="#37a487"/><rect x="1116.50" y="677.53" width="29.00" height="13.13" fill="#3baa80"/><rect x="1116.50" y="665.00" width="29.00" height="13.13" fill="#42b07c"/><rect x="1116.50" y="652.47" width="29.00" height="13.13" fill="#4bb47a"/><rect x="1116.50" y="639.94" width="29.00" height="13.13" fill="#57ba7a"/><rect x="1116.50" y="627.41" width="29.00" height="13.13" fill="#63be7c"/><rect x="1116.50" y="614.88" width="29.00" height="13.13" fill="#70c480"/><rect x="1116.50" y="602.34" width="29.00" height="13.13" fill="#7cc884"/><rect x="1116.50" y="589.81" width="29.00" height="13.13" fill="#8ace8a"/><rect x="1116.50" y="577.28" width="29.00" height="13.13" fill="#99d48f"/><rect x="1116.50" y="564.75" width="29.00" height="13.13" fill="#a7da95"/><rect x="1116.50" y="552.22" width="29.00" height="13.13" fill="#b4df9a"/><rect x="1116.50" y="539.69" width="29.00" height="13.13" fill="#c1e5a0"/><rect x="1116.50" y="527.16" width="29.00" height="13.13" fill="#c6e6a2"/><rect x="1116.50" y="514.62" width="29.00" height="13.13" fill="#cbe5a8"/><rect x="1116.50" y="502.09" width="29.00" height="13.13" fill="#cfe1b4"/><rect x="1116.50" y="489.56" width="29.00" height="13.13" fill="#d3debe"/><rect x="1116.50" y="477.03" width="29.00" height="13.13" fill="#d6dcc7"/><rect x="1116.50" y="464.50" width="29.00" height="13.13" fill="#d5d6d0"/><rect x="1116.50" y="451.97" width="29.00" height="13.13" fill="#d5d5d2"/><rect x="1116.50" y="439.44" width="29.00" height="13.13" fill="#d8d8cc"/><rect x="1116.50" y="426.91" width="29.00" height="13.13" fill="#dadac5"/><rect x="1116.50" y="414.38" width="29.00" height="13.13" fill="#ddddbd"/><rect x="1116.50" y="401.84" width="29.00" height="13.13" fill="#dfdfb3"/><rect x="1116.50" y="389.31" width="29.00" height="13.13" fill="#e1e0a6"/><rect x="1116.50" y="376.78" width="29.00" height="13.13" fill="#e2e096"/><rect x="1116.50" y="364.25" width="29.00" height="13.13" fill="#e5e07c"/><rect x="1116.50" y="351.72" width="29.00" height="13.13" fill="#e7df64"/><rect x="1116.50" y="339.19" width="29.00" height="13.13" fill="#ebdc0e"/><rect x="1116.50" y="326.66" width="29.00" height="13.13" fill="#eed500"/><rect x="1116.50" y="314.12" width="29.00" height="13.13" fill="#f1cd00"/><rect x="1116.50" y="301.59" width="29.00" height="13.13" fill="#f3c300"/><rect x="1116.50" y="289.06" width="29.00" height="13.13" fill="#f6b900"/><rect x="1116.50" y="276.53" width="29.00" height="13.13" fill="#f8af00"/><rect x="1116.50" y="264.00" width="29.00" height="13.13" fill="#fda500"/><rect x="1116.50" y="251.47" width="29.00" height="13.13" fill="#ff9b00"/><rect x="1116.50" y="238.94" width="29.00" height="13.13" fill="#ff9100"/><rect x="1116.50" y="226.41" width="29.00" height="13.13" fill="#ff8900"/><rect x="1116.50" y="213.88" width="29.00" height="13.13" fill="#ff8000"/><rect x="1116.50" y="201.34" width="29.00" height="13.13" fill="#ff7400"/><rect x="1116.50" y="188.81" width="29.00" height="13.13" fill="#fd6700"/><rect x="1116.50" y="176.28" width="29.00" height="13.13" fill="#f95b00"/><rect x="1116.50" y="163.75" width="29.00" height="13.13" fill="#f34e00"/><rect x="1116.50" y="151.22" width="29.00" height="13.13" fill="#ec4200"/><rect x="1116.50" y="138.69" width="29.00" height="13.13" fill="#e53500"/><rect x="1116.50" y="126.16" width="29.00" height="13.13" fill="#dd1700"/><rect x="1116.50" y="113.62" width="29.00" height="13.13" fill="#d50001"/><rect x="1116.50" y="101.09" width="29.00" height="13.13" fill="#cb0007"/><rect x="1116.50" y="88.56" width="29.00" height="13.13" fill="#c1000f"/><rect x="1116.50" y="76.03" width="29.00" height="13.13" fill="#b70019"/><rect x="1116.50" y="63.50" width="29.00" height="13.13" fill="#ab0022"/></g><rect x="1116.50" y="63.50" width="29.00" height="802.00" fill="none" stroke="#262626" stroke-width="1"/><text x="1154.50" y="70.10" font-family="Liberation Sans" font-size="19.00" font-weight="normal" font-style="normal" text-anchor="start" fill="#262626" textLength="29.10" lengthAdjust="spacingAndGlyphs">0.1</text><path d="M1145.50 143.50h-8" stroke="#262626" stroke-width="1.1"/><text x="1154.50" y="150.10" font-family="Liberation Sans" font-size="19.00" font-weight="normal" font-style="normal" text-anchor="start" fill="#262626" textLength="40.74" lengthAdjust="spacingAndGlyphs">0.08</text><path d="M1145.50 223.50h-8" stroke="#262626" stroke-width="1.1"/><text x="1154.50" y="230.10" font-family="Liberation Sans" font-size="19.00" font-weight="normal" font-style="normal" text-anchor="start" fill="#262626" textLength="40.74" lengthAdjust="spacingAndGlyphs">0.06</text><path d="M1145.50 304.50h-8" stroke="#262626" stroke-width="1.1"/><text x="1154.50" y="311.10" font-family="Liberation Sans" font-size="19.00" font-weight="normal" font-style="normal" text-anchor="start" fill="#262626" textLength="40.74" lengthAdjust="spacingAndGlyphs">0.04</text><path d="M1145.50 384.50h-8" stroke="#262626" stroke-width="1.1"/><text x="1154.50" y="391.10" font-family="Liberation Sans" font-size="19.00" font-weight="normal" font-style="normal" text-anchor="start" fill="#262626" textLength="40.74" lengthAdjust="spacingAndGlyphs">0.02</text><path d="M1145.50 464.50h-8" stroke="#262626" stroke-width="1.1"/><text x="1154.50" y="471.10" font-family="Liberation Sans" font-size="19.00" font-weight="normal" font-style="normal" text-anchor="start" fill="#262626" textLength="11.64" lengthAdjust="spacingAndGlyphs">0</text><path d="M1145.50 544.50h-8" stroke="#262626" stroke-width="1.1"/><text x="1154.50" y="551.10" font-family="Liberation Sans" font-size="19.00" font-weight="normal" font-style="normal" text-anchor="start" fill="#262626" textLength="56.07" lengthAdjust="spacingAndGlyphs">-0.02</text><path d="M1145.50 624.50h-8" stroke="#262626" stroke-width="1.1"/><text x="1154.50" y="631.10" font-family="Liberation Sans" font-size="19.00" font-weight="normal" font-style="normal" text-anchor="start" fill="#262626" textLength="56.07" lengthAdjust="spacingAndGlyphs">-0.04</text><path d="M1145.50 705.50h-8" stroke="#262626" stroke-width="1.1"/><text x="1154.50" y="712.10" font-family="Liberation Sans" font-size="19.00" font-weight="normal" font-style="normal" text-anchor="start" fill="#262626" textLength="56.07" lengthAdjust="spacingAndGlyphs">-0.06</text><path d="M1145.50 785.50h-8" stroke="#262626" stroke-width="1.1"/><text x="1154.50" y="792.10" font-family="Liberation Sans" font-size="19.00" font-weight="normal" font-style="normal" text-anchor="start" fill="#262626" textLength="56.07" lengthAdjust="spacingAndGlyphs">-0.08</text><text x="1154.50" y="872.10" font-family="Liberation Sans" font-size="19.00" font-weight="normal" font-style="normal" text-anchor="start" fill="#262626" textLength="44.43" lengthAdjust="spacingAndGlyphs">-0.1</text><text x="99.50" y="56.70" font-family="Liberation Sans" font-size="22.50" font-weight="bold" font-style="normal" text-anchor="start" fill="#000" textLength="269.50" lengthAdjust="spacingAndGlyphs">MIMOC anomalies on</text><text x="378.40" y="56.90" font-family="Liberation Serif" font-size="25.50" font-weight="normal" font-style="italic" text-anchor="start" fill="#000">&#952;</text><text x="408.50" y="56.70" font-family="Liberation Sans" font-size="22.50" font-weight="bold" font-style="normal" text-anchor="start" fill="#000" textLength="155.25" lengthAdjust="spacingAndGlyphs">for 4901204</text><text x="80.60" y="529.80" font-family="Liberation Sans" font-size="22.50" font-weight="bold" font-style="normal" text-anchor="start" fill="#000" textLength="314.90" lengthAdjust="spacingAndGlyphs">CARS NEW anomalies on</text><text x="405.30" y="530.00" font-family="Liberation Serif" font-size="25.50" font-weight="normal" font-style="italic" text-anchor="start" fill="#000">&#952;</text><text x="428.00" y="529.80" font-family="Liberation Sans" font-size="22.50" font-weight="bold" font-style="normal" text-anchor="start" fill="#000" textLength="154.00" lengthAdjust="spacingAndGlyphs">for 4901204</text><text x="590.00" y="529.80" font-family="Liberation Sans" font-size="22.50" font-weight="bold" font-style="normal" text-anchor="start" fill="#000" textLength="485.80" lengthAdjust="spacingAndGlyphs">Anomalies from all profile average on</text><text x="1086.00" y="530.00" font-family="Liberation Serif" font-size="25.50" font-weight="normal" font-style="italic" text-anchor="start" fill="#000">&#952;</text><text x="333.00" y="450.80" font-family="Liberation Sans" font-size="22.70" font-weight="normal" font-style="normal" text-anchor="middle" fill="#262626" textLength="172.00" lengthAdjust="spacingAndGlyphs">Profile Number</text><text x="849.00" y="923.50" font-family="Liberation Sans" font-size="22.70" font-weight="normal" font-style="normal" text-anchor="middle" fill="#262626" textLength="172.00" lengthAdjust="spacingAndGlyphs">Profile Number</text><text x="333.00" y="923.50" font-family="Liberation Sans" font-size="22.70" font-weight="normal" font-style="normal" text-anchor="middle" fill="#262626" textLength="172.00" lengthAdjust="spacingAndGlyphs">Profile Number</text><g transform="translate(41 230.50) rotate(-90)"><text x="-23.5" y="0" font-family="Liberation Serif" font-style="italic" font-size="23.5" fill="#262626">&#952;</text><text x="-3.9" y="-11" font-family="Liberation Sans" font-size="18.5" fill="#262626">o</text><text x="7.7" y="0" font-family="Liberation Sans" font-size="23" fill="#262626">C</text></g><g transform="translate(41 703.50) rotate(-90)"><text x="-23.5" y="0" font-family="Liberation Serif" font-style="italic" font-size="23.5" fill="#262626">&#952;</text><text x="-3.9" y="-11" font-family="Liberation Sans" font-size="18.5" fill="#262626">o</text><text x="7.7" y="0" font-family="Liberation Sans" font-size="23" fill="#262626">C</text></g><g transform="translate(557 701.5) rotate(-90)"><text x="-23.5" y="0" font-family="Liberation Serif" font-style="italic" font-size="23.5" fill="#262626">&#952;</text><text x="-3.9" y="-11" font-family="Liberation Sans" font-size="18.5" fill="#262626">o</text><text x="7.7" y="0" font-family="Liberation Sans" font-size="23" fill="#262626">C</text></g><path d="M100.50 976.50V1448.50M183.50 976.50V1448.50M267.50 976.50V1448.50M350.50 976.50V1448.50M433.50 976.50V1448.50M517.50 976.50V1448.50M600.50 976.50V1448.50M683.50 976.50V1448.50M767.50 976.50V1448.50M850.50 976.50V1448.50M933.50 976.50V1448.50M96.50 1393.50H983.50M96.50 1333.50H983.50M96.50 1274.50H983.50M96.50 1214.50H983.50M96.50 1155.50H983.50M96.50 1095.50H983.50M96.50 1035.50H983.50M96.50 976.50H983.50" stroke="#dedede" stroke-width="1" fill="none"/><defs><clipPath id="bclip"><rect x="96.50" y="976.50" width="887.00" height="472.00"/></clipPath></defs><g clip-path="url(#bclip)"><polyline points="99.7,1068.9 104.3,1054.3 108.4,1039.7 112.5,1048.2 116.6,1074.7 121.0,1102.2 125.1,1122.6 129.2,1143.1 133.2,1148.9 137.3,1154.7 141.4,1162.0 145.8,1167.9 150.2,1175.2 154.3,1176.6 158.4,1175.2 162.4,1172.3 166.5,1160.6 170.9,1148.9 175.0,1140.1 179.1,1140.1 183.2,1144.5 187.6,1157.7 191.6,1181.0 196.0,1201.5 200.1,1220.4 204.2,1226.3 208.3,1224.8 212.4,1227.2 216.5,1223.4 221.1,1226.3 225.2,1232.7 229.3,1231.5 233.4,1214.6 237.5,1188.3 241.6,1163.5 245.9,1151.8 250.0,1143.1 254.1,1135.8 258.2,1129.9 262.3,1124.1 266.4,1120.3 311.4,1161.2 316.0,1164.1 320.4,1165.8 325.4,1164.1 329.5,1167.3 333.5,1170.2 337.6,1169.9 341.7,1168.5 346.1,1158.2 416.8,1085.7 429.2,1094.3 433.8,1102.5 438.5,1106.0 442.0,1109.5 445.5,1111.8 449.5,1113.0 453.7,1114.2 458.3,1115.3 463.0,1116.5 467.7,1118.8 471.2,1125.8 475.1,1134.0 479.3,1150.3 483.5,1166.7 487.5,1182.5 492.2,1178.3 496.1,1174.8 500.3,1180.7 504.5,1183.5 508.5,1173.7 513.2,1168.5 517.1,1164.3 520.9,1150.3 525.3,1142.2 529.5,1143.3 533.5,1144.0 537.7,1147.5 541.9,1152.2 546.5,1158.5 550.5,1164.3 554.5,1163.2 558.7,1159.7 562.9,1139.8 566.8,1118.8 570.8,1114.2 575.0,1111.1 586.7,1100.2 591.3,1099.7 596.0,1103.7 600.2,1111.8 604.2,1122.3 608.1,1128.2 612.3,1131.2 616.5,1135.2 621.2,1137.5 625.2,1134.5 630.0,1117.7 639.3,1108.3 645.2,1106.0 653.3,1104.8 658.0,1116.5 662.7,1127.0 667.3,1131.7 672.0,1131.2 676.7,1127.0 681.3,1124.2 687.2,1112.5 690.7,1108.3 696.0,1113.0 700.0,1117.7 704.7,1119.5 709.3,1118.8 714.0,1117.7 719.8,1120.0 725.7,1124.7 729.2,1129.3 733.8,1135.2 738.5,1134.0 743.2,1131.7 746.7,1131.7 751.3,1132.8 756.0,1135.2 760.7,1138.7 765.3,1141.0 770.0,1137.5 774.7,1131.7 779.3,1130.5 784.0,1131.2 788.7,1132.1 793.3,1132.1 798.0,1131.7 802.7,1130.5 807.3,1125.8 812.0,1123.5 816.7,1122.3 821.3,1122.3 826.0,1123.5 830.7,1124.7 835.3,1125.8 840.0,1128.8 847.5,1130.0 852.5,1127.5 857.5,1125.0 862.5,1120.0 866.9,1115.6 871.2,1113.8 875.6,1115.0 880.0,1118.1 883.8,1125.6 886.9,1132.5 890.0,1137.5 895.0,1136.9 900.0,1131.2 904.4,1125.6 908.8,1122.5 912.5,1123.1 917.5,1123.1 921.2,1123.8 925.6,1126.9 929.4,1128.8 933.8,1131.9 938.1,1135.0 941.9,1138.1 946.2,1144.4 950.6,1147.5 955.0,1152.5 958.8,1160.0 963.1,1167.5 967.5,1163.1 971.9,1152.5 975.6,1143.1 979.4,1135.0" fill="none" stroke="#ff00ff" stroke-width="1.2"/><polyline points="99.7,1052.0 104.3,1043.2 108.4,1024.8 112.5,1019.9 116.6,1045.3 121.0,1086.1 125.1,1116.8 129.2,1137.2 133.2,1140.1 137.3,1148.9 141.4,1160.6 145.8,1175.2 150.2,1192.7 154.3,1198.5 158.4,1196.2 162.4,1189.2 166.5,1167.9 170.9,1151.8 175.0,1141.6 179.1,1141.6 183.2,1148.9 187.6,1168.8 191.6,1202.9 196.0,1238.8 200.1,1267.2 204.2,1274.5 208.3,1273.0 212.4,1273.0 216.5,1267.2 221.1,1268.6 225.2,1274.5 229.3,1272.1 233.4,1255.5 237.5,1215.5 241.6,1176.6 245.9,1157.1 250.0,1141.6 254.1,1126.1 258.2,1112.4 262.3,1103.6 266.4,1101.3 311.4,1168.5 316.0,1169.9 320.4,1171.4 325.4,1168.5 329.5,1174.3 333.5,1182.5 337.6,1184.5 341.7,1181.6 346.1,1162.0 416.8,1092.0 429.2,1091.5 433.8,1092.0 438.5,1093.2 442.0,1094.8 446.7,1096.7 450.9,1097.8 454.8,1099.0 458.3,1099.7 463.0,1101.3 467.7,1105.3 471.2,1109.5 475.1,1123.5 479.3,1149.2 483.5,1171.3 487.5,1208.2 492.2,1198.9 496.1,1193.0 500.3,1210.5 504.5,1214.7 508.5,1195.8 513.2,1189.3 517.1,1182.5 520.9,1156.2 525.3,1138.7 529.5,1134.5 533.5,1136.3 537.7,1144.5 541.9,1152.2 546.5,1163.2 550.5,1174.1 554.5,1169.0 558.7,1164.3 562.9,1134.0 566.8,1118.1 570.8,1112.5 575.0,1118.8 586.7,1117.2 591.8,1115.8 596.0,1111.1 600.2,1110.2 604.2,1117.2 608.1,1125.8 612.3,1132.1 616.5,1136.3 621.2,1139.8 625.2,1134.0 630.0,1117.7 634.7,1116.5 639.3,1111.8 645.2,1109.5 648.7,1108.3 653.3,1105.3 658.0,1106.0 663.8,1113.0 668.5,1118.8 673.2,1117.7 676.7,1115.3 681.3,1112.5 687.2,1105.5 691.8,1102.5 696.5,1106.0 701.2,1109.5 705.8,1113.0 711.7,1116.5 717.5,1130.5 722.2,1139.8 728.0,1148.0 733.8,1159.7 738.5,1158.5 743.2,1156.2 747.8,1155.0 752.5,1157.3 757.2,1162.0 761.8,1166.0 766.5,1164.3 771.2,1160.8 775.8,1157.3 780.5,1156.2 785.2,1157.3 789.8,1158.5 795.7,1156.2 802.7,1155.0 808.5,1150.3 813.2,1145.7 817.8,1145.7 823.7,1148.0 828.3,1149.9 835.3,1149.9 840.0,1151.2 845.0,1153.1 850.6,1157.5 854.4,1155.6 858.8,1151.2 863.1,1146.2 866.9,1143.5 871.2,1140.6 876.2,1141.2 880.0,1145.0 883.8,1150.6 888.1,1161.2 892.5,1164.4 896.2,1160.0 900.0,1155.0 904.4,1141.2 908.5,1134.8 913.1,1136.2 917.5,1138.8 921.9,1140.6 926.2,1145.0 930.0,1148.8 933.8,1152.5 938.1,1155.6 942.5,1163.1 946.2,1170.0 950.6,1176.2 955.0,1187.5 958.8,1201.9 963.1,1215.6 967.2,1207.5 971.2,1185.6 975.6,1170.0 979.8,1161.9" fill="none" stroke="#00ff00" stroke-width="1.2"/><g fill="#ff00ff"><circle cx="99.7" cy="1068.9" r="2.2"/><circle cx="104.3" cy="1054.3" r="2.2"/><circle cx="108.4" cy="1039.7" r="2.2"/><circle cx="112.5" cy="1048.2" r="2.2"/><circle cx="116.6" cy="1074.7" r="2.2"/><circle cx="121.0" cy="1102.2" r="2.2"/><circle cx="125.1" cy="1122.6" r="2.2"/><circle cx="129.2" cy="1143.1" r="2.2"/><circle cx="133.2" cy="1148.9" r="2.2"/><circle cx="137.3" cy="1154.7" r="2.2"/><circle cx="141.4" cy="1162.0" r="2.2"/><circle cx="145.8" cy="1167.9" r="2.2"/><circle cx="150.2" cy="1175.2" r="2.2"/><circle cx="154.3" cy="1176.6" r="2.2"/><circle cx="158.4" cy="1175.2" r="2.2"/><circle cx="162.4" cy="1172.3" r="2.2"/><circle cx="166.5" cy="1160.6" r="2.2"/><circle cx="170.9" cy="1148.9" r="2.2"/><circle cx="175.0" cy="1140.1" r="2.2"/><circle cx="179.1" cy="1140.1" r="2.2"/><circle cx="183.2" cy="1144.5" r="2.2"/><circle cx="187.6" cy="1157.7" r="2.2"/><circle cx="191.6" cy="1181.0" r="2.2"/><circle cx="196.0" cy="1201.5" r="2.2"/><circle cx="200.1" cy="1220.4" r="2.2"/><circle cx="204.2" cy="1226.3" r="2.2"/><circle cx="208.3" cy="1224.8" r="2.2"/><circle cx="212.4" cy="1227.2" r="2.2"/><circle cx="216.5" cy="1223.4" r="2.2"/><circle cx="221.1" cy="1226.3" r="2.2"/><circle cx="225.2" cy="1232.7" r="2.2"/><circle cx="229.3" cy="1231.5" r="2.2"/><circle cx="233.4" cy="1214.6" r="2.2"/><circle cx="237.5" cy="1188.3" r="2.2"/><circle cx="241.6" cy="1163.5" r="2.2"/><circle cx="245.9" cy="1151.8" r="2.2"/><circle cx="250.0" cy="1143.1" r="2.2"/><circle cx="254.1" cy="1135.8" r="2.2"/><circle cx="258.2" cy="1129.9" r="2.2"/><circle cx="262.3" cy="1124.1" r="2.2"/><circle cx="266.4" cy="1120.3" r="2.2"/><circle cx="311.4" cy="1161.2" r="2.2"/><circle cx="316.0" cy="1164.1" r="2.2"/><circle cx="320.4" cy="1165.8" r="2.2"/><circle cx="325.4" cy="1164.1" r="2.2"/><circle cx="329.5" cy="1167.3" r="2.2"/><circle cx="333.5" cy="1170.2" r="2.2"/><circle cx="337.6" cy="1169.9" r="2.2"/><circle cx="341.7" cy="1168.5" r="2.2"/><circle cx="346.1" cy="1158.2" r="2.2"/><circle cx="416.8" cy="1085.7" r="2.2"/><circle cx="429.2" cy="1094.3" r="2.2"/><circle cx="433.8" cy="1102.5" r="2.2"/><circle cx="438.5" cy="1106.0" r="2.2"/><circle cx="442.0" cy="1109.5" r="2.2"/><circle cx="445.5" cy="1111.8" r="2.2"/><circle cx="449.5" cy="1113.0" r="2.2"/><circle cx="453.7" cy="1114.2" r="2.2"/><circle cx="458.3" cy="1115.3" r="2.2"/><circle cx="463.0" cy="1116.5" r="2.2"/><circle cx="467.7" cy="1118.8" r="2.2"/><circle cx="471.2" cy="1125.8" r="2.2"/><circle cx="475.1" cy="1134.0" r="2.2"/><circle cx="479.3" cy="1150.3" r="2.2"/><circle cx="483.5" cy="1166.7" r="2.2"/><circle cx="487.5" cy="1182.5" r="2.2"/><circle cx="492.2" cy="1178.3" r="2.2"/><circle cx="496.1" cy="1174.8" r="2.2"/><circle cx="500.3" cy="1180.7" r="2.2"/><circle cx="504.5" cy="1183.5" r="2.2"/><circle cx="508.5" cy="1173.7" r="2.2"/><circle cx="513.2" cy="1168.5" r="2.2"/><circle cx="517.1" cy="1164.3" r="2.2"/><circle cx="520.9" cy="1150.3" r="2.2"/><circle cx="525.3" cy="1142.2" r="2.2"/><circle cx="529.5" cy="1143.3" r="2.2"/><circle cx="533.5" cy="1144.0" r="2.2"/><circle cx="537.7" cy="1147.5" r="2.2"/><circle cx="541.9" cy="1152.2" r="2.2"/><circle cx="546.5" cy="1158.5" r="2.2"/><circle cx="550.5" cy="1164.3" r="2.2"/><circle cx="554.5" cy="1163.2" r="2.2"/><circle cx="558.7" cy="1159.7" r="2.2"/><circle cx="562.9" cy="1139.8" r="2.2"/><circle cx="566.8" cy="1118.8" r="2.2"/><circle cx="570.8" cy="1114.2" r="2.2"/><circle cx="575.0" cy="1111.1" r="2.2"/><circle cx="586.7" cy="1100.2" r="2.2"/><circle cx="591.3" cy="1099.7" r="2.2"/><circle cx="596.0" cy="1103.7" r="2.2"/><circle cx="600.2" cy="1111.8" r="2.2"/><circle cx="604.2" cy="1122.3" r="2.2"/><circle cx="608.1" cy="1128.2" r="2.2"/><circle cx="612.3" cy="1131.2" r="2.2"/><circle cx="616.5" cy="1135.2" r="2.2"/><circle cx="621.2" cy="1137.5" r="2.2"/><circle cx="625.2" cy="1134.5" r="2.2"/><circle cx="630.0" cy="1117.7" r="2.2"/><circle cx="639.3" cy="1108.3" r="2.2"/><circle cx="645.2" cy="1106.0" r="2.2"/><circle cx="653.3" cy="1104.8" r="2.2"/><circle cx="658.0" cy="1116.5" r="2.2"/><circle cx="662.7" cy="1127.0" r="2.2"/><circle cx="667.3" cy="1131.7" r="2.2"/><circle cx="672.0" cy="1131.2" r="2.2"/><circle cx="676.7" cy="1127.0" r="2.2"/><circle cx="681.3" cy="1124.2" r="2.2"/><circle cx="687.2" cy="1112.5" r="2.2"/><circle cx="690.7" cy="1108.3" r="2.2"/><circle cx="696.0" cy="1113.0" r="2.2"/><circle cx="700.0" cy="1117.7" r="2.2"/><circle cx="704.7" cy="1119.5" r="2.2"/><circle cx="709.3" cy="1118.8" r="2.2"/><circle cx="714.0" cy="1117.7" r="2.2"/><circle cx="719.8" cy="1120.0" r="2.2"/><circle cx="725.7" cy="1124.7" r="2.2"/><circle cx="729.2" cy="1129.3" r="2.2"/><circle cx="733.8" cy="1135.2" r="2.2"/><circle cx="738.5" cy="1134.0" r="2.2"/><circle cx="743.2" cy="1131.7" r="2.2"/><circle cx="746.7" cy="1131.7" r="2.2"/><circle cx="751.3" cy="1132.8" r="2.2"/><circle cx="756.0" cy="1135.2" r="2.2"/><circle cx="760.7" cy="1138.7" r="2.2"/><circle cx="765.3" cy="1141.0" r="2.2"/><circle cx="770.0" cy="1137.5" r="2.2"/><circle cx="774.7" cy="1131.7" r="2.2"/><circle cx="779.3" cy="1130.5" r="2.2"/><circle cx="784.0" cy="1131.2" r="2.2"/><circle cx="788.7" cy="1132.1" r="2.2"/><circle cx="793.3" cy="1132.1" r="2.2"/><circle cx="798.0" cy="1131.7" r="2.2"/><circle cx="802.7" cy="1130.5" r="2.2"/><circle cx="807.3" cy="1125.8" r="2.2"/><circle cx="812.0" cy="1123.5" r="2.2"/><circle cx="816.7" cy="1122.3" r="2.2"/><circle cx="821.3" cy="1122.3" r="2.2"/><circle cx="826.0" cy="1123.5" r="2.2"/><circle cx="830.7" cy="1124.7" r="2.2"/><circle cx="835.3" cy="1125.8" r="2.2"/><circle cx="840.0" cy="1128.8" r="2.2"/><circle cx="847.5" cy="1130.0" r="2.2"/><circle cx="852.5" cy="1127.5" r="2.2"/><circle cx="857.5" cy="1125.0" r="2.2"/><circle cx="862.5" cy="1120.0" r="2.2"/><circle cx="866.9" cy="1115.6" r="2.2"/><circle cx="871.2" cy="1113.8" r="2.2"/><circle cx="875.6" cy="1115.0" r="2.2"/><circle cx="880.0" cy="1118.1" r="2.2"/><circle cx="883.8" cy="1125.6" r="2.2"/><circle cx="886.9" cy="1132.5" r="2.2"/><circle cx="890.0" cy="1137.5" r="2.2"/><circle cx="895.0" cy="1136.9" r="2.2"/><circle cx="900.0" cy="1131.2" r="2.2"/><circle cx="904.4" cy="1125.6" r="2.2"/><circle cx="908.8" cy="1122.5" r="2.2"/><circle cx="912.5" cy="1123.1" r="2.2"/><circle cx="917.5" cy="1123.1" r="2.2"/><circle cx="921.2" cy="1123.8" r="2.2"/><circle cx="925.6" cy="1126.9" r="2.2"/><circle cx="929.4" cy="1128.8" r="2.2"/><circle cx="933.8" cy="1131.9" r="2.2"/><circle cx="938.1" cy="1135.0" r="2.2"/><circle cx="941.9" cy="1138.1" r="2.2"/><circle cx="946.2" cy="1144.4" r="2.2"/><circle cx="950.6" cy="1147.5" r="2.2"/><circle cx="955.0" cy="1152.5" r="2.2"/><circle cx="958.8" cy="1160.0" r="2.2"/><circle cx="963.1" cy="1167.5" r="2.2"/><circle cx="967.5" cy="1163.1" r="2.2"/><circle cx="971.9" cy="1152.5" r="2.2"/><circle cx="975.6" cy="1143.1" r="2.2"/><circle cx="979.4" cy="1135.0" r="2.2"/></g><g fill="#00ff00"><circle cx="99.7" cy="1052.0" r="2.2"/><circle cx="104.3" cy="1043.2" r="2.2"/><circle cx="108.4" cy="1024.8" r="2.2"/><circle cx="112.5" cy="1019.9" r="2.2"/><circle cx="116.6" cy="1045.3" r="2.2"/><circle cx="121.0" cy="1086.1" r="2.2"/><circle cx="125.1" cy="1116.8" r="2.2"/><circle cx="129.2" cy="1137.2" r="2.2"/><circle cx="133.2" cy="1140.1" r="2.2"/><circle cx="137.3" cy="1148.9" r="2.2"/><circle cx="141.4" cy="1160.6" r="2.2"/><circle cx="145.8" cy="1175.2" r="2.2"/><circle cx="150.2" cy="1192.7" r="2.2"/><circle cx="154.3" cy="1198.5" r="2.2"/><circle cx="158.4" cy="1196.2" r="2.2"/><circle cx="162.4" cy="1189.2" r="2.2"/><circle cx="166.5" cy="1167.9" r="2.2"/><circle cx="170.9" cy="1151.8" r="2.2"/><circle cx="175.0" cy="1141.6" r="2.2"/><circle cx="179.1" cy="1141.6" r="2.2"/><circle cx="183.2" cy="1148.9" r="2.2"/><circle cx="187.6" cy="1168.8" r="2.2"/><circle cx="191.6" cy="1202.9" r="2.2"/><circle cx="196.0" cy="1238.8" r="2.2"/><circle cx="200.1" cy="1267.2" r="2.2"/><circle cx="204.2" cy="1274.5" r="2.2"/><circle cx="208.3" cy="1273.0" r="2.2"/><circle cx="212.4" cy="1273.0" r="2.2"/><circle cx="216.5" cy="1267.2" r="2.2"/><circle cx="221.1" cy="1268.6" r="2.2"/><circle cx="225.2" cy="1274.5" r="2.2"/><circle cx="229.3" cy="1272.1" r="2.2"/><circle cx="233.4" cy="1255.5" r="2.2"/><circle cx="237.5" cy="1215.5" r="2.2"/><circle cx="241.6" cy="1176.6" r="2.2"/><circle cx="245.9" cy="1157.1" r="2.2"/><circle cx="250.0" cy="1141.6" r="2.2"/><circle cx="254.1" cy="1126.1" r="2.2"/><circle cx="258.2" cy="1112.4" r="2.2"/><circle cx="262.3" cy="1103.6" r="2.2"/><circle cx="266.4" cy="1101.3" r="2.2"/><circle cx="311.4" cy="1168.5" r="2.2"/><circle cx="316.0" cy="1169.9" r="2.2"/><circle cx="320.4" cy="1171.4" r="2.2"/><circle cx="325.4" cy="1168.5" r="2.2"/><circle cx="329.5" cy="1174.3" r="2.2"/><circle cx="333.5" cy="1182.5" r="2.2"/><circle cx="337.6" cy="1184.5" r="2.2"/><circle cx="341.7" cy="1181.6" r="2.2"/><circle cx="346.1" cy="1162.0" r="2.2"/><circle cx="416.8" cy="1092.0" r="2.2"/><circle cx="429.2" cy="1091.5" r="2.2"/><circle cx="433.8" cy="1092.0" r="2.2"/><circle cx="438.5" cy="1093.2" r="2.2"/><circle cx="442.0" cy="1094.8" r="2.2"/><circle cx="446.7" cy="1096.7" r="2.2"/><circle cx="450.9" cy="1097.8" r="2.2"/><circle cx="454.8" cy="1099.0" r="2.2"/><circle cx="458.3" cy="1099.7" r="2.2"/><circle cx="463.0" cy="1101.3" r="2.2"/><circle cx="467.7" cy="1105.3" r="2.2"/><circle cx="471.2" cy="1109.5" r="2.2"/><circle cx="475.1" cy="1123.5" r="2.2"/><circle cx="479.3" cy="1149.2" r="2.2"/><circle cx="483.5" cy="1171.3" r="2.2"/><circle cx="487.5" cy="1208.2" r="2.2"/><circle cx="492.2" cy="1198.9" r="2.2"/><circle cx="496.1" cy="1193.0" r="2.2"/><circle cx="500.3" cy="1210.5" r="2.2"/><circle cx="504.5" cy="1214.7" r="2.2"/><circle cx="508.5" cy="1195.8" r="2.2"/><circle cx="513.2" cy="1189.3" r="2.2"/><circle cx="517.1" cy="1182.5" r="2.2"/><circle cx="520.9" cy="1156.2" r="2.2"/><circle cx="525.3" cy="1138.7" r="2.2"/><circle cx="529.5" cy="1134.5" r="2.2"/><circle cx="533.5" cy="1136.3" r="2.2"/><circle cx="537.7" cy="1144.5" r="2.2"/><circle cx="541.9" cy="1152.2" r="2.2"/><circle cx="546.5" cy="1163.2" r="2.2"/><circle cx="550.5" cy="1174.1" r="2.2"/><circle cx="554.5" cy="1169.0" r="2.2"/><circle cx="558.7" cy="1164.3" r="2.2"/><circle cx="562.9" cy="1134.0" r="2.2"/><circle cx="566.8" cy="1118.1" r="2.2"/><circle cx="570.8" cy="1112.5" r="2.2"/><circle cx="575.0" cy="1118.8" r="2.2"/><circle cx="586.7" cy="1117.2" r="2.2"/><circle cx="591.8" cy="1115.8" r="2.2"/><circle cx="596.0" cy="1111.1" r="2.2"/><circle cx="600.2" cy="1110.2" r="2.2"/><circle cx="604.2" cy="1117.2" r="2.2"/><circle cx="608.1" cy="1125.8" r="2.2"/><circle cx="612.3" cy="1132.1" r="2.2"/><circle cx="616.5" cy="1136.3" r="2.2"/><circle cx="621.2" cy="1139.8" r="2.2"/><circle cx="625.2" cy="1134.0" r="2.2"/><circle cx="630.0" cy="1117.7" r="2.2"/><circle cx="634.7" cy="1116.5" r="2.2"/><circle cx="639.3" cy="1111.8" r="2.2"/><circle cx="645.2" cy="1109.5" r="2.2"/><circle cx="648.7" cy="1108.3" r="2.2"/><circle cx="653.3" cy="1105.3" r="2.2"/><circle cx="658.0" cy="1106.0" r="2.2"/><circle cx="663.8" cy="1113.0" r="2.2"/><circle cx="668.5" cy="1118.8" r="2.2"/><circle cx="673.2" cy="1117.7" r="2.2"/><circle cx="676.7" cy="1115.3" r="2.2"/><circle cx="681.3" cy="1112.5" r="2.2"/><circle cx="687.2" cy="1105.5" r="2.2"/><circle cx="691.8" cy="1102.5" r="2.2"/><circle cx="696.5" cy="1106.0" r="2.2"/><circle cx="701.2" cy="1109.5" r="2.2"/><circle cx="705.8" cy="1113.0" r="2.2"/><circle cx="711.7" cy="1116.5" r="2.2"/><circle cx="717.5" cy="1130.5" r="2.2"/><circle cx="722.2" cy="1139.8" r="2.2"/><circle cx="728.0" cy="1148.0" r="2.2"/><circle cx="733.8" cy="1159.7" r="2.2"/><circle cx="738.5" cy="1158.5" r="2.2"/><circle cx="743.2" cy="1156.2" r="2.2"/><circle cx="747.8" cy="1155.0" r="2.2"/><circle cx="752.5" cy="1157.3" r="2.2"/><circle cx="757.2" cy="1162.0" r="2.2"/><circle cx="761.8" cy="1166.0" r="2.2"/><circle cx="766.5" cy="1164.3" r="2.2"/><circle cx="771.2" cy="1160.8" r="2.2"/><circle cx="775.8" cy="1157.3" r="2.2"/><circle cx="780.5" cy="1156.2" r="2.2"/><circle cx="785.2" cy="1157.3" r="2.2"/><circle cx="789.8" cy="1158.5" r="2.2"/><circle cx="795.7" cy="1156.2" r="2.2"/><circle cx="802.7" cy="1155.0" r="2.2"/><circle cx="808.5" cy="1150.3" r="2.2"/><circle cx="813.2" cy="1145.7" r="2.2"/><circle cx="817.8" cy="1145.7" r="2.2"/><circle cx="823.7" cy="1148.0" r="2.2"/><circle cx="828.3" cy="1149.9" r="2.2"/><circle cx="835.3" cy="1149.9" r="2.2"/><circle cx="840.0" cy="1151.2" r="2.2"/><circle cx="845.0" cy="1153.1" r="2.2"/><circle cx="850.6" cy="1157.5" r="2.2"/><circle cx="854.4" cy="1155.6" r="2.2"/><circle cx="858.8" cy="1151.2" r="2.2"/><circle cx="863.1" cy="1146.2" r="2.2"/><circle cx="866.9" cy="1143.5" r="2.2"/><circle cx="871.2" cy="1140.6" r="2.2"/><circle cx="876.2" cy="1141.2" r="2.2"/><circle cx="880.0" cy="1145.0" r="2.2"/><circle cx="883.8" cy="1150.6" r="2.2"/><circle cx="888.1" cy="1161.2" r="2.2"/><circle cx="892.5" cy="1164.4" r="2.2"/><circle cx="896.2" cy="1160.0" r="2.2"/><circle cx="900.0" cy="1155.0" r="2.2"/><circle cx="904.4" cy="1141.2" r="2.2"/><circle cx="908.5" cy="1134.8" r="2.2"/><circle cx="913.1" cy="1136.2" r="2.2"/><circle cx="917.5" cy="1138.8" r="2.2"/><circle cx="921.9" cy="1140.6" r="2.2"/><circle cx="926.2" cy="1145.0" r="2.2"/><circle cx="930.0" cy="1148.8" r="2.2"/><circle cx="933.8" cy="1152.5" r="2.2"/><circle cx="938.1" cy="1155.6" r="2.2"/><circle cx="942.5" cy="1163.1" r="2.2"/><circle cx="946.2" cy="1170.0" r="2.2"/><circle cx="950.6" cy="1176.2" r="2.2"/><circle cx="955.0" cy="1187.5" r="2.2"/><circle cx="958.8" cy="1201.9" r="2.2"/><circle cx="963.1" cy="1215.6" r="2.2"/><circle cx="967.2" cy="1207.5" r="2.2"/><circle cx="971.2" cy="1185.6" r="2.2"/><circle cx="975.6" cy="1170.0" r="2.2"/><circle cx="979.8" cy="1161.9" r="2.2"/></g><polyline points="100.3,1163.5 104.3,1132.3 108.4,1122.6 112.5,1150.4 116.6,1143.1 121.0,1103.1 129.2,1173.1 133.2,1145.1 137.3,1202.0 141.4,1151.2 145.8,1168.5 150.2,1210.8 154.3,1200.9 158.4,1249.6 162.4,1253.1 166.5,1275.9 170.9,1400.6 175.0,1319.1 179.1,1328.5 183.2,1364.4 187.6,1329.3 191.6,1410.2 196.0,1383.1 200.1,1362.0 204.2,1333.7 208.3,1351.8 212.4,1446.7 216.5,1352.4 221.1,1359.1 225.2,1433.0 229.3,1440.0 233.4,1410.2 237.5,1376.1 241.6,1260.7 245.9,1270.1 250.0,1340.1 254.1,1260.7 258.2,1227.7 262.3,1272.1 266.4,1247.3 311.4,1250.2 316.0,1224.2 320.4,1250.2 325.4,1237.1 329.5,1241.8 333.5,1245.3 337.6,1249.6 341.7,1241.8 346.1,1152.4 416.8,1112.5 428.0,1114.2 433.1,1105.3 435.0,1116.5 442.0,1121.2 445.5,1120.0 450.9,1121.2 454.8,1118.8 458.3,1111.1 463.0,1114.2 467.7,1115.3 471.2,1130.5 475.1,1200.5 479.3,1223.1 483.5,1173.0 486.8,1137.5 492.2,1122.8 495.7,1164.8 499.9,1166.0 503.8,1164.3 507.8,1155.0 512.5,1159.7 517.1,1146.8 520.9,1222.2 525.3,1181.1 529.5,1172.5 533.0,1173.7 537.2,1191.9 541.9,1185.3 546.5,1189.5 550.5,1211.0 554.5,1209.8 558.2,1165.5 562.2,1189.5 566.8,1129.3 571.5,1137.5 575.5,1162.0 587.1,1143.3 591.8,1120.0 597.2,1119.3 599.5,1144.5 604.2,1143.3 608.1,1145.7 611.9,1189.3 617.0,1198.2 621.2,1150.3 625.2,1157.8 630.0,1144.5 630.0,1157.3 633.5,1120.0 637.0,1132.8 642.8,1142.2 648.7,1137.5 653.3,1135.2 658.5,1141.0 662.2,1104.1 667.3,1104.8 671.5,1098.5 675.5,1117.7 680.2,1124.7 683.2,1132.8 688.3,1140.5 691.8,1110.7 696.0,1104.8 700.0,1113.0 704.7,1111.8 708.9,1115.3 712.8,1109.5 717.5,1106.0 722.2,1106.0 726.8,1108.3 729.2,1114.2 733.8,1115.3 738.5,1116.5 743.2,1117.7 746.7,1116.5 750.9,1164.3 756.0,1163.9 759.5,1162.0 763.5,1117.2 766.5,1143.3 771.2,1145.7 775.8,1143.3 778.9,1165.5 784.0,1163.2 788.7,1162.5 793.3,1161.5 796.1,1151.5 801.5,1155.0 805.5,1160.8 809.7,1160.8 814.3,1153.8 820.9,1143.3 825.5,1146.8 829.5,1144.5 834.2,1142.2 838.8,1145.7 840.0,1146.2 842.5,1131.9 846.2,1131.2 854.4,1123.1 858.8,1136.2 863.1,1138.8 866.9,1141.2 871.9,1142.5 876.2,1136.2 880.0,1136.9 883.1,1152.5 888.1,1140.0 892.5,1154.4 896.2,1143.8 898.8,1145.0 904.4,1161.2 908.5,1103.5 913.1,1091.2 917.5,1093.8 921.9,1097.5 925.6,1096.2 929.4,1145.6 933.8,1142.5 938.5,1136.9 942.5,1093.8 946.2,1088.1 950.0,1096.2 954.4,1093.1 958.1,1153.1 963.1,1152.5 967.2,1146.2 971.2,1134.4 975.6,1134.4 979.4,1107.5" fill="none" stroke="#0000ff" stroke-width="1" stroke-dasharray="1 2"/><polyline points="100.3,1163.5 104.3,1132.3 108.4,1122.6 112.5,1150.4 116.6,1143.1 121.0,1103.1 129.2,1173.1 133.2,1145.1 137.3,1202.0 141.4,1151.2 145.8,1168.5 150.2,1210.8 154.3,1200.9 158.4,1249.6 162.4,1253.1 166.5,1275.9 170.9,1400.6 175.0,1319.1 179.1,1328.5 183.2,1364.4 187.6,1329.3 191.6,1410.2 196.0,1383.1 200.1,1362.0 204.2,1333.7 208.3,1351.8 212.4,1446.7 216.5,1352.4 221.1,1359.1 225.2,1433.0 229.3,1440.0 233.4,1410.2 237.5,1376.1 241.6,1260.7 245.9,1270.1 250.0,1340.1 254.1,1260.7 258.2,1227.7 262.3,1272.1 266.4,1247.3 311.4,1250.2 316.0,1224.2 320.4,1250.2 325.4,1237.1 329.5,1241.8 333.5,1245.3 337.6,1249.6 341.7,1241.8 346.1,1152.4 416.8,1112.5 428.0,1114.2 433.1,1105.3 435.0,1116.5 442.0,1121.2 445.5,1120.0 450.9,1121.2 454.8,1118.8 458.3,1111.1 463.0,1114.2 467.7,1115.3 471.2,1130.5 475.1,1200.5 479.3,1223.1 483.5,1173.0 486.8,1137.5 492.2,1122.8 495.7,1164.8 499.9,1166.0 503.8,1164.3 507.8,1155.0 512.5,1159.7 517.1,1146.8 520.9,1222.2 525.3,1181.1 529.5,1172.5 533.0,1173.7 537.2,1191.9 541.9,1185.3 546.5,1189.5 550.5,1211.0 554.5,1209.8 558.2,1165.5 562.2,1189.5 566.8,1129.3 571.5,1137.5 575.5,1162.0 587.1,1143.3 591.8,1120.0 597.2,1119.3 599.5,1144.5 604.2,1143.3 608.1,1145.7 611.9,1189.3 617.0,1198.2 621.2,1150.3 625.2,1157.8 630.0,1144.5 630.0,1157.3 633.5,1120.0 637.0,1132.8 642.8,1142.2 648.7,1137.5 653.3,1135.2 658.5,1141.0 662.2,1104.1 667.3,1104.8 671.5,1098.5 675.5,1117.7 680.2,1124.7 683.2,1132.8 688.3,1140.5 691.8,1110.7 696.0,1104.8 700.0,1113.0 704.7,1111.8 708.9,1115.3 712.8,1109.5 717.5,1106.0 722.2,1106.0 726.8,1108.3 729.2,1114.2 733.8,1115.3 738.5,1116.5 743.2,1117.7 746.7,1116.5 750.9,1164.3 756.0,1163.9 759.5,1162.0 763.5,1117.2 766.5,1143.3 771.2,1145.7 775.8,1143.3 778.9,1165.5 784.0,1163.2 788.7,1162.5 793.3,1161.5 796.1,1151.5 801.5,1155.0 805.5,1160.8 809.7,1160.8 814.3,1153.8 820.9,1143.3 825.5,1146.8 829.5,1144.5 834.2,1142.2 838.8,1145.7 840.0,1146.2 842.5,1131.9 846.2,1131.2 854.4,1123.1 858.8,1136.2 863.1,1138.8 866.9,1141.2 871.9,1142.5 876.2,1136.2 880.0,1136.9 883.1,1152.5 888.1,1140.0 892.5,1154.4 896.2,1143.8 898.8,1145.0 904.4,1161.2 908.5,1103.5 913.1,1091.2 917.5,1093.8 921.9,1097.5 925.6,1096.2 929.4,1145.6 933.8,1142.5 938.5,1136.9 942.5,1093.8 946.2,1088.1 950.0,1096.2 954.4,1093.1 958.1,1153.1 963.1,1152.5 967.2,1146.2 971.2,1134.4 975.6,1134.4 979.4,1107.5" fill="none" stroke="#000" stroke-width="1" stroke-dasharray="6 3 1.5 3"/></g><path d="M93.8 1163.5h13.0M100.3 1157.0v13.0M95.7 1158.9l9.2 9.2M95.7 1168.1l9.2 -9.2M97.8 1132.3h13.0M104.3 1125.8v13.0M99.7 1127.7l9.2 9.2M99.7 1136.9l9.2 -9.2M101.9 1122.6h13.0M108.4 1116.1v13.0M103.8 1118.0l9.2 9.2M103.8 1127.2l9.2 -9.2M106.0 1150.4h13.0M112.5 1143.9v13.0M107.9 1145.8l9.2 9.2M107.9 1155.0l9.2 -9.2M110.1 1143.1h13.0M116.6 1136.6v13.0M112.0 1138.5l9.2 9.2M112.0 1147.7l9.2 -9.2M114.5 1103.1h13.0M121.0 1096.6v13.0M116.4 1098.5l9.2 9.2M116.4 1107.7l9.2 -9.2M122.7 1173.1h13.0M129.2 1166.6v13.0M124.6 1168.5l9.2 9.2M124.6 1177.7l9.2 -9.2M126.7 1145.1h13.0M133.2 1138.6v13.0M128.6 1140.5l9.2 9.2M128.6 1149.7l9.2 -9.2M130.8 1202.0h13.0M137.3 1195.5v13.0M132.7 1197.4l9.2 9.2M132.7 1206.6l9.2 -9.2M134.9 1151.2h13.0M141.4 1144.7v13.0M136.8 1146.6l9.2 9.2M136.8 1155.8l9.2 -9.2M139.3 1168.5h13.0M145.8 1162.0v13.0M141.2 1163.9l9.2 9.2M141.2 1173.1l9.2 -9.2M143.7 1210.8h13.0M150.2 1204.3v13.0M145.6 1206.2l9.2 9.2M145.6 1215.4l9.2 -9.2M147.8 1200.9h13.0M154.3 1194.4v13.0M149.7 1196.3l9.2 9.2M149.7 1205.5l9.2 -9.2M151.9 1249.6h13.0M158.4 1243.1v13.0M153.8 1245.0l9.2 9.2M153.8 1254.2l9.2 -9.2M155.9 1253.1h13.0M162.4 1246.6v13.0M157.8 1248.5l9.2 9.2M157.8 1257.7l9.2 -9.2M160.0 1275.9h13.0M166.5 1269.4v13.0M161.9 1271.3l9.2 9.2M161.9 1280.5l9.2 -9.2M164.4 1400.6h13.0M170.9 1394.1v13.0M166.3 1396.0l9.2 9.2M166.3 1405.2l9.2 -9.2M168.5 1319.1h13.0M175.0 1312.6v13.0M170.4 1314.5l9.2 9.2M170.4 1323.7l9.2 -9.2M172.6 1328.5h13.0M179.1 1322.0v13.0M174.5 1323.9l9.2 9.2M174.5 1333.1l9.2 -9.2M176.7 1364.4h13.0M183.2 1357.9v13.0M178.6 1359.8l9.2 9.2M178.6 1369.0l9.2 -9.2M181.1 1329.3h13.0M187.6 1322.8v13.0M183.0 1324.7l9.2 9.2M183.0 1333.9l9.2 -9.2M185.1 1410.2h13.0M191.6 1403.7v13.0M187.0 1405.6l9.2 9.2M187.0 1414.8l9.2 -9.2M189.5 1383.1h13.0M196.0 1376.6v13.0M191.4 1378.5l9.2 9.2M191.4 1387.7l9.2 -9.2M193.6 1362.0h13.0M200.1 1355.5v13.0M195.5 1357.4l9.2 9.2M195.5 1366.6l9.2 -9.2M197.7 1333.7h13.0M204.2 1327.2v13.0M199.6 1329.1l9.2 9.2M199.6 1338.3l9.2 -9.2M201.8 1351.8h13.0M208.3 1345.3v13.0M203.7 1347.2l9.2 9.2M203.7 1356.4l9.2 -9.2M205.9 1446.7h13.0M212.4 1440.2v13.0M207.8 1442.1l9.2 9.2M207.8 1451.3l9.2 -9.2M210.0 1352.4h13.0M216.5 1345.9v13.0M211.9 1347.8l9.2 9.2M211.9 1357.0l9.2 -9.2M214.6 1359.1h13.0M221.1 1352.6v13.0M216.5 1354.5l9.2 9.2M216.5 1363.7l9.2 -9.2M218.7 1433.0h13.0M225.2 1426.5v13.0M220.6 1428.4l9.2 9.2M220.6 1437.6l9.2 -9.2M222.8 1440.0h13.0M229.3 1433.5v13.0M224.7 1435.4l9.2 9.2M224.7 1444.6l9.2 -9.2M226.9 1410.2h13.0M233.4 1403.7v13.0M228.8 1405.6l9.2 9.2M228.8 1414.8l9.2 -9.2M231.0 1376.1h13.0M237.5 1369.6v13.0M232.9 1371.5l9.2 9.2M232.9 1380.7l9.2 -9.2M235.1 1260.7h13.0M241.6 1254.2v13.0M237.0 1256.1l9.2 9.2M237.0 1265.3l9.2 -9.2M239.4 1270.1h13.0M245.9 1263.6v13.0M241.3 1265.5l9.2 9.2M241.3 1274.7l9.2 -9.2M243.5 1340.1h13.0M250.0 1333.6v13.0M245.4 1335.5l9.2 9.2M245.4 1344.7l9.2 -9.2M247.6 1260.7h13.0M254.1 1254.2v13.0M249.5 1256.1l9.2 9.2M249.5 1265.3l9.2 -9.2M251.7 1227.7h13.0M258.2 1221.2v13.0M253.6 1223.1l9.2 9.2M253.6 1232.3l9.2 -9.2M255.8 1272.1h13.0M262.3 1265.6v13.0M257.7 1267.5l9.2 9.2M257.7 1276.7l9.2 -9.2M259.9 1247.3h13.0M266.4 1240.8v13.0M261.8 1242.7l9.2 9.2M261.8 1251.9l9.2 -9.2M304.9 1250.2h13.0M311.4 1243.7v13.0M306.8 1245.6l9.2 9.2M306.8 1254.8l9.2 -9.2M309.5 1224.2h13.0M316.0 1217.7v13.0M311.4 1219.6l9.2 9.2M311.4 1228.8l9.2 -9.2M313.9 1250.2h13.0M320.4 1243.7v13.0M315.8 1245.6l9.2 9.2M315.8 1254.8l9.2 -9.2M318.9 1237.1h13.0M325.4 1230.6v13.0M320.8 1232.5l9.2 9.2M320.8 1241.7l9.2 -9.2M323.0 1241.8h13.0M329.5 1235.3v13.0M324.9 1237.2l9.2 9.2M324.9 1246.4l9.2 -9.2M327.0 1245.3h13.0M333.5 1238.8v13.0M328.9 1240.7l9.2 9.2M328.9 1249.9l9.2 -9.2M331.1 1249.6h13.0M337.6 1243.1v13.0M333.0 1245.0l9.2 9.2M333.0 1254.2l9.2 -9.2M335.2 1241.8h13.0M341.7 1235.3v13.0M337.1 1237.2l9.2 9.2M337.1 1246.4l9.2 -9.2M339.6 1152.4h13.0M346.1 1145.9v13.0M341.5 1147.8l9.2 9.2M341.5 1157.0l9.2 -9.2M410.3 1112.5h13.0M416.8 1106.0v13.0M412.2 1107.9l9.2 9.2M412.2 1117.1l9.2 -9.2M421.5 1114.2h13.0M428.0 1107.7v13.0M423.4 1109.6l9.2 9.2M423.4 1118.8l9.2 -9.2M426.6 1105.3h13.0M433.1 1098.8v13.0M428.5 1100.7l9.2 9.2M428.5 1109.9l9.2 -9.2M428.5 1116.5h13.0M435.0 1110.0v13.0M430.4 1111.9l9.2 9.2M430.4 1121.1l9.2 -9.2M435.5 1121.2h13.0M442.0 1114.7v13.0M437.4 1116.6l9.2 9.2M437.4 1125.8l9.2 -9.2M439.0 1120.0h13.0M445.5 1113.5v13.0M440.9 1115.4l9.2 9.2M440.9 1124.6l9.2 -9.2M444.4 1121.2h13.0M450.9 1114.7v13.0M446.3 1116.6l9.2 9.2M446.3 1125.8l9.2 -9.2M448.3 1118.8h13.0M454.8 1112.3v13.0M450.2 1114.2l9.2 9.2M450.2 1123.4l9.2 -9.2M451.8 1111.1h13.0M458.3 1104.6v13.0M453.7 1106.5l9.2 9.2M453.7 1115.7l9.2 -9.2M456.5 1114.2h13.0M463.0 1107.7v13.0M458.4 1109.6l9.2 9.2M458.4 1118.8l9.2 -9.2M461.2 1115.3h13.0M467.7 1108.8v13.0M463.1 1110.7l9.2 9.2M463.1 1119.9l9.2 -9.2M464.7 1130.5h13.0M471.2 1124.0v13.0M466.6 1125.9l9.2 9.2M466.6 1135.1l9.2 -9.2M468.6 1200.5h13.0M475.1 1194.0v13.0M470.5 1195.9l9.2 9.2M470.5 1205.1l9.2 -9.2M472.8 1223.1h13.0M479.3 1216.6v13.0M474.7 1218.5l9.2 9.2M474.7 1227.7l9.2 -9.2M477.0 1173.0h13.0M483.5 1166.5v13.0M478.9 1168.4l9.2 9.2M478.9 1177.6l9.2 -9.2M480.3 1137.5h13.0M486.8 1131.0v13.0M482.2 1132.9l9.2 9.2M482.2 1142.1l9.2 -9.2M485.7 1122.8h13.0M492.2 1116.3v13.0M487.6 1118.2l9.2 9.2M487.6 1127.4l9.2 -9.2M489.2 1164.8h13.0M495.7 1158.3v13.0M491.1 1160.2l9.2 9.2M491.1 1169.4l9.2 -9.2M493.4 1166.0h13.0M499.9 1159.5v13.0M495.3 1161.4l9.2 9.2M495.3 1170.6l9.2 -9.2M497.3 1164.3h13.0M503.8 1157.8v13.0M499.2 1159.7l9.2 9.2M499.2 1168.9l9.2 -9.2M501.3 1155.0h13.0M507.8 1148.5v13.0M503.2 1150.4l9.2 9.2M503.2 1159.6l9.2 -9.2M506.0 1159.7h13.0M512.5 1153.2v13.0M507.9 1155.1l9.2 9.2M507.9 1164.3l9.2 -9.2M510.6 1146.8h13.0M517.1 1140.3v13.0M512.5 1142.2l9.2 9.2M512.5 1151.4l9.2 -9.2M514.4 1222.2h13.0M520.9 1215.7v13.0M516.3 1217.6l9.2 9.2M516.3 1226.8l9.2 -9.2M518.8 1181.1h13.0M525.3 1174.6v13.0M520.7 1176.5l9.2 9.2M520.7 1185.7l9.2 -9.2M523.0 1172.5h13.0M529.5 1166.0v13.0M524.9 1167.9l9.2 9.2M524.9 1177.1l9.2 -9.2M526.5 1173.7h13.0M533.0 1167.2v13.0M528.4 1169.1l9.2 9.2M528.4 1178.3l9.2 -9.2M530.7 1191.9h13.0M537.2 1185.4v13.0M532.6 1187.3l9.2 9.2M532.6 1196.5l9.2 -9.2M535.4 1185.3h13.0M541.9 1178.8v13.0M537.3 1180.7l9.2 9.2M537.3 1189.9l9.2 -9.2M540.0 1189.5h13.0M546.5 1183.0v13.0M541.9 1184.9l9.2 9.2M541.9 1194.1l9.2 -9.2M544.0 1211.0h13.0M550.5 1204.5v13.0M545.9 1206.4l9.2 9.2M545.9 1215.6l9.2 -9.2M548.0 1209.8h13.0M554.5 1203.3v13.0M549.9 1205.2l9.2 9.2M549.9 1214.4l9.2 -9.2M551.7 1165.5h13.0M558.2 1159.0v13.0M553.6 1160.9l9.2 9.2M553.6 1170.1l9.2 -9.2M555.7 1189.5h13.0M562.2 1183.0v13.0M557.6 1184.9l9.2 9.2M557.6 1194.1l9.2 -9.2M560.3 1129.3h13.0M566.8 1122.8v13.0M562.2 1124.7l9.2 9.2M562.2 1133.9l9.2 -9.2M565.0 1137.5h13.0M571.5 1131.0v13.0M566.9 1132.9l9.2 9.2M566.9 1142.1l9.2 -9.2M569.0 1162.0h13.0M575.5 1155.5v13.0M570.9 1157.4l9.2 9.2M570.9 1166.6l9.2 -9.2M580.6 1143.3h13.0M587.1 1136.8v13.0M582.5 1138.7l9.2 9.2M582.5 1147.9l9.2 -9.2M585.3 1120.0h13.0M591.8 1113.5v13.0M587.2 1115.4l9.2 9.2M587.2 1124.6l9.2 -9.2M590.7 1119.3h13.0M597.2 1112.8v13.0M592.6 1114.7l9.2 9.2M592.6 1123.9l9.2 -9.2M593.0 1144.5h13.0M599.5 1138.0v13.0M594.9 1139.9l9.2 9.2M594.9 1149.1l9.2 -9.2M597.7 1143.3h13.0M604.2 1136.8v13.0M599.6 1138.7l9.2 9.2M599.6 1147.9l9.2 -9.2M601.6 1145.7h13.0M608.1 1139.2v13.0M603.5 1141.1l9.2 9.2M603.5 1150.3l9.2 -9.2M605.4 1189.3h13.0M611.9 1182.8v13.0M607.3 1184.7l9.2 9.2M607.3 1193.9l9.2 -9.2M610.5 1198.2h13.0M617.0 1191.7v13.0M612.4 1193.6l9.2 9.2M612.4 1202.8l9.2 -9.2M614.7 1150.3h13.0M621.2 1143.8v13.0M616.6 1145.7l9.2 9.2M616.6 1154.9l9.2 -9.2M618.7 1157.8h13.0M625.2 1151.3v13.0M620.6 1153.2l9.2 9.2M620.6 1162.4l9.2 -9.2M623.5 1144.5h13.0M630.0 1138.0v13.0M625.4 1139.9l9.2 9.2M625.4 1149.1l9.2 -9.2M623.5 1157.3h13.0M630.0 1150.8v13.0M625.4 1152.7l9.2 9.2M625.4 1161.9l9.2 -9.2M627.0 1120.0h13.0M633.5 1113.5v13.0M628.9 1115.4l9.2 9.2M628.9 1124.6l9.2 -9.2M630.5 1132.8h13.0M637.0 1126.3v13.0M632.4 1128.2l9.2 9.2M632.4 1137.4l9.2 -9.2M636.3 1142.2h13.0M642.8 1135.7v13.0M638.2 1137.6l9.2 9.2M638.2 1146.8l9.2 -9.2M642.2 1137.5h13.0M648.7 1131.0v13.0M644.1 1132.9l9.2 9.2M644.1 1142.1l9.2 -9.2M646.8 1135.2h13.0M653.3 1128.7v13.0M648.7 1130.6l9.2 9.2M648.7 1139.8l9.2 -9.2M652.0 1141.0h13.0M658.5 1134.5v13.0M653.9 1136.4l9.2 9.2M653.9 1145.6l9.2 -9.2M655.7 1104.1h13.0M662.2 1097.6v13.0M657.6 1099.5l9.2 9.2M657.6 1108.7l9.2 -9.2M660.8 1104.8h13.0M667.3 1098.3v13.0M662.7 1100.2l9.2 9.2M662.7 1109.4l9.2 -9.2M665.0 1098.5h13.0M671.5 1092.0v13.0M666.9 1093.9l9.2 9.2M666.9 1103.1l9.2 -9.2M669.0 1117.7h13.0M675.5 1111.2v13.0M670.9 1113.1l9.2 9.2M670.9 1122.3l9.2 -9.2M673.7 1124.7h13.0M680.2 1118.2v13.0M675.6 1120.1l9.2 9.2M675.6 1129.3l9.2 -9.2M676.7 1132.8h13.0M683.2 1126.3v13.0M678.6 1128.2l9.2 9.2M678.6 1137.4l9.2 -9.2M681.8 1140.5h13.0M688.3 1134.0v13.0M683.7 1135.9l9.2 9.2M683.7 1145.1l9.2 -9.2M685.3 1110.7h13.0M691.8 1104.2v13.0M687.2 1106.1l9.2 9.2M687.2 1115.3l9.2 -9.2M689.5 1104.8h13.0M696.0 1098.3v13.0M691.4 1100.2l9.2 9.2M691.4 1109.4l9.2 -9.2M693.5 1113.0h13.0M700.0 1106.5v13.0M695.4 1108.4l9.2 9.2M695.4 1117.6l9.2 -9.2M698.2 1111.8h13.0M704.7 1105.3v13.0M700.1 1107.2l9.2 9.2M700.1 1116.4l9.2 -9.2M702.4 1115.3h13.0M708.9 1108.8v13.0M704.3 1110.7l9.2 9.2M704.3 1119.9l9.2 -9.2M706.3 1109.5h13.0M712.8 1103.0v13.0M708.2 1104.9l9.2 9.2M708.2 1114.1l9.2 -9.2M711.0 1106.0h13.0M717.5 1099.5v13.0M712.9 1101.4l9.2 9.2M712.9 1110.6l9.2 -9.2M715.7 1106.0h13.0M722.2 1099.5v13.0M717.6 1101.4l9.2 9.2M717.6 1110.6l9.2 -9.2M720.3 1108.3h13.0M726.8 1101.8v13.0M722.2 1103.7l9.2 9.2M722.2 1112.9l9.2 -9.2M722.7 1114.2h13.0M729.2 1107.7v13.0M724.6 1109.6l9.2 9.2M724.6 1118.8l9.2 -9.2M727.3 1115.3h13.0M733.8 1108.8v13.0M729.2 1110.7l9.2 9.2M729.2 1119.9l9.2 -9.2M732.0 1116.5h13.0M738.5 1110.0v13.0M733.9 1111.9l9.2 9.2M733.9 1121.1l9.2 -9.2M736.7 1117.7h13.0M743.2 1111.2v13.0M738.6 1113.1l9.2 9.2M738.6 1122.3l9.2 -9.2M740.2 1116.5h13.0M746.7 1110.0v13.0M742.1 1111.9l9.2 9.2M742.1 1121.1l9.2 -9.2M744.4 1164.3h13.0M750.9 1157.8v13.0M746.3 1159.7l9.2 9.2M746.3 1168.9l9.2 -9.2M749.5 1163.9h13.0M756.0 1157.4v13.0M751.4 1159.3l9.2 9.2M751.4 1168.5l9.2 -9.2M753.0 1162.0h13.0M759.5 1155.5v13.0M754.9 1157.4l9.2 9.2M754.9 1166.6l9.2 -9.2M757.0 1117.2h13.0M763.5 1110.7v13.0M758.9 1112.6l9.2 9.2M758.9 1121.8l9.2 -9.2M760.0 1143.3h13.0M766.5 1136.8v13.0M761.9 1138.7l9.2 9.2M761.9 1147.9l9.2 -9.2M764.7 1145.7h13.0M771.2 1139.2v13.0M766.6 1141.1l9.2 9.2M766.6 1150.3l9.2 -9.2M769.3 1143.3h13.0M775.8 1136.8v13.0M771.2 1138.7l9.2 9.2M771.2 1147.9l9.2 -9.2M772.4 1165.5h13.0M778.9 1159.0v13.0M774.3 1160.9l9.2 9.2M774.3 1170.1l9.2 -9.2M777.5 1163.2h13.0M784.0 1156.7v13.0M779.4 1158.6l9.2 9.2M779.4 1167.8l9.2 -9.2M782.2 1162.5h13.0M788.7 1156.0v13.0M784.1 1157.9l9.2 9.2M784.1 1167.1l9.2 -9.2M786.8 1161.5h13.0M793.3 1155.0v13.0M788.7 1156.9l9.2 9.2M788.7 1166.1l9.2 -9.2M789.6 1151.5h13.0M796.1 1145.0v13.0M791.5 1146.9l9.2 9.2M791.5 1156.1l9.2 -9.2M795.0 1155.0h13.0M801.5 1148.5v13.0M796.9 1150.4l9.2 9.2M796.9 1159.6l9.2 -9.2M799.0 1160.8h13.0M805.5 1154.3v13.0M800.9 1156.2l9.2 9.2M800.9 1165.4l9.2 -9.2M803.2 1160.8h13.0M809.7 1154.3v13.0M805.1 1156.2l9.2 9.2M805.1 1165.4l9.2 -9.2M807.8 1153.8h13.0M814.3 1147.3v13.0M809.7 1149.2l9.2 9.2M809.7 1158.4l9.2 -9.2M814.4 1143.3h13.0M820.9 1136.8v13.0M816.3 1138.7l9.2 9.2M816.3 1147.9l9.2 -9.2M819.0 1146.8h13.0M825.5 1140.3v13.0M820.9 1142.2l9.2 9.2M820.9 1151.4l9.2 -9.2M823.0 1144.5h13.0M829.5 1138.0v13.0M824.9 1139.9l9.2 9.2M824.9 1149.1l9.2 -9.2M827.7 1142.2h13.0M834.2 1135.7v13.0M829.6 1137.6l9.2 9.2M829.6 1146.8l9.2 -9.2M832.3 1145.7h13.0M838.8 1139.2v13.0M834.2 1141.1l9.2 9.2M834.2 1150.3l9.2 -9.2M833.5 1146.2h13.0M840.0 1139.8v13.0M835.4 1141.7l9.2 9.2M835.4 1150.8l9.2 -9.2M836.0 1131.9h13.0M842.5 1125.4v13.0M837.9 1127.3l9.2 9.2M837.9 1136.5l9.2 -9.2M839.8 1131.2h13.0M846.2 1124.8v13.0M841.6 1126.7l9.2 9.2M841.6 1135.8l9.2 -9.2M847.9 1123.1h13.0M854.4 1116.6v13.0M849.8 1118.5l9.2 9.2M849.8 1127.7l9.2 -9.2M852.2 1136.2h13.0M858.8 1129.8v13.0M854.1 1131.7l9.2 9.2M854.1 1140.8l9.2 -9.2M856.6 1138.8h13.0M863.1 1132.2v13.0M858.5 1134.2l9.2 9.2M858.5 1143.3l9.2 -9.2M860.4 1141.2h13.0M866.9 1134.8v13.0M862.3 1136.7l9.2 9.2M862.3 1145.8l9.2 -9.2M865.4 1142.5h13.0M871.9 1136.0v13.0M867.3 1137.9l9.2 9.2M867.3 1147.1l9.2 -9.2M869.8 1136.2h13.0M876.2 1129.8v13.0M871.6 1131.7l9.2 9.2M871.6 1140.8l9.2 -9.2M873.5 1136.9h13.0M880.0 1130.4v13.0M875.4 1132.3l9.2 9.2M875.4 1141.5l9.2 -9.2M876.6 1152.5h13.0M883.1 1146.0v13.0M878.5 1147.9l9.2 9.2M878.5 1157.1l9.2 -9.2M881.6 1140.0h13.0M888.1 1133.5v13.0M883.5 1135.4l9.2 9.2M883.5 1144.6l9.2 -9.2M886.0 1154.4h13.0M892.5 1147.9v13.0M887.9 1149.8l9.2 9.2M887.9 1159.0l9.2 -9.2M889.8 1143.8h13.0M896.2 1137.2v13.0M891.6 1139.2l9.2 9.2M891.6 1148.3l9.2 -9.2M892.2 1145.0h13.0M898.8 1138.5v13.0M894.1 1140.4l9.2 9.2M894.1 1149.6l9.2 -9.2M897.9 1161.2h13.0M904.4 1154.8v13.0M899.8 1156.7l9.2 9.2M899.8 1165.8l9.2 -9.2M902.0 1103.5h13.0M908.5 1097.0v13.0M903.9 1098.9l9.2 9.2M903.9 1108.1l9.2 -9.2M906.6 1091.2h13.0M913.1 1084.8v13.0M908.5 1086.7l9.2 9.2M908.5 1095.8l9.2 -9.2M911.0 1093.8h13.0M917.5 1087.2v13.0M912.9 1089.2l9.2 9.2M912.9 1098.3l9.2 -9.2M915.4 1097.5h13.0M921.9 1091.0v13.0M917.3 1092.9l9.2 9.2M917.3 1102.1l9.2 -9.2M919.1 1096.2h13.0M925.6 1089.8v13.0M921.0 1091.7l9.2 9.2M921.0 1100.8l9.2 -9.2M922.9 1145.6h13.0M929.4 1139.1v13.0M924.8 1141.0l9.2 9.2M924.8 1150.2l9.2 -9.2M927.2 1142.5h13.0M933.8 1136.0v13.0M929.1 1137.9l9.2 9.2M929.1 1147.1l9.2 -9.2M932.0 1136.9h13.0M938.5 1130.4v13.0M933.9 1132.3l9.2 9.2M933.9 1141.5l9.2 -9.2M936.0 1093.8h13.0M942.5 1087.2v13.0M937.9 1089.2l9.2 9.2M937.9 1098.3l9.2 -9.2M939.8 1088.1h13.0M946.2 1081.6v13.0M941.6 1083.5l9.2 9.2M941.6 1092.7l9.2 -9.2M943.5 1096.2h13.0M950.0 1089.8v13.0M945.4 1091.7l9.2 9.2M945.4 1100.8l9.2 -9.2M947.9 1093.1h13.0M954.4 1086.6v13.0M949.8 1088.5l9.2 9.2M949.8 1097.7l9.2 -9.2M951.6 1153.1h13.0M958.1 1146.6v13.0M953.5 1148.5l9.2 9.2M953.5 1157.7l9.2 -9.2M956.6 1152.5h13.0M963.1 1146.0v13.0M958.5 1147.9l9.2 9.2M958.5 1157.1l9.2 -9.2M960.8 1146.2h13.0M967.2 1139.8v13.0M962.6 1141.7l9.2 9.2M962.6 1150.8l9.2 -9.2M964.8 1134.4h13.0M971.2 1127.9v13.0M966.6 1129.8l9.2 9.2M966.6 1139.0l9.2 -9.2M969.1 1134.4h13.0M975.6 1127.9v13.0M971.0 1129.8l9.2 9.2M971.0 1139.0l9.2 -9.2M972.9 1107.5h13.0M979.4 1101.0v13.0M974.8 1102.9l9.2 9.2M974.8 1112.1l9.2 -9.2" stroke="#0000ff" stroke-width="1.1" fill="none"/><g fill="none" stroke="#000" stroke-width="1.1"><circle cx="100.3" cy="1163.5" r="6.3"/><circle cx="104.3" cy="1132.3" r="6.3"/><circle cx="108.4" cy="1122.6" r="6.3"/><circle cx="112.5" cy="1150.4" r="6.3"/><circle cx="116.6" cy="1143.1" r="6.3"/><circle cx="121.0" cy="1103.1" r="6.3"/><circle cx="129.2" cy="1173.1" r="6.3"/><circle cx="133.2" cy="1145.1" r="6.3"/><circle cx="137.3" cy="1202.0" r="6.3"/><circle cx="141.4" cy="1151.2" r="6.3"/><circle cx="145.8" cy="1168.5" r="6.3"/><circle cx="150.2" cy="1210.8" r="6.3"/><circle cx="154.3" cy="1200.9" r="6.3"/><circle cx="158.4" cy="1249.6" r="6.3"/><circle cx="162.4" cy="1253.1" r="6.3"/><circle cx="166.5" cy="1275.9" r="6.3"/><circle cx="170.9" cy="1400.6" r="6.3"/><circle cx="175.0" cy="1319.1" r="6.3"/><circle cx="179.1" cy="1328.5" r="6.3"/><circle cx="183.2" cy="1364.4" r="6.3"/><circle cx="187.6" cy="1329.3" r="6.3"/><circle cx="191.6" cy="1410.2" r="6.3"/><circle cx="196.0" cy="1383.1" r="6.3"/><circle cx="200.1" cy="1362.0" r="6.3"/><circle cx="204.2" cy="1333.7" r="6.3"/><circle cx="208.3" cy="1351.8" r="6.3"/><circle cx="212.4" cy="1446.7" r="6.3"/><circle cx="216.5" cy="1352.4" r="6.3"/><circle cx="221.1" cy="1359.1" r="6.3"/><circle cx="225.2" cy="1433.0" r="6.3"/><circle cx="229.3" cy="1440.0" r="6.3"/><circle cx="233.4" cy="1410.2" r="6.3"/><circle cx="237.5" cy="1376.1" r="6.3"/><circle cx="241.6" cy="1260.7" r="6.3"/><circle cx="245.9" cy="1270.1" r="6.3"/><circle cx="250.0" cy="1340.1" r="6.3"/><circle cx="254.1" cy="1260.7" r="6.3"/><circle cx="258.2" cy="1227.7" r="6.3"/><circle cx="262.3" cy="1272.1" r="6.3"/><circle cx="266.4" cy="1247.3" r="6.3"/><circle cx="311.4" cy="1250.2" r="6.3"/><circle cx="316.0" cy="1224.2" r="6.3"/><circle cx="320.4" cy="1250.2" r="6.3"/><circle cx="325.4" cy="1237.1" r="6.3"/><circle cx="329.5" cy="1241.8" r="6.3"/><circle cx="333.5" cy="1245.3" r="6.3"/><circle cx="337.6" cy="1249.6" r="6.3"/><circle cx="341.7" cy="1241.8" r="6.3"/><circle cx="346.1" cy="1152.4" r="6.3"/><circle cx="416.8" cy="1112.5" r="6.3"/><circle cx="428.0" cy="1114.2" r="6.3"/><circle cx="433.1" cy="1105.3" r="6.3"/><circle cx="435.0" cy="1116.5" r="6.3"/><circle cx="442.0" cy="1121.2" r="6.3"/><circle cx="445.5" cy="1120.0" r="6.3"/><circle cx="450.9" cy="1121.2" r="6.3"/><circle cx="454.8" cy="1118.8" r="6.3"/><circle cx="458.3" cy="1111.1" r="6.3"/><circle cx="463.0" cy="1114.2" r="6.3"/><circle cx="467.7" cy="1115.3" r="6.3"/><circle cx="471.2" cy="1130.5" r="6.3"/><circle cx="475.1" cy="1200.5" r="6.3"/><circle cx="479.3" cy="1223.1" r="6.3"/><circle cx="483.5" cy="1173.0" r="6.3"/><circle cx="486.8" cy="1137.5" r="6.3"/><circle cx="492.2" cy="1122.8" r="6.3"/><circle cx="495.7" cy="1164.8" r="6.3"/><circle cx="499.9" cy="1166.0" r="6.3"/><circle cx="503.8" cy="1164.3" r="6.3"/><circle cx="507.8" cy="1155.0" r="6.3"/><circle cx="512.5" cy="1159.7" r="6.3"/><circle cx="517.1" cy="1146.8" r="6.3"/><circle cx="520.9" cy="1222.2" r="6.3"/><circle cx="525.3" cy="1181.1" r="6.3"/><circle cx="529.5" cy="1172.5" r="6.3"/><circle cx="533.0" cy="1173.7" r="6.3"/><circle cx="537.2" cy="1191.9" r="6.3"/><circle cx="541.9" cy="1185.3" r="6.3"/><circle cx="546.5" cy="1189.5" r="6.3"/><circle cx="550.5" cy="1211.0" r="6.3"/><circle cx="554.5" cy="1209.8" r="6.3"/><circle cx="558.2" cy="1165.5" r="6.3"/><circle cx="562.2" cy="1189.5" r="6.3"/><circle cx="566.8" cy="1129.3" r="6.3"/><circle cx="571.5" cy="1137.5" r="6.3"/><circle cx="575.5" cy="1162.0" r="6.3"/><circle cx="587.1" cy="1143.3" r="6.3"/><circle cx="591.8" cy="1120.0" r="6.3"/><circle cx="597.2" cy="1119.3" r="6.3"/><circle cx="599.5" cy="1144.5" r="6.3"/><circle cx="604.2" cy="1143.3" r="6.3"/><circle cx="608.1" cy="1145.7" r="6.3"/><circle cx="611.9" cy="1189.3" r="6.3"/><circle cx="617.0" cy="1198.2" r="6.3"/><circle cx="621.2" cy="1150.3" r="6.3"/><circle cx="625.2" cy="1157.8" r="6.3"/><circle cx="630.0" cy="1144.5" r="6.3"/><circle cx="630.0" cy="1157.3" r="6.3"/><circle cx="633.5" cy="1120.0" r="6.3"/><circle cx="637.0" cy="1132.8" r="6.3"/><circle cx="642.8" cy="1142.2" r="6.3"/><circle cx="648.7" cy="1137.5" r="6.3"/><circle cx="653.3" cy="1135.2" r="6.3"/><circle cx="658.5" cy="1141.0" r="6.3"/><circle cx="662.2" cy="1104.1" r="6.3"/><circle cx="667.3" cy="1104.8" r="6.3"/><circle cx="671.5" cy="1098.5" r="6.3"/><circle cx="675.5" cy="1117.7" r="6.3"/><circle cx="680.2" cy="1124.7" r="6.3"/><circle cx="683.2" cy="1132.8" r="6.3"/><circle cx="688.3" cy="1140.5" r="6.3"/><circle cx="691.8" cy="1110.7" r="6.3"/><circle cx="696.0" cy="1104.8" r="6.3"/><circle cx="700.0" cy="1113.0" r="6.3"/><circle cx="704.7" cy="1111.8" r="6.3"/><circle cx="708.9" cy="1115.3" r="6.3"/><circle cx="712.8" cy="1109.5" r="6.3"/><circle cx="717.5" cy="1106.0" r="6.3"/><circle cx="722.2" cy="1106.0" r="6.3"/><circle cx="726.8" cy="1108.3" r="6.3"/><circle cx="729.2" cy="1114.2" r="6.3"/><circle cx="733.8" cy="1115.3" r="6.3"/><circle cx="738.5" cy="1116.5" r="6.3"/><circle cx="743.2" cy="1117.7" r="6.3"/><circle cx="746.7" cy="1116.5" r="6.3"/><circle cx="750.9" cy="1164.3" r="6.3"/><circle cx="756.0" cy="1163.9" r="6.3"/><circle cx="759.5" cy="1162.0" r="6.3"/><circle cx="763.5" cy="1117.2" r="6.3"/><circle cx="766.5" cy="1143.3" r="6.3"/><circle cx="771.2" cy="1145.7" r="6.3"/><circle cx="775.8" cy="1143.3" r="6.3"/><circle cx="778.9" cy="1165.5" r="6.3"/><circle cx="784.0" cy="1163.2" r="6.3"/><circle cx="788.7" cy="1162.5" r="6.3"/><circle cx="793.3" cy="1161.5" r="6.3"/><circle cx="796.1" cy="1151.5" r="6.3"/><circle cx="801.5" cy="1155.0" r="6.3"/><circle cx="805.5" cy="1160.8" r="6.3"/><circle cx="809.7" cy="1160.8" r="6.3"/><circle cx="814.3" cy="1153.8" r="6.3"/><circle cx="820.9" cy="1143.3" r="6.3"/><circle cx="825.5" cy="1146.8" r="6.3"/><circle cx="829.5" cy="1144.5" r="6.3"/><circle cx="834.2" cy="1142.2" r="6.3"/><circle cx="838.8" cy="1145.7" r="6.3"/><circle cx="840.0" cy="1146.2" r="6.3"/><circle cx="842.5" cy="1131.9" r="6.3"/><circle cx="846.2" cy="1131.2" r="6.3"/><circle cx="854.4" cy="1123.1" r="6.3"/><circle cx="858.8" cy="1136.2" r="6.3"/><circle cx="863.1" cy="1138.8" r="6.3"/><circle cx="866.9" cy="1141.2" r="6.3"/><circle cx="871.9" cy="1142.5" r="6.3"/><circle cx="876.2" cy="1136.2" r="6.3"/><circle cx="880.0" cy="1136.9" r="6.3"/><circle cx="883.1" cy="1152.5" r="6.3"/><circle cx="888.1" cy="1140.0" r="6.3"/><circle cx="892.5" cy="1154.4" r="6.3"/><circle cx="896.2" cy="1143.8" r="6.3"/><circle cx="898.8" cy="1145.0" r="6.3"/><circle cx="904.4" cy="1161.2" r="6.3"/><circle cx="908.5" cy="1103.5" r="6.3"/><circle cx="913.1" cy="1091.2" r="6.3"/><circle cx="917.5" cy="1093.8" r="6.3"/><circle cx="921.9" cy="1097.5" r="6.3"/><circle cx="925.6" cy="1096.2" r="6.3"/><circle cx="929.4" cy="1145.6" r="6.3"/><circle cx="933.8" cy="1142.5" r="6.3"/><circle cx="938.5" cy="1136.9" r="6.3"/><circle cx="942.5" cy="1093.8" r="6.3"/><circle cx="946.2" cy="1088.1" r="6.3"/><circle cx="950.0" cy="1096.2" r="6.3"/><circle cx="954.4" cy="1093.1" r="6.3"/><circle cx="958.1" cy="1153.1" r="6.3"/><circle cx="963.1" cy="1152.5" r="6.3"/><circle cx="967.2" cy="1146.2" r="6.3"/><circle cx="971.2" cy="1134.4" r="6.3"/><circle cx="975.6" cy="1134.4" r="6.3"/><circle cx="979.4" cy="1107.5" r="6.3"/></g><rect x="96.50" y="976.50" width="887.00" height="472.00" fill="none" stroke="#262626" stroke-width="1"/><text x="100.30" y="1477.00" font-family="Liberation Sans" font-size="21.50" font-weight="normal" font-style="normal" text-anchor="middle" fill="#262626" textLength="13.23" lengthAdjust="spacingAndGlyphs">0</text><text x="183.67" y="1477.00" font-family="Liberation Sans" font-size="21.50" font-weight="normal" font-style="normal" text-anchor="middle" fill="#262626" textLength="26.46" lengthAdjust="spacingAndGlyphs">20</text><text x="267.04" y="1477.00" font-family="Liberation Sans" font-size="21.50" font-weight="normal" font-style="normal" text-anchor="middle" fill="#262626" textLength="26.46" lengthAdjust="spacingAndGlyphs">40</text><text x="350.41" y="1477.00" font-family="Liberation Sans" font-size="21.50" font-weight="normal" font-style="normal" text-anchor="middle" fill="#262626" textLength="26.46" lengthAdjust="spacingAndGlyphs">60</text><text x="433.78" y="1477.00" font-family="Liberation Sans" font-size="21.50" font-weight="normal" font-style="normal" text-anchor="middle" fill="#262626" textLength="26.46" lengthAdjust="spacingAndGlyphs">80</text><text x="517.15" y="1477.00" font-family="Liberation Sans" font-size="21.50" font-weight="normal" font-style="normal" text-anchor="middle" fill="#262626" textLength="39.69" lengthAdjust="spacingAndGlyphs">100</text><text x="600.52" y="1477.00" font-family="Liberation Sans" font-size="21.50" font-weight="normal" font-style="normal" text-anchor="middle" fill="#262626" textLength="39.69" lengthAdjust="spacingAndGlyphs">120</text><text x="683.89" y="1477.00" font-family="Liberation Sans" font-size="21.50" font-weight="normal" font-style="normal" text-anchor="middle" fill="#262626" textLength="39.69" lengthAdjust="spacingAndGlyphs">140</text><text x="767.26" y="1477.00" font-family="Liberation Sans" font-size="21.50" font-weight="normal" font-style="normal" text-anchor="middle" fill="#262626" textLength="39.69" lengthAdjust="spacingAndGlyphs">160</text><text x="850.63" y="1477.00" font-family="Liberation Sans" font-size="21.50" font-weight="normal" font-style="normal" text-anchor="middle" fill="#262626" textLength="39.69" lengthAdjust="spacingAndGlyphs">180</text><text x="934.00" y="1477.00" font-family="Liberation Sans" font-size="21.50" font-weight="normal" font-style="normal" text-anchor="middle" fill="#262626" textLength="39.69" lengthAdjust="spacingAndGlyphs">200</text><text x="87.00" y="1400.69" font-family="Liberation Sans" font-size="21.50" font-weight="normal" font-style="normal" text-anchor="end" fill="#262626" textLength="59.53" lengthAdjust="spacingAndGlyphs">35.03</text><text x="87.00" y="1341.12" font-family="Liberation Sans" font-size="21.50" font-weight="normal" font-style="normal" text-anchor="end" fill="#262626" textLength="59.53" lengthAdjust="spacingAndGlyphs">35.04</text><text x="87.00" y="1281.55" font-family="Liberation Sans" font-size="21.50" font-weight="normal" font-style="normal" text-anchor="end" fill="#262626" textLength="59.53" lengthAdjust="spacingAndGlyphs">35.05</text><text x="87.00" y="1221.98" font-family="Liberation Sans" font-size="21.50" font-weight="normal" font-style="normal" text-anchor="end" fill="#262626" textLength="59.53" lengthAdjust="spacingAndGlyphs">35.06</text><text x="87.00" y="1162.41" font-family="Liberation Sans" font-size="21.50" font-weight="normal" font-style="normal" text-anchor="end" fill="#262626" textLength="59.53" lengthAdjust="spacingAndGlyphs">35.07</text><text x="87.00" y="1102.84" font-family="Liberation Sans" font-size="21.50" font-weight="normal" font-style="normal" text-anchor="end" fill="#262626" textLength="59.53" lengthAdjust="spacingAndGlyphs">35.08</text><text x="87.00" y="1043.27" font-family="Liberation Sans" font-size="21.50" font-weight="normal" font-style="normal" text-anchor="end" fill="#262626" textLength="59.53" lengthAdjust="spacingAndGlyphs">35.09</text><text x="87.00" y="983.70" font-family="Liberation Sans" font-size="21.50" font-weight="normal" font-style="normal" text-anchor="end" fill="#262626" textLength="46.30" lengthAdjust="spacingAndGlyphs">35.1</text><path d="M100.50 1448.50v-8M100.50 976.50v8M183.50 1448.50v-8M183.50 976.50v8M267.50 1448.50v-8M267.50 976.50v8M350.50 1448.50v-8M350.50 976.50v8M433.50 1448.50v-8M433.50 976.50v8M517.50 1448.50v-8M517.50 976.50v8M600.50 1448.50v-8M600.50 976.50v8M683.50 1448.50v-8M683.50 976.50v8M767.50 1448.50v-8M767.50 976.50v8M850.50 1448.50v-8M850.50 976.50v8M933.50 1448.50v-8M933.50 976.50v8M96.50 1393.50h8M983.50 1393.50h-8M96.50 1333.50h8M983.50 1333.50h-8M96.50 1274.50h8M983.50 1274.50h-8M96.50 1214.50h8M983.50 1214.50h-8M96.50 1155.50h8M983.50 1155.50h-8M96.50 1095.50h8M983.50 1095.50h-8M96.50 1035.50h8M983.50 1035.50h-8M96.50 976.50h8M983.50 976.50h-8" stroke="#262626" stroke-width="1"/><text x="218.00" y="966.80" font-family="Liberation Sans" font-size="22.80" font-weight="bold" font-style="normal" text-anchor="start" fill="#000" textLength="466.00" lengthAdjust="spacingAndGlyphs">WHOI, Woods Hole, MA at aoml S on</text><text x="694.80" y="967.00" font-family="Liberation Serif" font-size="24.00" font-weight="normal" font-style="italic" text-anchor="start" fill="#000">&#952;</text><text x="716.70" y="966.80" font-family="Liberation Sans" font-size="22.80" font-weight="bold" font-style="normal" text-anchor="start" fill="#000" textLength="17.50" lengthAdjust="spacingAndGlyphs">=</text><text x="743.00" y="966.80" font-family="Liberation Sans" font-size="22.80" font-weight="bold" font-style="normal" text-anchor="start" fill="#000" textLength="88.00" lengthAdjust="spacingAndGlyphs">4.2507</text><text x="830.00" y="956.80" font-family="Liberation Sans" font-size="20.00" font-weight="bold" font-style="normal" text-anchor="start" fill="#000" textLength="12.50" lengthAdjust="spacingAndGlyphs">o</text><text x="844.50" y="966.80" font-family="Liberation Sans" font-size="22.80" font-weight="bold" font-style="normal" text-anchor="start" fill="#000" textLength="17.00" lengthAdjust="spacingAndGlyphs">C</text><text x="540.30" y="1506.00" font-family="Liberation Sans" font-size="22.70" font-weight="normal" font-style="normal" text-anchor="middle" fill="#262626" textLength="317.00" lengthAdjust="spacingAndGlyphs">Profile Number for SN 2096</text><text transform="translate(16 1212) rotate(-90)" x="0" y="0" text-anchor="middle" font-family="Liberation Sans" font-size="22.7" textLength="85" lengthAdjust="spacingAndGlyphs" fill="#262626">Salinity</text><rect x="995.5" y="977.5" width="181" height="471" fill="#fff" stroke="#262626" stroke-width="1"/><text x="1069.80" y="1039.30" font-family="Liberation Sans" font-size="18.60" font-weight="normal" font-style="normal" text-anchor="start" fill="#000" textLength="87.30" lengthAdjust="spacingAndGlyphs">Raw float</text><text x="1069.80" y="1129.50" font-family="Liberation Sans" font-size="18.60" font-weight="normal" font-style="normal" text-anchor="start" fill="#000" textLength="99.50" lengthAdjust="spacingAndGlyphs">CARS2006</text><text x="1069.80" y="1220.10" font-family="Liberation Sans" font-size="18.60" font-weight="normal" font-style="normal" text-anchor="start" fill="#000" textLength="66.00" lengthAdjust="spacingAndGlyphs">MIMOC</text><text x="1069.80" y="1310.00" font-family="Liberation Sans" font-size="18.60" font-weight="normal" font-style="normal" text-anchor="start" fill="#000" textLength="100.00" lengthAdjust="spacingAndGlyphs">CARS NEW</text><text x="1069.80" y="1400.00" font-family="Liberation Sans" font-size="18.60" font-weight="normal" font-style="normal" text-anchor="start" fill="#000" textLength="89.00" lengthAdjust="spacingAndGlyphs">Best float</text><path d="M1001 1032.5H1063" stroke="#0000ff" stroke-width="1.1" stroke-dasharray="1.2 2.8"/><path d="M1025.5 1032.5h14M1032.5 1026v13M1028 1028l9 9M1028 1037l9 -9" stroke="#0000ff" stroke-width="1.2"/><path d="M1001.5 1123H1063.4" stroke="#ff0000" stroke-width="1.2"/><circle cx="1032.6" cy="1123" r="2.2" fill="#ff0000"/><path d="M1001.5 1213.3H1063.4" stroke="#ff00ff" stroke-width="1.2"/><circle cx="1032.6" cy="1213.3" r="2.2" fill="#ff00ff"/><path d="M1001.5 1303.2H1063.4" stroke="#00ff00" stroke-width="1.2"/><circle cx="1032.6" cy="1303.2" r="2.2" fill="#00ff00"/><path d="M1001.5 1393.2H1063.4" stroke="#000" stroke-width="1.1" stroke-dasharray="6 3 1.5 3"/><circle cx="1032.6" cy="1393.2" r="6.3" fill="none" stroke="#000" stroke-width="1.1"/><text x="48.00" y="1548.00" font-family="Liberation Sans" font-size="16.60" font-weight="normal" font-style="normal" text-anchor="start" fill="#000" textLength="198.00" lengthAdjust="spacingAndGlyphs">WHOI Argo:08-Jun-2018</text>
</svg></body></html>
